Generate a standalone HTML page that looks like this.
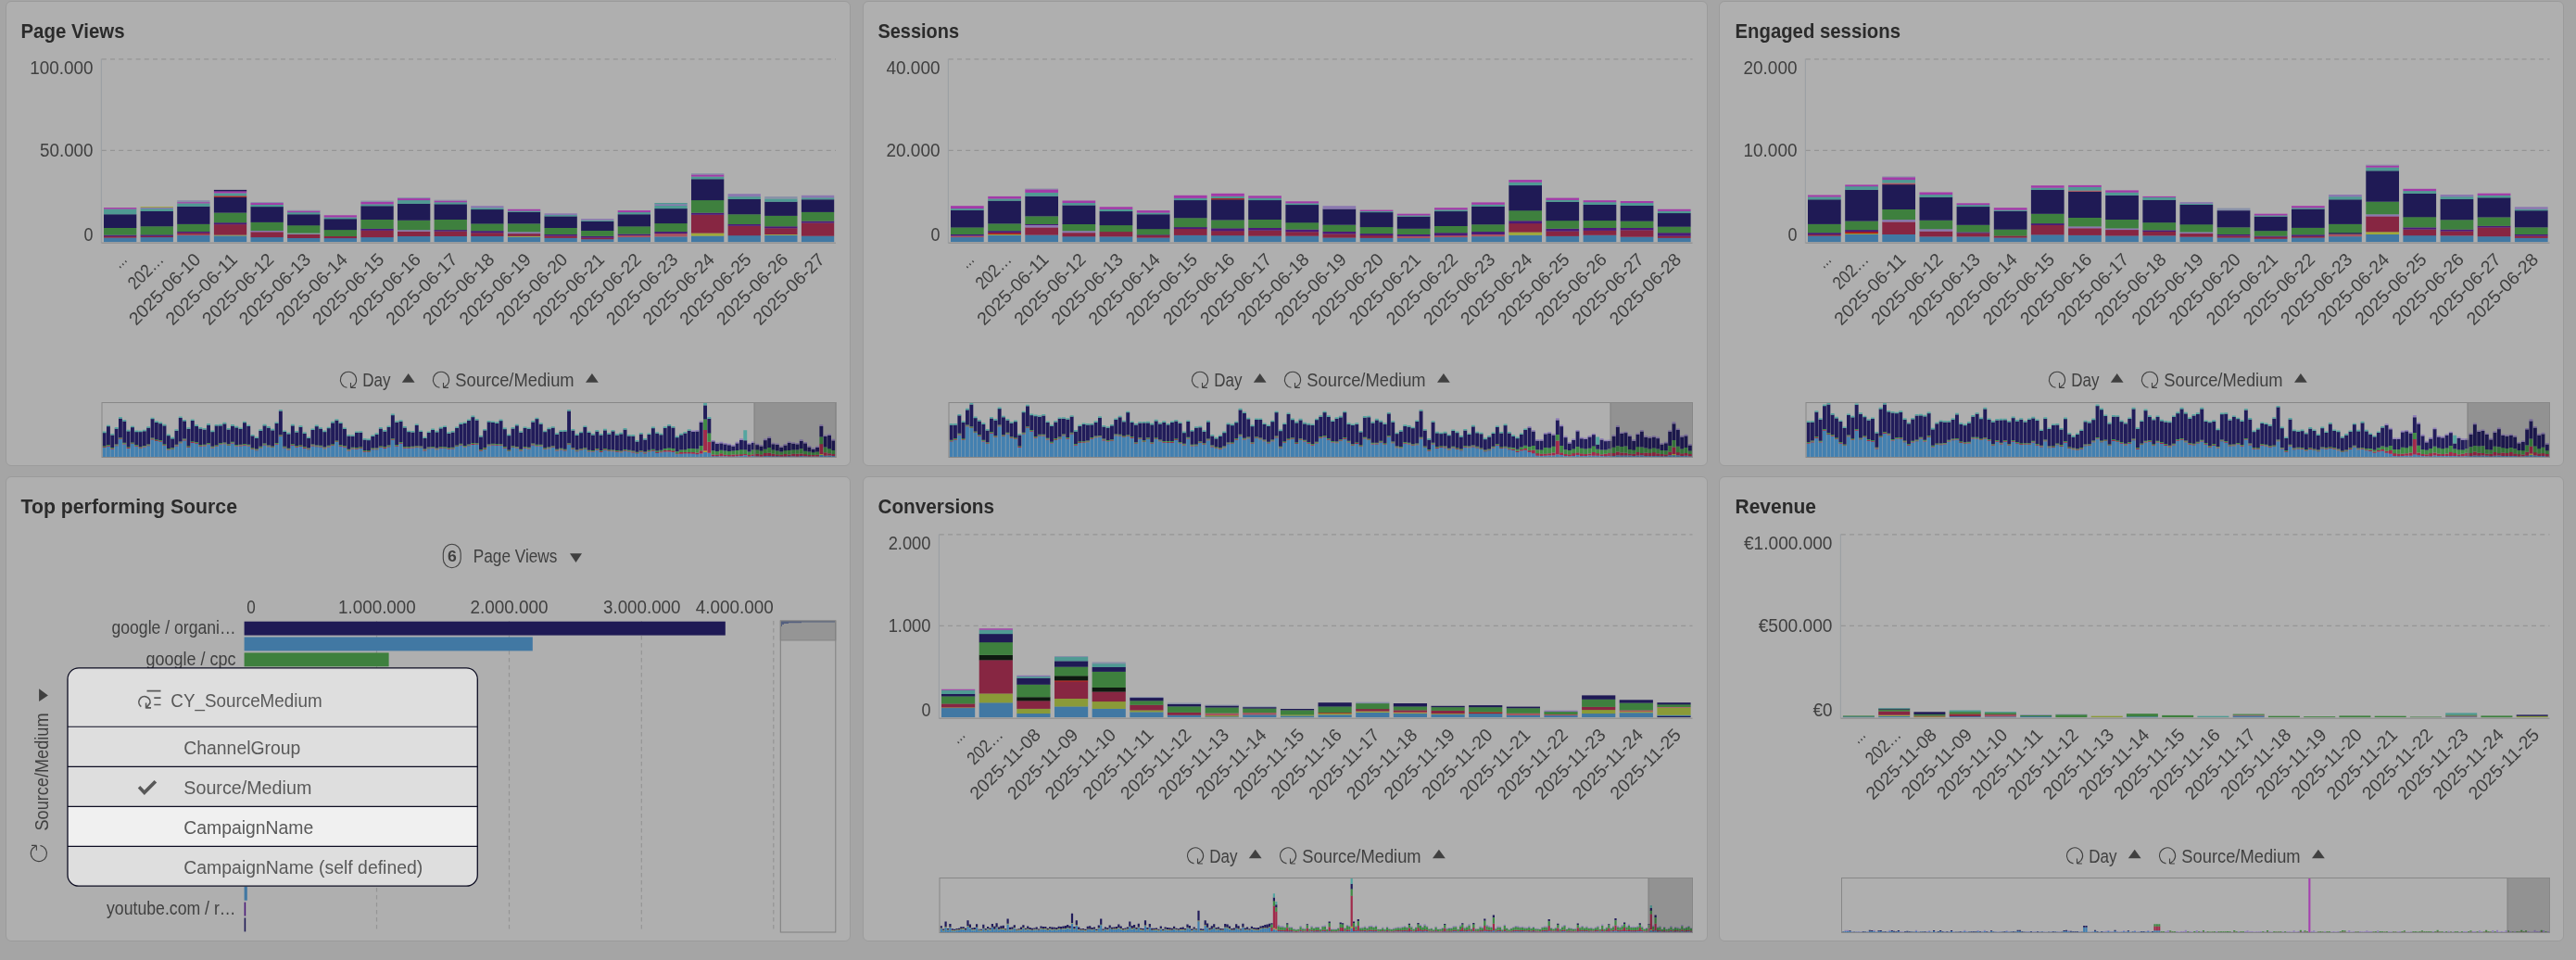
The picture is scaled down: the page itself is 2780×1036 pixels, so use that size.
<!DOCTYPE html>
<html lang="en"><head><meta charset="utf-8"><title>Dashboard</title>
<style>
html,body{margin:0;padding:0}
body{width:2780px;height:1036px;background:#a5a5a5;overflow:hidden;position:relative;font-family:"Liberation Sans", sans-serif}
.panel{position:absolute;box-sizing:border-box;background:#afafaf;border:1px solid #9b9b9b;border-radius:6px}
svg{position:absolute;left:0;top:0;will-change:transform}
svg text{font-family:"Liberation Sans", sans-serif}
#popup{position:absolute;left:69px;top:717px;width:450px;height:243px}
</style></head><body>
<div class="panel" style="left:6px;top:1px;width:912px;height:501.5px"></div>
<div class="panel" style="left:930.5px;top:1px;width:912px;height:501.5px"></div>
<div class="panel" style="left:1855px;top:1px;width:912px;height:501.5px"></div>
<div class="panel" style="left:6px;top:514px;width:912px;height:501.5px"></div>
<div class="panel" style="left:930.5px;top:514px;width:912px;height:501.5px"></div>
<div class="panel" style="left:1855px;top:514px;width:912px;height:501.5px"></div>
<svg width="2780" height="1036" viewBox="0 0 2780 1036" font-size="19.3" fill="#404040">
<text x="22.5" y="40.7" textLength="112" lengthAdjust="spacingAndGlyphs" font-weight="bold" font-size="22.6" fill="#2b2b2b">Page Views</text>
<text x="947.5" y="40.7" textLength="87.5" lengthAdjust="spacingAndGlyphs" font-weight="bold" font-size="22.6" fill="#2b2b2b">Sessions</text>
<text x="1872.5" y="40.7" textLength="178.5" lengthAdjust="spacingAndGlyphs" font-weight="bold" font-size="22.6" fill="#2b2b2b">Engaged sessions</text>
<text x="22.5" y="553.5" textLength="233.5" lengthAdjust="spacingAndGlyphs" font-weight="bold" font-size="22.6" fill="#2b2b2b">Top performing Source</text>
<text x="947.5" y="553.5" textLength="125.5" lengthAdjust="spacingAndGlyphs" font-weight="bold" font-size="22.6" fill="#2b2b2b">Conversions</text>
<text x="1872.5" y="553.5" textLength="87.5" lengthAdjust="spacingAndGlyphs" font-weight="bold" font-size="22.6" fill="#2b2b2b">Revenue</text>
<path d="M109.8 63.8H902" stroke="#959595" stroke-width="1.3" stroke-dasharray="5 4.2" fill="none"/>
<path d="M109.8 162.3H902" stroke="#959595" stroke-width="1.3" stroke-dasharray="5 4.2" fill="none"/>
<text x="100.5" y="79.6" text-anchor="end" textLength="68.3" lengthAdjust="spacingAndGlyphs">100.000</text>
<text x="100.5" y="168.9" text-anchor="end" textLength="57.5" lengthAdjust="spacingAndGlyphs">50.000</text>
<text x="100.5" y="260.4" text-anchor="end" textLength="10" lengthAdjust="spacingAndGlyphs">0</text>
<rect x="112" y="256.4" width="35.3" height="4.8" fill="#4178a3"/>
<rect x="112" y="254.8" width="35.3" height="1.8" fill="#872642"/>
<rect x="112" y="253.5" width="35.3" height="1.4" fill="#4a1a78"/>
<rect x="112" y="245.8" width="35.3" height="7.8" fill="#3e803e"/>
<rect x="112" y="231.2" width="35.3" height="14.8" fill="#1f1a55"/>
<rect x="112" y="225.5" width="35.3" height="5.8" fill="#4f9a93"/>
<rect x="112" y="224.1" width="35.3" height="1.5" fill="#a23aa8"/>
<rect x="151.6" y="255.9" width="35.3" height="5.2" fill="#4178a3"/>
<rect x="151.6" y="254.8" width="35.3" height="1.3" fill="#872642"/>
<rect x="151.6" y="253.2" width="35.3" height="1.7" fill="#4a1a78"/>
<rect x="151.6" y="244.2" width="35.3" height="9.2" fill="#3e803e"/>
<rect x="151.6" y="227.9" width="35.3" height="16.4" fill="#1f1a55"/>
<rect x="151.6" y="225.1" width="35.3" height="2.9" fill="#4f9a93"/>
<rect x="151.6" y="223.8" width="35.3" height="1.5" fill="#8a78b0"/>
<rect x="151.6" y="223" width="35.3" height="0.9" fill="#9fa83a"/>
<rect x="191.2" y="254" width="35.3" height="7.2" fill="#4178a3"/>
<rect x="191.2" y="252.8" width="35.3" height="1.3" fill="#a85560"/>
<rect x="191.2" y="251.2" width="35.3" height="1.8" fill="#872642"/>
<rect x="191.2" y="249.9" width="35.3" height="1.4" fill="#4a1a78"/>
<rect x="191.2" y="241.8" width="35.3" height="8.2" fill="#3e803e"/>
<rect x="191.2" y="222.7" width="35.3" height="19.2" fill="#1f1a55"/>
<rect x="191.2" y="219.3" width="35.3" height="3.6" fill="#4f9a93"/>
<rect x="191.2" y="218.1" width="35.3" height="1.3" fill="#a23aa8"/>
<rect x="191.2" y="216.2" width="35.3" height="2" fill="#8890a8"/>
<rect x="230.9" y="254.3" width="35.3" height="6.9" fill="#4178a3"/>
<rect x="230.9" y="253.5" width="35.3" height="0.9" fill="#9fa83a"/>
<rect x="230.9" y="242.1" width="35.3" height="11.5" fill="#872642"/>
<rect x="230.9" y="240.1" width="35.3" height="2.1" fill="#4a1a78"/>
<rect x="230.9" y="229.5" width="35.3" height="10.8" fill="#3e803e"/>
<rect x="230.9" y="212.7" width="35.3" height="16.9" fill="#1f1a55"/>
<rect x="230.9" y="211.3" width="35.3" height="1.6" fill="#a82020"/>
<rect x="230.9" y="208.3" width="35.3" height="3.1" fill="#4f9a93"/>
<rect x="230.9" y="206.2" width="35.3" height="2.2" fill="#a23aa8"/>
<rect x="230.9" y="204.9" width="35.3" height="1.5" fill="#1f1a55"/>
<rect x="270.5" y="255.9" width="35.3" height="5.2" fill="#4178a3"/>
<rect x="270.5" y="250.2" width="35.3" height="5.9" fill="#872642"/>
<rect x="270.5" y="248.8" width="35.3" height="1.5" fill="#8a78b0"/>
<rect x="270.5" y="239.8" width="35.3" height="9.2" fill="#3e803e"/>
<rect x="270.5" y="223" width="35.3" height="16.9" fill="#1f1a55"/>
<rect x="270.5" y="220.9" width="35.3" height="2.3" fill="#4f9a93"/>
<rect x="270.5" y="219" width="35.3" height="2" fill="#a23aa8"/>
<rect x="270.5" y="218.1" width="35.3" height="1" fill="#8890a8"/>
<rect x="310.1" y="256.9" width="35.3" height="4.2" fill="#4178a3"/>
<rect x="310.1" y="252.8" width="35.3" height="4.2" fill="#872642"/>
<rect x="310.1" y="251.5" width="35.3" height="1.5" fill="#8890a8"/>
<rect x="310.1" y="243.1" width="35.3" height="8.5" fill="#3e803e"/>
<rect x="310.1" y="231.2" width="35.3" height="12.1" fill="#1f1a55"/>
<rect x="310.1" y="229" width="35.3" height="2.3" fill="#4f9a93"/>
<rect x="310.1" y="227.4" width="35.3" height="1.8" fill="#a23aa8"/>
<rect x="310.1" y="226.8" width="35.3" height="0.8" fill="#8890a8"/>
<rect x="349.7" y="256.9" width="35.3" height="4.2" fill="#4178a3"/>
<rect x="349.7" y="254.8" width="35.3" height="2.3" fill="#872642"/>
<rect x="349.7" y="248" width="35.3" height="7" fill="#3e803e"/>
<rect x="349.7" y="236.1" width="35.3" height="12" fill="#1f1a55"/>
<rect x="349.7" y="234.4" width="35.3" height="1.9" fill="#4f9a93"/>
<rect x="349.7" y="232.3" width="35.3" height="2.2" fill="#a23aa8"/>
<rect x="389.4" y="255.9" width="35.3" height="5.2" fill="#4178a3"/>
<rect x="389.4" y="248.6" width="35.3" height="7.5" fill="#872642"/>
<rect x="389.4" y="246.7" width="35.3" height="2.1" fill="#4a1a78"/>
<rect x="389.4" y="236.9" width="35.3" height="10" fill="#3e803e"/>
<rect x="389.4" y="222.2" width="35.3" height="14.8" fill="#1f1a55"/>
<rect x="389.4" y="220.2" width="35.3" height="2.1" fill="#4f9a93"/>
<rect x="389.4" y="217.8" width="35.3" height="2.6" fill="#a23aa8"/>
<rect x="389.4" y="216.6" width="35.3" height="1.3" fill="#8890a8"/>
<rect x="429" y="254.8" width="35.3" height="6.4" fill="#4178a3"/>
<rect x="429" y="249.6" width="35.3" height="5.4" fill="#872642"/>
<rect x="429" y="248" width="35.3" height="1.7" fill="#8a78b0"/>
<rect x="429" y="237.7" width="35.3" height="10.5" fill="#3e803e"/>
<rect x="429" y="219.7" width="35.3" height="18.1" fill="#1f1a55"/>
<rect x="429" y="216" width="35.3" height="3.9" fill="#4f9a93"/>
<rect x="429" y="214" width="35.3" height="2.1" fill="#a23aa8"/>
<rect x="429" y="213.1" width="35.3" height="1" fill="#8890a8"/>
<rect x="468.6" y="254.8" width="35.3" height="6.4" fill="#4178a3"/>
<rect x="468.6" y="249.6" width="35.3" height="5.4" fill="#872642"/>
<rect x="468.6" y="248" width="35.3" height="1.7" fill="#4a1a78"/>
<rect x="468.6" y="236.9" width="35.3" height="11.3" fill="#3e803e"/>
<rect x="468.6" y="220.2" width="35.3" height="16.8" fill="#1f1a55"/>
<rect x="468.6" y="218.1" width="35.3" height="2.3" fill="#4f9a93"/>
<rect x="468.6" y="216.5" width="35.3" height="1.8" fill="#a23aa8"/>
<rect x="468.6" y="215.7" width="35.3" height="0.9" fill="#8890a8"/>
<rect x="508.2" y="254.8" width="35.3" height="6.4" fill="#4178a3"/>
<rect x="508.2" y="251.2" width="35.3" height="3.8" fill="#872642"/>
<rect x="508.2" y="249.1" width="35.3" height="2.2" fill="#4a1a78"/>
<rect x="508.2" y="241.3" width="35.3" height="7.9" fill="#3e803e"/>
<rect x="508.2" y="226" width="35.3" height="15.5" fill="#1f1a55"/>
<rect x="508.2" y="224.2" width="35.3" height="1.9" fill="#4f9a93"/>
<rect x="508.2" y="222.2" width="35.3" height="2.1" fill="#8a78b0"/>
<rect x="547.9" y="255.6" width="35.3" height="5.6" fill="#4178a3"/>
<rect x="547.9" y="254.8" width="35.3" height="0.9" fill="#9fa83a"/>
<rect x="547.9" y="252" width="35.3" height="2.9" fill="#872642"/>
<rect x="547.9" y="250.2" width="35.3" height="2" fill="#8a78b0"/>
<rect x="547.9" y="241.3" width="35.3" height="9" fill="#3e803e"/>
<rect x="547.9" y="228.7" width="35.3" height="12.7" fill="#1f1a55"/>
<rect x="547.9" y="227.4" width="35.3" height="1.5" fill="#4f9a93"/>
<rect x="547.9" y="225.8" width="35.3" height="1.8" fill="#a23aa8"/>
<rect x="587.5" y="256.8" width="35.3" height="4.4" fill="#4178a3"/>
<rect x="587.5" y="254.5" width="35.3" height="2.4" fill="#872642"/>
<rect x="587.5" y="252.8" width="35.3" height="1.8" fill="#4a1a78"/>
<rect x="587.5" y="245.8" width="35.3" height="7.2" fill="#3e803e"/>
<rect x="587.5" y="233.3" width="35.3" height="12.7" fill="#1f1a55"/>
<rect x="587.5" y="232" width="35.3" height="1.5" fill="#4f9a93"/>
<rect x="587.5" y="230.3" width="35.3" height="1.8" fill="#8a78b0"/>
<rect x="627.1" y="258.1" width="35.3" height="3" fill="#4178a3"/>
<rect x="627.1" y="256.4" width="35.3" height="1.8" fill="#872642"/>
<rect x="627.1" y="254.8" width="35.3" height="1.8" fill="#4a1a78"/>
<rect x="627.1" y="248.8" width="35.3" height="6.1" fill="#3e803e"/>
<rect x="627.1" y="238.8" width="35.3" height="10.2" fill="#1f1a55"/>
<rect x="627.1" y="237.6" width="35.3" height="1.3" fill="#4f9a93"/>
<rect x="627.1" y="236.1" width="35.3" height="1.6" fill="#8a78b0"/>
<rect x="666.7" y="255.9" width="35.3" height="5.2" fill="#4178a3"/>
<rect x="666.7" y="254" width="35.3" height="2.1" fill="#a85560"/>
<rect x="666.7" y="252.4" width="35.3" height="1.7" fill="#4a1a78"/>
<rect x="666.7" y="244.2" width="35.3" height="8.4" fill="#3e803e"/>
<rect x="666.7" y="231.2" width="35.3" height="13.2" fill="#1f1a55"/>
<rect x="666.7" y="229" width="35.3" height="2.3" fill="#4f9a93"/>
<rect x="666.7" y="227.1" width="35.3" height="2" fill="#a23aa8"/>
<rect x="706.4" y="255.3" width="35.3" height="5.9" fill="#4178a3"/>
<rect x="706.4" y="252" width="35.3" height="3.4" fill="#a85560"/>
<rect x="706.4" y="249.9" width="35.3" height="2.2" fill="#4a1a78"/>
<rect x="706.4" y="241" width="35.3" height="9.1" fill="#3e803e"/>
<rect x="706.4" y="225" width="35.3" height="16.1" fill="#1f1a55"/>
<rect x="706.4" y="221.9" width="35.3" height="3.3" fill="#4f9a93"/>
<rect x="706.4" y="220.2" width="35.3" height="1.8" fill="#8a78b0"/>
<rect x="706.4" y="219" width="35.3" height="1.4" fill="#4f9a93"/>
<rect x="746" y="254.5" width="35.3" height="6.7" fill="#4178a3"/>
<rect x="746" y="251.5" width="35.3" height="3.1" fill="#9fa83a"/>
<rect x="746" y="231.7" width="35.3" height="19.9" fill="#872642"/>
<rect x="746" y="229.5" width="35.3" height="2.3" fill="#4a1a78"/>
<rect x="746" y="216" width="35.3" height="13.7" fill="#3e803e"/>
<rect x="746" y="193.2" width="35.3" height="22.9" fill="#1f1a55"/>
<rect x="746" y="190.4" width="35.3" height="2.9" fill="#4f9a93"/>
<rect x="746" y="188.3" width="35.3" height="2.3" fill="#a23aa8"/>
<rect x="746" y="187.1" width="35.3" height="1.4" fill="#8890a8"/>
<rect x="785.6" y="254" width="35.3" height="7.2" fill="#4178a3"/>
<rect x="785.6" y="243.7" width="35.3" height="10.5" fill="#872642"/>
<rect x="785.6" y="241.8" width="35.3" height="2" fill="#4a1a78"/>
<rect x="785.6" y="231.2" width="35.3" height="10.8" fill="#3e803e"/>
<rect x="785.6" y="214.9" width="35.3" height="16.4" fill="#1f1a55"/>
<rect x="785.6" y="212.1" width="35.3" height="2.9" fill="#4f9a93"/>
<rect x="785.6" y="209.2" width="35.3" height="3" fill="#8a78b0"/>
<rect x="825.2" y="253.7" width="35.3" height="7.5" fill="#4178a3"/>
<rect x="825.2" y="252.8" width="35.3" height="1" fill="#9fa83a"/>
<rect x="825.2" y="246.2" width="35.3" height="6.8" fill="#872642"/>
<rect x="825.2" y="244.2" width="35.3" height="2.1" fill="#4a1a78"/>
<rect x="825.2" y="232.8" width="35.3" height="11.5" fill="#3e803e"/>
<rect x="825.2" y="217.6" width="35.3" height="15.3" fill="#1f1a55"/>
<rect x="825.2" y="214.4" width="35.3" height="3.4" fill="#4f9a93"/>
<rect x="825.2" y="212.1" width="35.3" height="2.4" fill="#8890a8"/>
<rect x="864.9" y="254.5" width="35.3" height="6.7" fill="#4178a3"/>
<rect x="864.9" y="240.5" width="35.3" height="14.2" fill="#872642"/>
<rect x="864.9" y="238.5" width="35.3" height="2.1" fill="#4a1a78"/>
<rect x="864.9" y="228.7" width="35.3" height="9.9" fill="#3e803e"/>
<rect x="864.9" y="215.2" width="35.3" height="13.7" fill="#1f1a55"/>
<rect x="864.9" y="213.2" width="35.3" height="2.1" fill="#4f9a93"/>
<rect x="864.9" y="210.8" width="35.3" height="2.6" fill="#8a78b0"/>
<path d="M109.4 63.5V262.5" stroke="#9499a0" stroke-width="0.8" fill="none"/>
<path d="M109.5 262.2H902" stroke="#959595" stroke-width="1.5" fill="none"/>
<text transform="translate(138.3,281.2) rotate(-45)" text-anchor="end" textLength="13.5" lengthAdjust="spacingAndGlyphs">…</text>
<text transform="translate(177.9,281.2) rotate(-45)" text-anchor="end" textLength="45.5" lengthAdjust="spacingAndGlyphs">202…</text>
<text transform="translate(217.6,281.2) rotate(-45)" text-anchor="end" textLength="100" lengthAdjust="spacingAndGlyphs">2025-06-10</text>
<text transform="translate(257.2,281.2) rotate(-45)" text-anchor="end" textLength="100" lengthAdjust="spacingAndGlyphs">2025-06-11</text>
<text transform="translate(296.8,281.2) rotate(-45)" text-anchor="end" textLength="100" lengthAdjust="spacingAndGlyphs">2025-06-12</text>
<text transform="translate(336.4,281.2) rotate(-45)" text-anchor="end" textLength="100" lengthAdjust="spacingAndGlyphs">2025-06-13</text>
<text transform="translate(376.1,281.2) rotate(-45)" text-anchor="end" textLength="100" lengthAdjust="spacingAndGlyphs">2025-06-14</text>
<text transform="translate(415.7,281.2) rotate(-45)" text-anchor="end" textLength="100" lengthAdjust="spacingAndGlyphs">2025-06-15</text>
<text transform="translate(455.3,281.2) rotate(-45)" text-anchor="end" textLength="100" lengthAdjust="spacingAndGlyphs">2025-06-16</text>
<text transform="translate(494.9,281.2) rotate(-45)" text-anchor="end" textLength="100" lengthAdjust="spacingAndGlyphs">2025-06-17</text>
<text transform="translate(534.6,281.2) rotate(-45)" text-anchor="end" textLength="100" lengthAdjust="spacingAndGlyphs">2025-06-18</text>
<text transform="translate(574.2,281.2) rotate(-45)" text-anchor="end" textLength="100" lengthAdjust="spacingAndGlyphs">2025-06-19</text>
<text transform="translate(613.8,281.2) rotate(-45)" text-anchor="end" textLength="100" lengthAdjust="spacingAndGlyphs">2025-06-20</text>
<text transform="translate(653.4,281.2) rotate(-45)" text-anchor="end" textLength="100" lengthAdjust="spacingAndGlyphs">2025-06-21</text>
<text transform="translate(693.1,281.2) rotate(-45)" text-anchor="end" textLength="100" lengthAdjust="spacingAndGlyphs">2025-06-22</text>
<text transform="translate(732.7,281.2) rotate(-45)" text-anchor="end" textLength="100" lengthAdjust="spacingAndGlyphs">2025-06-23</text>
<text transform="translate(772.3,281.2) rotate(-45)" text-anchor="end" textLength="100" lengthAdjust="spacingAndGlyphs">2025-06-24</text>
<text transform="translate(811.9,281.2) rotate(-45)" text-anchor="end" textLength="100" lengthAdjust="spacingAndGlyphs">2025-06-25</text>
<text transform="translate(851.6,281.2) rotate(-45)" text-anchor="end" textLength="100" lengthAdjust="spacingAndGlyphs">2025-06-26</text>
<text transform="translate(891.2,281.2) rotate(-45)" text-anchor="end" textLength="100" lengthAdjust="spacingAndGlyphs">2025-06-27</text>
<path d="M1023.8 63.8H1826.5" stroke="#959595" stroke-width="1.3" stroke-dasharray="5 4.2" fill="none"/>
<path d="M1023.8 162.3H1826.5" stroke="#959595" stroke-width="1.3" stroke-dasharray="5 4.2" fill="none"/>
<text x="1014.5" y="79.6" text-anchor="end" textLength="58" lengthAdjust="spacingAndGlyphs">40.000</text>
<text x="1014.5" y="168.9" text-anchor="end" textLength="58" lengthAdjust="spacingAndGlyphs">20.000</text>
<text x="1014.5" y="260.4" text-anchor="end" textLength="10" lengthAdjust="spacingAndGlyphs">0</text>
<rect x="1026" y="255.9" width="35.7" height="5.2" fill="#4178a3"/>
<rect x="1026" y="254.5" width="35.7" height="1.6" fill="#a85560"/>
<rect x="1026" y="252.8" width="35.7" height="1.8" fill="#4a1a78"/>
<rect x="1026" y="245.3" width="35.7" height="7.7" fill="#3e803e"/>
<rect x="1026" y="226.8" width="35.7" height="18.7" fill="#1f1a55"/>
<rect x="1026" y="225" width="35.7" height="1.9" fill="#4f9a93"/>
<rect x="1026" y="222.2" width="35.7" height="2.9" fill="#a23aa8"/>
<rect x="1066.2" y="253.7" width="35.7" height="7.5" fill="#4178a3"/>
<rect x="1066.2" y="252.8" width="35.7" height="1" fill="#9fa83a"/>
<rect x="1066.2" y="251.1" width="35.7" height="1.9" fill="#a82020"/>
<rect x="1066.2" y="249.1" width="35.7" height="2.1" fill="#4a1a78"/>
<rect x="1066.2" y="241.3" width="35.7" height="7.9" fill="#3e803e"/>
<rect x="1066.2" y="216.5" width="35.7" height="24.9" fill="#1f1a55"/>
<rect x="1066.2" y="214.4" width="35.7" height="2.3" fill="#4f9a93"/>
<rect x="1066.2" y="211.9" width="35.7" height="2.6" fill="#a23aa8"/>
<rect x="1106.3" y="253.5" width="35.7" height="7.7" fill="#4178a3"/>
<rect x="1106.3" y="245.3" width="35.7" height="8.3" fill="#872642"/>
<rect x="1106.3" y="242.9" width="35.7" height="2.6" fill="#8a78b0"/>
<rect x="1106.3" y="241.8" width="35.7" height="1.2" fill="#4a1a78"/>
<rect x="1106.3" y="233.3" width="35.7" height="8.7" fill="#3e803e"/>
<rect x="1106.3" y="211.6" width="35.7" height="21.8" fill="#1f1a55"/>
<rect x="1106.3" y="207.8" width="35.7" height="4" fill="#4f9a93"/>
<rect x="1106.3" y="204.3" width="35.7" height="3.6" fill="#a23aa8"/>
<rect x="1106.3" y="203.5" width="35.7" height="0.9" fill="#8890a8"/>
<rect x="1146.5" y="255.1" width="35.7" height="6.1" fill="#4178a3"/>
<rect x="1146.5" y="251.1" width="35.7" height="4.2" fill="#872642"/>
<rect x="1146.5" y="249.1" width="35.7" height="2.1" fill="#8a78b0"/>
<rect x="1146.5" y="241.8" width="35.7" height="7.4" fill="#3e803e"/>
<rect x="1146.5" y="221.4" width="35.7" height="20.6" fill="#1f1a55"/>
<rect x="1146.5" y="219" width="35.7" height="2.5" fill="#4f9a93"/>
<rect x="1146.5" y="216.5" width="35.7" height="2.6" fill="#a23aa8"/>
<rect x="1186.6" y="255.3" width="35.7" height="5.9" fill="#4178a3"/>
<rect x="1186.6" y="249.9" width="35.7" height="5.5" fill="#872642"/>
<rect x="1186.6" y="242.9" width="35.7" height="7.2" fill="#3e803e"/>
<rect x="1186.6" y="227.9" width="35.7" height="15.2" fill="#1f1a55"/>
<rect x="1186.6" y="225.8" width="35.7" height="2.3" fill="#4f9a93"/>
<rect x="1186.6" y="223.3" width="35.7" height="2.6" fill="#a23aa8"/>
<rect x="1226.8" y="256.4" width="35.7" height="4.8" fill="#4178a3"/>
<rect x="1226.8" y="254" width="35.7" height="2.6" fill="#872642"/>
<rect x="1226.8" y="253.2" width="35.7" height="0.9" fill="#4a1a78"/>
<rect x="1226.8" y="247" width="35.7" height="6.4" fill="#3e803e"/>
<rect x="1226.8" y="231.2" width="35.7" height="16" fill="#1f1a55"/>
<rect x="1226.8" y="229.5" width="35.7" height="1.8" fill="#4f9a93"/>
<rect x="1226.8" y="227.1" width="35.7" height="2.5" fill="#a23aa8"/>
<rect x="1266.9" y="253.7" width="35.7" height="7.5" fill="#4178a3"/>
<rect x="1266.9" y="247" width="35.7" height="6.9" fill="#872642"/>
<rect x="1266.9" y="245" width="35.7" height="2.1" fill="#4a1a78"/>
<rect x="1266.9" y="235.2" width="35.7" height="10" fill="#3e803e"/>
<rect x="1266.9" y="216" width="35.7" height="19.3" fill="#1f1a55"/>
<rect x="1266.9" y="213.7" width="35.7" height="2.4" fill="#4f9a93"/>
<rect x="1266.9" y="210.8" width="35.7" height="3.1" fill="#a23aa8"/>
<rect x="1307.1" y="254" width="35.7" height="7.2" fill="#4178a3"/>
<rect x="1307.1" y="249.1" width="35.7" height="5.1" fill="#872642"/>
<rect x="1307.1" y="246.2" width="35.7" height="3.1" fill="#4a1a78"/>
<rect x="1307.1" y="237.4" width="35.7" height="9" fill="#3e803e"/>
<rect x="1307.1" y="215.2" width="35.7" height="22.3" fill="#1f1a55"/>
<rect x="1307.1" y="214" width="35.7" height="1.4" fill="#a82020"/>
<rect x="1307.1" y="211.6" width="35.7" height="2.5" fill="#4f9a93"/>
<rect x="1307.1" y="208.8" width="35.7" height="3" fill="#a23aa8"/>
<rect x="1347.2" y="254.5" width="35.7" height="6.7" fill="#4178a3"/>
<rect x="1347.2" y="248.6" width="35.7" height="6.1" fill="#872642"/>
<rect x="1347.2" y="245.8" width="35.7" height="2.9" fill="#4a1a78"/>
<rect x="1347.2" y="236.9" width="35.7" height="9.1" fill="#3e803e"/>
<rect x="1347.2" y="216" width="35.7" height="21" fill="#1f1a55"/>
<rect x="1347.2" y="213.6" width="35.7" height="2.5" fill="#4f9a93"/>
<rect x="1347.2" y="211.3" width="35.7" height="2.5" fill="#a23aa8"/>
<rect x="1387.4" y="254.5" width="35.7" height="6.7" fill="#4178a3"/>
<rect x="1387.4" y="250.2" width="35.7" height="4.5" fill="#872642"/>
<rect x="1387.4" y="247.5" width="35.7" height="2.8" fill="#4a1a78"/>
<rect x="1387.4" y="240.1" width="35.7" height="7.5" fill="#3e803e"/>
<rect x="1387.4" y="220.9" width="35.7" height="19.4" fill="#1f1a55"/>
<rect x="1387.4" y="219.3" width="35.7" height="1.8" fill="#4f9a93"/>
<rect x="1387.4" y="217.3" width="35.7" height="2.1" fill="#a23aa8"/>
<rect x="1427.5" y="256.4" width="35.7" height="4.8" fill="#4178a3"/>
<rect x="1427.5" y="252.4" width="35.7" height="4.2" fill="#872642"/>
<rect x="1427.5" y="249.9" width="35.7" height="2.6" fill="#4a1a78"/>
<rect x="1427.5" y="242.6" width="35.7" height="7.4" fill="#3e803e"/>
<rect x="1427.5" y="225.5" width="35.7" height="17.2" fill="#1f1a55"/>
<rect x="1427.5" y="222.2" width="35.7" height="3.4" fill="#8a78b0"/>
<rect x="1467.7" y="256.8" width="35.7" height="4.4" fill="#4178a3"/>
<rect x="1467.7" y="254" width="35.7" height="2.9" fill="#872642"/>
<rect x="1467.7" y="252" width="35.7" height="2.1" fill="#4a1a78"/>
<rect x="1467.7" y="245" width="35.7" height="7.2" fill="#3e803e"/>
<rect x="1467.7" y="229" width="35.7" height="16.1" fill="#1f1a55"/>
<rect x="1467.7" y="227.9" width="35.7" height="1.3" fill="#4f9a93"/>
<rect x="1467.7" y="226.6" width="35.7" height="1.4" fill="#a23aa8"/>
<rect x="1507.8" y="256.9" width="35.7" height="4.2" fill="#4178a3"/>
<rect x="1507.8" y="254.8" width="35.7" height="2.3" fill="#a85560"/>
<rect x="1507.8" y="252.8" width="35.7" height="2.1" fill="#4a1a78"/>
<rect x="1507.8" y="246.7" width="35.7" height="6.3" fill="#3e803e"/>
<rect x="1507.8" y="233.6" width="35.7" height="13.2" fill="#1f1a55"/>
<rect x="1507.8" y="232.3" width="35.7" height="1.5" fill="#4f9a93"/>
<rect x="1507.8" y="230.7" width="35.7" height="1.8" fill="#a23aa8"/>
<rect x="1548" y="255.9" width="35.7" height="5.2" fill="#4178a3"/>
<rect x="1548" y="254" width="35.7" height="2.1" fill="#a85560"/>
<rect x="1548" y="251.1" width="35.7" height="3.1" fill="#4a1a78"/>
<rect x="1548" y="243.9" width="35.7" height="7.4" fill="#3e803e"/>
<rect x="1548" y="227.9" width="35.7" height="16.1" fill="#1f1a55"/>
<rect x="1548" y="226.3" width="35.7" height="1.8" fill="#4f9a93"/>
<rect x="1548" y="224.2" width="35.7" height="2.2" fill="#a23aa8"/>
<rect x="1588.1" y="255.1" width="35.7" height="6.1" fill="#4178a3"/>
<rect x="1588.1" y="252.8" width="35.7" height="2.4" fill="#a85560"/>
<rect x="1588.1" y="249.9" width="35.7" height="3.1" fill="#4a1a78"/>
<rect x="1588.1" y="242.2" width="35.7" height="7.9" fill="#3e803e"/>
<rect x="1588.1" y="222.7" width="35.7" height="19.6" fill="#1f1a55"/>
<rect x="1588.1" y="220.6" width="35.7" height="2.3" fill="#4f9a93"/>
<rect x="1588.1" y="218.4" width="35.7" height="2.4" fill="#a23aa8"/>
<rect x="1628.3" y="253.7" width="35.7" height="7.5" fill="#4178a3"/>
<rect x="1628.3" y="250.4" width="35.7" height="3.4" fill="#9fa83a"/>
<rect x="1628.3" y="241" width="35.7" height="9.6" fill="#872642"/>
<rect x="1628.3" y="238.2" width="35.7" height="3" fill="#4a1a78"/>
<rect x="1628.3" y="227.1" width="35.7" height="11.2" fill="#3e803e"/>
<rect x="1628.3" y="199.9" width="35.7" height="27.4" fill="#1f1a55"/>
<rect x="1628.3" y="196.6" width="35.7" height="3.5" fill="#4f9a93"/>
<rect x="1628.3" y="194.1" width="35.7" height="2.6" fill="#a23aa8"/>
<rect x="1668.4" y="254.8" width="35.7" height="6.4" fill="#4178a3"/>
<rect x="1668.4" y="249.4" width="35.7" height="5.5" fill="#872642"/>
<rect x="1668.4" y="246.7" width="35.7" height="2.9" fill="#4a1a78"/>
<rect x="1668.4" y="238" width="35.7" height="8.8" fill="#3e803e"/>
<rect x="1668.4" y="217.8" width="35.7" height="20.4" fill="#1f1a55"/>
<rect x="1668.4" y="215.7" width="35.7" height="2.2" fill="#4f9a93"/>
<rect x="1668.4" y="213.6" width="35.7" height="2.3" fill="#a23aa8"/>
<rect x="1708.6" y="253.7" width="35.7" height="7.5" fill="#4178a3"/>
<rect x="1708.6" y="248.8" width="35.7" height="5" fill="#872642"/>
<rect x="1708.6" y="245.8" width="35.7" height="3.1" fill="#4a1a78"/>
<rect x="1708.6" y="238" width="35.7" height="8" fill="#3e803e"/>
<rect x="1708.6" y="220.9" width="35.7" height="17.2" fill="#1f1a55"/>
<rect x="1708.6" y="218.1" width="35.7" height="2.9" fill="#4f9a93"/>
<rect x="1708.6" y="216.2" width="35.7" height="2" fill="#a23aa8"/>
<rect x="1748.7" y="255.6" width="35.7" height="5.6" fill="#4178a3"/>
<rect x="1748.7" y="248.3" width="35.7" height="7.4" fill="#872642"/>
<rect x="1748.7" y="245.8" width="35.7" height="2.6" fill="#4a1a78"/>
<rect x="1748.7" y="238.5" width="35.7" height="7.5" fill="#3e803e"/>
<rect x="1748.7" y="221.9" width="35.7" height="16.8" fill="#1f1a55"/>
<rect x="1748.7" y="219" width="35.7" height="3" fill="#4f9a93"/>
<rect x="1748.7" y="217" width="35.7" height="2.1" fill="#a23aa8"/>
<rect x="1788.9" y="256.8" width="35.7" height="4.4" fill="#4178a3"/>
<rect x="1788.9" y="254.5" width="35.7" height="2.4" fill="#872642"/>
<rect x="1788.9" y="251.1" width="35.7" height="3.6" fill="#4a1a78"/>
<rect x="1788.9" y="244.5" width="35.7" height="6.8" fill="#3e803e"/>
<rect x="1788.9" y="230" width="35.7" height="14.7" fill="#1f1a55"/>
<rect x="1788.9" y="227.6" width="35.7" height="2.5" fill="#4f9a93"/>
<rect x="1788.9" y="225.8" width="35.7" height="2" fill="#a23aa8"/>
<path d="M1023.4 63.5V262.5" stroke="#9499a0" stroke-width="0.8" fill="none"/>
<path d="M1023.5 262.2H1826.5" stroke="#959595" stroke-width="1.5" fill="none"/>
<text transform="translate(1052.6,281.2) rotate(-45)" text-anchor="end" textLength="13.5" lengthAdjust="spacingAndGlyphs">…</text>
<text transform="translate(1092.7,281.2) rotate(-45)" text-anchor="end" textLength="45.5" lengthAdjust="spacingAndGlyphs">202…</text>
<text transform="translate(1132.9,281.2) rotate(-45)" text-anchor="end" textLength="100" lengthAdjust="spacingAndGlyphs">2025-06-11</text>
<text transform="translate(1173,281.2) rotate(-45)" text-anchor="end" textLength="100" lengthAdjust="spacingAndGlyphs">2025-06-12</text>
<text transform="translate(1213.2,281.2) rotate(-45)" text-anchor="end" textLength="100" lengthAdjust="spacingAndGlyphs">2025-06-13</text>
<text transform="translate(1253.3,281.2) rotate(-45)" text-anchor="end" textLength="100" lengthAdjust="spacingAndGlyphs">2025-06-14</text>
<text transform="translate(1293.5,281.2) rotate(-45)" text-anchor="end" textLength="100" lengthAdjust="spacingAndGlyphs">2025-06-15</text>
<text transform="translate(1333.6,281.2) rotate(-45)" text-anchor="end" textLength="100" lengthAdjust="spacingAndGlyphs">2025-06-16</text>
<text transform="translate(1373.8,281.2) rotate(-45)" text-anchor="end" textLength="100" lengthAdjust="spacingAndGlyphs">2025-06-17</text>
<text transform="translate(1413.9,281.2) rotate(-45)" text-anchor="end" textLength="100" lengthAdjust="spacingAndGlyphs">2025-06-18</text>
<text transform="translate(1454.1,281.2) rotate(-45)" text-anchor="end" textLength="100" lengthAdjust="spacingAndGlyphs">2025-06-19</text>
<text transform="translate(1494.2,281.2) rotate(-45)" text-anchor="end" textLength="100" lengthAdjust="spacingAndGlyphs">2025-06-20</text>
<text transform="translate(1534.4,281.2) rotate(-45)" text-anchor="end" textLength="100" lengthAdjust="spacingAndGlyphs">2025-06-21</text>
<text transform="translate(1574.5,281.2) rotate(-45)" text-anchor="end" textLength="100" lengthAdjust="spacingAndGlyphs">2025-06-22</text>
<text transform="translate(1614.7,281.2) rotate(-45)" text-anchor="end" textLength="100" lengthAdjust="spacingAndGlyphs">2025-06-23</text>
<text transform="translate(1654.8,281.2) rotate(-45)" text-anchor="end" textLength="100" lengthAdjust="spacingAndGlyphs">2025-06-24</text>
<text transform="translate(1695,281.2) rotate(-45)" text-anchor="end" textLength="100" lengthAdjust="spacingAndGlyphs">2025-06-25</text>
<text transform="translate(1735.1,281.2) rotate(-45)" text-anchor="end" textLength="100" lengthAdjust="spacingAndGlyphs">2025-06-26</text>
<text transform="translate(1775.3,281.2) rotate(-45)" text-anchor="end" textLength="100" lengthAdjust="spacingAndGlyphs">2025-06-27</text>
<text transform="translate(1815.4,281.2) rotate(-45)" text-anchor="end" textLength="100" lengthAdjust="spacingAndGlyphs">2025-06-28</text>
<path d="M1948.8 63.8H2751.5" stroke="#959595" stroke-width="1.3" stroke-dasharray="5 4.2" fill="none"/>
<path d="M1948.8 162.3H2751.5" stroke="#959595" stroke-width="1.3" stroke-dasharray="5 4.2" fill="none"/>
<text x="1939.5" y="79.6" text-anchor="end" textLength="58" lengthAdjust="spacingAndGlyphs">20.000</text>
<text x="1939.5" y="168.9" text-anchor="end" textLength="58" lengthAdjust="spacingAndGlyphs">10.000</text>
<text x="1939.5" y="260.4" text-anchor="end" textLength="10" lengthAdjust="spacingAndGlyphs">0</text>
<rect x="1951" y="254.5" width="35.7" height="6.7" fill="#4178a3"/>
<rect x="1951" y="252.8" width="35.7" height="1.8" fill="#872642"/>
<rect x="1951" y="251.1" width="35.7" height="1.9" fill="#4a1a78"/>
<rect x="1951" y="241.8" width="35.7" height="9.4" fill="#3e803e"/>
<rect x="1951" y="215.2" width="35.7" height="26.7" fill="#1f1a55"/>
<rect x="1951" y="212.4" width="35.7" height="3" fill="#4f9a93"/>
<rect x="1951" y="210.5" width="35.7" height="2" fill="#a23aa8"/>
<rect x="1991.2" y="252.8" width="35.7" height="8.3" fill="#4178a3"/>
<rect x="1991.2" y="252" width="35.7" height="1" fill="#9fa83a"/>
<rect x="1991.2" y="249.9" width="35.7" height="2.2" fill="#a82020"/>
<rect x="1991.2" y="248" width="35.7" height="2.1" fill="#4a1a78"/>
<rect x="1991.2" y="238.5" width="35.7" height="9.7" fill="#3e803e"/>
<rect x="1991.2" y="204.7" width="35.7" height="33.9" fill="#1f1a55"/>
<rect x="1991.2" y="201" width="35.7" height="3.9" fill="#4f9a93"/>
<rect x="1991.2" y="199.4" width="35.7" height="1.8" fill="#a23aa8"/>
<rect x="2031.3" y="252.8" width="35.7" height="8.3" fill="#4178a3"/>
<rect x="2031.3" y="239.3" width="35.7" height="13.7" fill="#872642"/>
<rect x="2031.3" y="236.9" width="35.7" height="2.6" fill="#8a78b0"/>
<rect x="2031.3" y="225.9" width="35.7" height="11.2" fill="#3e803e"/>
<rect x="2031.3" y="199" width="35.7" height="27" fill="#1f1a55"/>
<rect x="2031.3" y="197.4" width="35.7" height="1.8" fill="#a85560"/>
<rect x="2031.3" y="194" width="35.7" height="3.5" fill="#4f9a93"/>
<rect x="2031.3" y="191.2" width="35.7" height="2.9" fill="#a23aa8"/>
<rect x="2031.3" y="190.4" width="35.7" height="0.9" fill="#8890a8"/>
<rect x="2071.5" y="255.3" width="35.7" height="5.9" fill="#4178a3"/>
<rect x="2071.5" y="249.4" width="35.7" height="6" fill="#872642"/>
<rect x="2071.5" y="247.1" width="35.7" height="2.5" fill="#8a78b0"/>
<rect x="2071.5" y="237.7" width="35.7" height="9.6" fill="#3e803e"/>
<rect x="2071.5" y="212.7" width="35.7" height="25.1" fill="#1f1a55"/>
<rect x="2071.5" y="210" width="35.7" height="2.9" fill="#4f9a93"/>
<rect x="2071.5" y="207.5" width="35.7" height="2.6" fill="#a23aa8"/>
<rect x="2111.6" y="255.3" width="35.7" height="5.9" fill="#4178a3"/>
<rect x="2111.6" y="251.5" width="35.7" height="3.9" fill="#872642"/>
<rect x="2111.6" y="250.4" width="35.7" height="1.2" fill="#4a1a78"/>
<rect x="2111.6" y="242.6" width="35.7" height="7.9" fill="#3e803e"/>
<rect x="2111.6" y="223" width="35.7" height="19.8" fill="#1f1a55"/>
<rect x="2111.6" y="221" width="35.7" height="2.1" fill="#4f9a93"/>
<rect x="2111.6" y="219.3" width="35.7" height="1.9" fill="#a23aa8"/>
<rect x="2151.8" y="256.4" width="35.7" height="4.8" fill="#4178a3"/>
<rect x="2151.8" y="254.3" width="35.7" height="2.3" fill="#872642"/>
<rect x="2151.8" y="247.5" width="35.7" height="7" fill="#3e803e"/>
<rect x="2151.8" y="227.9" width="35.7" height="19.8" fill="#1f1a55"/>
<rect x="2151.8" y="226.6" width="35.7" height="1.4" fill="#4f9a93"/>
<rect x="2151.8" y="224.2" width="35.7" height="2.5" fill="#a23aa8"/>
<rect x="2191.9" y="253.2" width="35.7" height="8" fill="#4178a3"/>
<rect x="2191.9" y="242.9" width="35.7" height="10.5" fill="#872642"/>
<rect x="2191.9" y="241" width="35.7" height="2" fill="#4a1a78"/>
<rect x="2191.9" y="230.7" width="35.7" height="10.5" fill="#3e803e"/>
<rect x="2191.9" y="204.7" width="35.7" height="26.1" fill="#1f1a55"/>
<rect x="2191.9" y="202.6" width="35.7" height="2.3" fill="#4f9a93"/>
<rect x="2191.9" y="200.2" width="35.7" height="2.5" fill="#a23aa8"/>
<rect x="2232.1" y="253.7" width="35.7" height="7.5" fill="#4178a3"/>
<rect x="2232.1" y="246.2" width="35.7" height="7.7" fill="#872642"/>
<rect x="2232.1" y="244.2" width="35.7" height="2.1" fill="#8a78b0"/>
<rect x="2232.1" y="234.9" width="35.7" height="9.5" fill="#3e803e"/>
<rect x="2232.1" y="206.7" width="35.7" height="28.3" fill="#1f1a55"/>
<rect x="2232.1" y="205.4" width="35.7" height="1.5" fill="#a85560"/>
<rect x="2232.1" y="201.8" width="35.7" height="3.8" fill="#4f9a93"/>
<rect x="2232.1" y="199.9" width="35.7" height="2" fill="#a23aa8"/>
<rect x="2272.2" y="254.3" width="35.7" height="6.9" fill="#4178a3"/>
<rect x="2272.2" y="248" width="35.7" height="6.5" fill="#872642"/>
<rect x="2272.2" y="246.3" width="35.7" height="1.8" fill="#8a78b0"/>
<rect x="2272.2" y="236.9" width="35.7" height="9.6" fill="#3e803e"/>
<rect x="2272.2" y="210.8" width="35.7" height="26.2" fill="#1f1a55"/>
<rect x="2272.2" y="207.5" width="35.7" height="3.4" fill="#4f9a93"/>
<rect x="2272.2" y="205.4" width="35.7" height="2.3" fill="#a23aa8"/>
<rect x="2312.4" y="254.3" width="35.7" height="6.9" fill="#4178a3"/>
<rect x="2312.4" y="249.9" width="35.7" height="4.5" fill="#872642"/>
<rect x="2312.4" y="248.3" width="35.7" height="1.7" fill="#4a1a78"/>
<rect x="2312.4" y="240.1" width="35.7" height="8.3" fill="#3e803e"/>
<rect x="2312.4" y="215.7" width="35.7" height="24.5" fill="#1f1a55"/>
<rect x="2312.4" y="212.9" width="35.7" height="3" fill="#4f9a93"/>
<rect x="2312.4" y="211.9" width="35.7" height="1.1" fill="#a23aa8"/>
<rect x="2352.5" y="255.6" width="35.7" height="5.6" fill="#4178a3"/>
<rect x="2352.5" y="252" width="35.7" height="3.7" fill="#872642"/>
<rect x="2352.5" y="250.4" width="35.7" height="1.7" fill="#8a78b0"/>
<rect x="2352.5" y="242.1" width="35.7" height="8.4" fill="#3e803e"/>
<rect x="2352.5" y="220.9" width="35.7" height="21.4" fill="#1f1a55"/>
<rect x="2352.5" y="219.7" width="35.7" height="1.3" fill="#4f9a93"/>
<rect x="2352.5" y="218.1" width="35.7" height="1.8" fill="#8a78b0"/>
<rect x="2392.7" y="256.4" width="35.7" height="4.8" fill="#4178a3"/>
<rect x="2392.7" y="254.3" width="35.7" height="2.3" fill="#872642"/>
<rect x="2392.7" y="252.8" width="35.7" height="1.6" fill="#4a1a78"/>
<rect x="2392.7" y="245.3" width="35.7" height="7.7" fill="#3e803e"/>
<rect x="2392.7" y="227.1" width="35.7" height="18.3" fill="#1f1a55"/>
<rect x="2392.7" y="224.6" width="35.7" height="2.6" fill="#8890a8"/>
<rect x="2432.8" y="257.6" width="35.7" height="3.5" fill="#4178a3"/>
<rect x="2432.8" y="255.6" width="35.7" height="2.2" fill="#872642"/>
<rect x="2432.8" y="254.5" width="35.7" height="1.2" fill="#4a1a78"/>
<rect x="2432.8" y="249.1" width="35.7" height="5.6" fill="#3e803e"/>
<rect x="2432.8" y="233.6" width="35.7" height="15.6" fill="#1f1a55"/>
<rect x="2432.8" y="232.3" width="35.7" height="1.5" fill="#4f9a93"/>
<rect x="2432.8" y="230.7" width="35.7" height="1.8" fill="#a23aa8"/>
<rect x="2473" y="256.4" width="35.7" height="4.8" fill="#4178a3"/>
<rect x="2473" y="254.8" width="35.7" height="1.8" fill="#872642"/>
<rect x="2473" y="253.2" width="35.7" height="1.7" fill="#4a1a78"/>
<rect x="2473" y="245.8" width="35.7" height="7.5" fill="#3e803e"/>
<rect x="2473" y="225.5" width="35.7" height="20.4" fill="#1f1a55"/>
<rect x="2473" y="224.2" width="35.7" height="1.4" fill="#4f9a93"/>
<rect x="2473" y="222.2" width="35.7" height="2.1" fill="#a23aa8"/>
<rect x="2513.1" y="255.1" width="35.7" height="6.1" fill="#4178a3"/>
<rect x="2513.1" y="252.4" width="35.7" height="2.8" fill="#a85560"/>
<rect x="2513.1" y="251.1" width="35.7" height="1.5" fill="#1f1a55"/>
<rect x="2513.1" y="241.8" width="35.7" height="9.4" fill="#3e803e"/>
<rect x="2513.1" y="215.2" width="35.7" height="26.7" fill="#1f1a55"/>
<rect x="2513.1" y="212.1" width="35.7" height="3.3" fill="#4f9a93"/>
<rect x="2513.1" y="210" width="35.7" height="2.3" fill="#8a78b0"/>
<rect x="2553.3" y="252.8" width="35.7" height="8.3" fill="#4178a3"/>
<rect x="2553.3" y="250.2" width="35.7" height="2.8" fill="#9fa83a"/>
<rect x="2553.3" y="233.3" width="35.7" height="17" fill="#872642"/>
<rect x="2553.3" y="231.2" width="35.7" height="2.3" fill="#8a78b0"/>
<rect x="2553.3" y="217.6" width="35.7" height="13.7" fill="#3e803e"/>
<rect x="2553.3" y="184.2" width="35.7" height="33.5" fill="#1f1a55"/>
<rect x="2553.3" y="180.6" width="35.7" height="3.8" fill="#4f9a93"/>
<rect x="2553.3" y="178.5" width="35.7" height="2.2" fill="#a23aa8"/>
<rect x="2553.3" y="177.7" width="35.7" height="0.9" fill="#8890a8"/>
<rect x="2593.4" y="254" width="35.7" height="7.2" fill="#4178a3"/>
<rect x="2593.4" y="247.5" width="35.7" height="6.7" fill="#872642"/>
<rect x="2593.4" y="245.3" width="35.7" height="2.3" fill="#4a1a78"/>
<rect x="2593.4" y="234.1" width="35.7" height="11.3" fill="#3e803e"/>
<rect x="2593.4" y="208.8" width="35.7" height="25.5" fill="#1f1a55"/>
<rect x="2593.4" y="205.9" width="35.7" height="3" fill="#4f9a93"/>
<rect x="2593.4" y="203.8" width="35.7" height="2.3" fill="#a23aa8"/>
<rect x="2633.6" y="254.3" width="35.7" height="6.9" fill="#4178a3"/>
<rect x="2633.6" y="249.4" width="35.7" height="5" fill="#872642"/>
<rect x="2633.6" y="247.5" width="35.7" height="2.1" fill="#4a1a78"/>
<rect x="2633.6" y="237.2" width="35.7" height="10.5" fill="#3e803e"/>
<rect x="2633.6" y="214.9" width="35.7" height="22.4" fill="#1f1a55"/>
<rect x="2633.6" y="212.1" width="35.7" height="2.9" fill="#4f9a93"/>
<rect x="2633.6" y="210" width="35.7" height="2.3" fill="#8a78b0"/>
<rect x="2673.7" y="255.1" width="35.7" height="6.1" fill="#4178a3"/>
<rect x="2673.7" y="245.3" width="35.7" height="9.9" fill="#872642"/>
<rect x="2673.7" y="243.7" width="35.7" height="1.8" fill="#4a1a78"/>
<rect x="2673.7" y="234.4" width="35.7" height="9.5" fill="#3e803e"/>
<rect x="2673.7" y="213.2" width="35.7" height="21.3" fill="#1f1a55"/>
<rect x="2673.7" y="210.8" width="35.7" height="2.6" fill="#4f9a93"/>
<rect x="2673.7" y="208.7" width="35.7" height="2.2" fill="#a23aa8"/>
<rect x="2713.9" y="256.8" width="35.7" height="4.4" fill="#4178a3"/>
<rect x="2713.9" y="254.5" width="35.7" height="2.4" fill="#872642"/>
<rect x="2713.9" y="252.8" width="35.7" height="1.8" fill="#4a1a78"/>
<rect x="2713.9" y="245.3" width="35.7" height="7.7" fill="#3e803e"/>
<rect x="2713.9" y="227.1" width="35.7" height="18.3" fill="#1f1a55"/>
<rect x="2713.9" y="225.8" width="35.7" height="1.5" fill="#4f9a93"/>
<rect x="2713.9" y="223.3" width="35.7" height="2.6" fill="#8a78b0"/>
<path d="M1948.4 63.5V262.5" stroke="#9499a0" stroke-width="0.8" fill="none"/>
<path d="M1948.5 262.2H2751.5" stroke="#959595" stroke-width="1.5" fill="none"/>
<text transform="translate(1977.6,281.2) rotate(-45)" text-anchor="end" textLength="13.5" lengthAdjust="spacingAndGlyphs">…</text>
<text transform="translate(2017.7,281.2) rotate(-45)" text-anchor="end" textLength="45.5" lengthAdjust="spacingAndGlyphs">202…</text>
<text transform="translate(2057.9,281.2) rotate(-45)" text-anchor="end" textLength="100" lengthAdjust="spacingAndGlyphs">2025-06-11</text>
<text transform="translate(2098,281.2) rotate(-45)" text-anchor="end" textLength="100" lengthAdjust="spacingAndGlyphs">2025-06-12</text>
<text transform="translate(2138.2,281.2) rotate(-45)" text-anchor="end" textLength="100" lengthAdjust="spacingAndGlyphs">2025-06-13</text>
<text transform="translate(2178.3,281.2) rotate(-45)" text-anchor="end" textLength="100" lengthAdjust="spacingAndGlyphs">2025-06-14</text>
<text transform="translate(2218.5,281.2) rotate(-45)" text-anchor="end" textLength="100" lengthAdjust="spacingAndGlyphs">2025-06-15</text>
<text transform="translate(2258.6,281.2) rotate(-45)" text-anchor="end" textLength="100" lengthAdjust="spacingAndGlyphs">2025-06-16</text>
<text transform="translate(2298.8,281.2) rotate(-45)" text-anchor="end" textLength="100" lengthAdjust="spacingAndGlyphs">2025-06-17</text>
<text transform="translate(2338.9,281.2) rotate(-45)" text-anchor="end" textLength="100" lengthAdjust="spacingAndGlyphs">2025-06-18</text>
<text transform="translate(2379.1,281.2) rotate(-45)" text-anchor="end" textLength="100" lengthAdjust="spacingAndGlyphs">2025-06-19</text>
<text transform="translate(2419.2,281.2) rotate(-45)" text-anchor="end" textLength="100" lengthAdjust="spacingAndGlyphs">2025-06-20</text>
<text transform="translate(2459.4,281.2) rotate(-45)" text-anchor="end" textLength="100" lengthAdjust="spacingAndGlyphs">2025-06-21</text>
<text transform="translate(2499.5,281.2) rotate(-45)" text-anchor="end" textLength="100" lengthAdjust="spacingAndGlyphs">2025-06-22</text>
<text transform="translate(2539.7,281.2) rotate(-45)" text-anchor="end" textLength="100" lengthAdjust="spacingAndGlyphs">2025-06-23</text>
<text transform="translate(2579.8,281.2) rotate(-45)" text-anchor="end" textLength="100" lengthAdjust="spacingAndGlyphs">2025-06-24</text>
<text transform="translate(2620,281.2) rotate(-45)" text-anchor="end" textLength="100" lengthAdjust="spacingAndGlyphs">2025-06-25</text>
<text transform="translate(2660.1,281.2) rotate(-45)" text-anchor="end" textLength="100" lengthAdjust="spacingAndGlyphs">2025-06-26</text>
<text transform="translate(2700.3,281.2) rotate(-45)" text-anchor="end" textLength="100" lengthAdjust="spacingAndGlyphs">2025-06-27</text>
<text transform="translate(2740.4,281.2) rotate(-45)" text-anchor="end" textLength="100" lengthAdjust="spacingAndGlyphs">2025-06-28</text>
<path d="M1013.8 576.8H1826.5" stroke="#959595" stroke-width="1.3" stroke-dasharray="5 4.2" fill="none"/>
<path d="M1013.8 675.3H1826.5" stroke="#959595" stroke-width="1.3" stroke-dasharray="5 4.2" fill="none"/>
<text x="1004.5" y="592.6" text-anchor="end" textLength="45.8" lengthAdjust="spacingAndGlyphs">2.000</text>
<text x="1004.5" y="681.9" text-anchor="end" textLength="45.8" lengthAdjust="spacingAndGlyphs">1.000</text>
<text x="1004.5" y="773.4" text-anchor="end" textLength="10" lengthAdjust="spacingAndGlyphs">0</text>
<rect x="1016" y="763.9" width="36.2" height="10.2" fill="#4178a3"/>
<rect x="1016" y="763.4" width="36.2" height="0.7" fill="#9fa83a"/>
<rect x="1016" y="759.3" width="36.2" height="4.2" fill="#872642"/>
<rect x="1016" y="751.3" width="36.2" height="8.2" fill="#3e803e"/>
<rect x="1016" y="748.9" width="36.2" height="2.6" fill="#1f1a55"/>
<rect x="1016" y="744.7" width="36.2" height="4.3" fill="#4f9a93"/>
<rect x="1016" y="743.8" width="36.2" height="1" fill="#a23aa8"/>
<rect x="1056.7" y="758.2" width="36.2" height="16" fill="#4178a3"/>
<rect x="1056.7" y="748.4" width="36.2" height="10" fill="#8a9a38"/>
<rect x="1056.7" y="712.2" width="36.2" height="36.3" fill="#872642"/>
<rect x="1056.7" y="706.8" width="36.2" height="5.6" fill="#0e1a10"/>
<rect x="1056.7" y="693" width="36.2" height="13.9" fill="#3e803e"/>
<rect x="1056.7" y="684" width="36.2" height="9.2" fill="#1f1a55"/>
<rect x="1056.7" y="679.6" width="36.2" height="4.6" fill="#4f9a93"/>
<rect x="1056.7" y="678.3" width="36.2" height="1.4" fill="#a23aa8"/>
<rect x="1097.3" y="769.9" width="36.2" height="4.2" fill="#4178a3"/>
<rect x="1097.3" y="764.7" width="36.2" height="5.4" fill="#8a9a38"/>
<rect x="1097.3" y="756.2" width="36.2" height="8.7" fill="#872642"/>
<rect x="1097.3" y="752.2" width="36.2" height="4.2" fill="#0e1a10"/>
<rect x="1097.3" y="738.6" width="36.2" height="13.7" fill="#3e803e"/>
<rect x="1097.3" y="731.8" width="36.2" height="7" fill="#1f1a55"/>
<rect x="1097.3" y="730" width="36.2" height="1.9" fill="#4f9a93"/>
<rect x="1097.3" y="728.8" width="36.2" height="1.4" fill="#8a78b0"/>
<rect x="1138" y="762.3" width="36.2" height="11.8" fill="#4178a3"/>
<rect x="1138" y="753.8" width="36.2" height="8.7" fill="#8a9a38"/>
<rect x="1138" y="735.8" width="36.2" height="18.2" fill="#872642"/>
<rect x="1138" y="734.2" width="36.2" height="1.7" fill="#a82020"/>
<rect x="1138" y="729.2" width="36.2" height="5.2" fill="#0e1a10"/>
<rect x="1138" y="719.5" width="36.2" height="9.9" fill="#3e803e"/>
<rect x="1138" y="713.3" width="36.2" height="6.4" fill="#1f1a55"/>
<rect x="1138" y="709" width="36.2" height="4.4" fill="#4f9a93"/>
<rect x="1138" y="708" width="36.2" height="1.1" fill="#8890a8"/>
<rect x="1178.6" y="764.7" width="36.2" height="9.5" fill="#4178a3"/>
<rect x="1178.6" y="756.9" width="36.2" height="8" fill="#8a9a38"/>
<rect x="1178.6" y="746.4" width="36.2" height="10.7" fill="#872642"/>
<rect x="1178.6" y="741.9" width="36.2" height="4.7" fill="#0e1a10"/>
<rect x="1178.6" y="724.8" width="36.2" height="17.2" fill="#3e803e"/>
<rect x="1178.6" y="719.9" width="36.2" height="5" fill="#1f1a55"/>
<rect x="1178.6" y="716.1" width="36.2" height="3.9" fill="#4f9a93"/>
<rect x="1178.6" y="714.5" width="36.2" height="1.8" fill="#8890a8"/>
<rect x="1219.3" y="768.3" width="36.2" height="5.9" fill="#4178a3"/>
<rect x="1219.3" y="766.3" width="36.2" height="2.1" fill="#8a9a38"/>
<rect x="1219.3" y="760.6" width="36.2" height="5.9" fill="#872642"/>
<rect x="1219.3" y="756.2" width="36.2" height="4.6" fill="#3e803e"/>
<rect x="1219.3" y="753" width="36.2" height="3.3" fill="#1f1a55"/>
<rect x="1219.3" y="752" width="36.2" height="1.1" fill="#8890a8"/>
<rect x="1259.9" y="771.6" width="36.2" height="2.5" fill="#4178a3"/>
<rect x="1259.9" y="768.8" width="36.2" height="3" fill="#872642"/>
<rect x="1259.9" y="762.3" width="36.2" height="6.6" fill="#3e803e"/>
<rect x="1259.9" y="759.8" width="36.2" height="2.6" fill="#1f1a55"/>
<rect x="1259.9" y="758.5" width="36.2" height="1.5" fill="#8890a8"/>
<rect x="1300.6" y="773.2" width="36.2" height="1" fill="#4178a3"/>
<rect x="1300.6" y="772" width="36.2" height="1.3" fill="#8a9a38"/>
<rect x="1300.6" y="769.6" width="36.2" height="2.6" fill="#a85560"/>
<rect x="1300.6" y="763.4" width="36.2" height="6.3" fill="#3e803e"/>
<rect x="1300.6" y="761.4" width="36.2" height="2.1" fill="#1f1a55"/>
<rect x="1300.6" y="760.6" width="36.2" height="1" fill="#8890a8"/>
<rect x="1341.2" y="771.2" width="36.2" height="2.9" fill="#4178a3"/>
<rect x="1341.2" y="769.1" width="36.2" height="2.3" fill="#a85560"/>
<rect x="1341.2" y="764.4" width="36.2" height="4.8" fill="#3e803e"/>
<rect x="1341.2" y="763.1" width="36.2" height="1.5" fill="#1f1a55"/>
<rect x="1341.2" y="762.3" width="36.2" height="0.9" fill="#8890a8"/>
<rect x="1381.9" y="772.4" width="36.2" height="1.8" fill="#4178a3"/>
<rect x="1381.9" y="771.2" width="36.2" height="1.3" fill="#8a9a38"/>
<rect x="1381.9" y="766.3" width="36.2" height="5.1" fill="#3e803e"/>
<rect x="1381.9" y="765" width="36.2" height="1.4" fill="#1f1a55"/>
<rect x="1422.5" y="771.2" width="36.2" height="2.9" fill="#4178a3"/>
<rect x="1422.5" y="769.9" width="36.2" height="1.4" fill="#9fa83a"/>
<rect x="1422.5" y="769.1" width="36.2" height="1" fill="#a82020"/>
<rect x="1422.5" y="762.3" width="36.2" height="6.9" fill="#3e803e"/>
<rect x="1422.5" y="758.2" width="36.2" height="4.3" fill="#1f1a55"/>
<rect x="1463.2" y="768.8" width="36.2" height="5.4" fill="#4178a3"/>
<rect x="1463.2" y="767.5" width="36.2" height="1.4" fill="#9fa83a"/>
<rect x="1463.2" y="765" width="36.2" height="2.6" fill="#872642"/>
<rect x="1463.2" y="759" width="36.2" height="6.2" fill="#3e803e"/>
<rect x="1463.2" y="757.7" width="36.2" height="1.5" fill="#8890a8"/>
<rect x="1503.8" y="769.9" width="36.2" height="4.2" fill="#4178a3"/>
<rect x="1503.8" y="769.1" width="36.2" height="1" fill="#9fa83a"/>
<rect x="1503.8" y="768" width="36.2" height="1.2" fill="#a85560"/>
<rect x="1503.8" y="766.3" width="36.2" height="1.9" fill="#872642"/>
<rect x="1503.8" y="762.3" width="36.2" height="4.1" fill="#3e803e"/>
<rect x="1503.8" y="759" width="36.2" height="3.5" fill="#1f1a55"/>
<rect x="1544.5" y="770.9" width="36.2" height="3.2" fill="#4178a3"/>
<rect x="1544.5" y="770.1" width="36.2" height="0.9" fill="#9fa83a"/>
<rect x="1544.5" y="766.7" width="36.2" height="3.5" fill="#872642"/>
<rect x="1544.5" y="763.1" width="36.2" height="3.8" fill="#3e803e"/>
<rect x="1544.5" y="761.8" width="36.2" height="1.4" fill="#1f1a55"/>
<rect x="1585.1" y="769.9" width="36.2" height="4.2" fill="#4178a3"/>
<rect x="1585.1" y="768.3" width="36.2" height="1.8" fill="#a82020"/>
<rect x="1585.1" y="763.1" width="36.2" height="5.4" fill="#3e803e"/>
<rect x="1585.1" y="761.1" width="36.2" height="2.1" fill="#1f1a55"/>
<rect x="1625.8" y="771.7" width="36.2" height="2.4" fill="#4178a3"/>
<rect x="1625.8" y="769.6" width="36.2" height="2.3" fill="#a85560"/>
<rect x="1625.8" y="764.2" width="36.2" height="5.6" fill="#3e803e"/>
<rect x="1625.8" y="762.6" width="36.2" height="1.7" fill="#1f1a55"/>
<rect x="1666.4" y="772" width="36.2" height="2.1" fill="#4178a3"/>
<rect x="1666.4" y="770.9" width="36.2" height="1.2" fill="#a85560"/>
<rect x="1666.4" y="768" width="36.2" height="3" fill="#3e803e"/>
<rect x="1666.4" y="766.7" width="36.2" height="1.4" fill="#8a78b0"/>
<rect x="1707.1" y="769.9" width="36.2" height="4.2" fill="#4178a3"/>
<rect x="1707.1" y="766" width="36.2" height="4.1" fill="#8a9a38"/>
<rect x="1707.1" y="762.8" width="36.2" height="3.3" fill="#872642"/>
<rect x="1707.1" y="754.6" width="36.2" height="8.3" fill="#3e803e"/>
<rect x="1707.1" y="750.4" width="36.2" height="4.4" fill="#1f1a55"/>
<rect x="1747.7" y="769.1" width="36.2" height="5.1" fill="#4178a3"/>
<rect x="1747.7" y="768" width="36.2" height="1.2" fill="#9fa83a"/>
<rect x="1747.7" y="766.3" width="36.2" height="1.9" fill="#a85560"/>
<rect x="1747.7" y="758.5" width="36.2" height="8" fill="#3e803e"/>
<rect x="1747.7" y="755.3" width="36.2" height="3.3" fill="#1f1a55"/>
<rect x="1788.4" y="772.9" width="36.2" height="1.2" fill="#1f1a55"/>
<rect x="1788.4" y="771.6" width="36.2" height="1.4" fill="#4178a3"/>
<rect x="1788.4" y="763.6" width="36.2" height="8.2" fill="#8a9a38"/>
<rect x="1788.4" y="762.8" width="36.2" height="0.9" fill="#a85560"/>
<rect x="1788.4" y="760.1" width="36.2" height="2.9" fill="#3e803e"/>
<rect x="1788.4" y="758.2" width="36.2" height="2.1" fill="#1f1a55"/>
<path d="M1013.4 576.5V775.5" stroke="#9499a0" stroke-width="0.8" fill="none"/>
<path d="M1013.5 775.2H1826.5" stroke="#959595" stroke-width="1.5" fill="none"/>
<text transform="translate(1042.8,794.2) rotate(-45)" text-anchor="end" textLength="13.5" lengthAdjust="spacingAndGlyphs">…</text>
<text transform="translate(1083.5,794.2) rotate(-45)" text-anchor="end" textLength="45.5" lengthAdjust="spacingAndGlyphs">202…</text>
<text transform="translate(1124.1,794.2) rotate(-45)" text-anchor="end" textLength="98.6" lengthAdjust="spacingAndGlyphs">2025-11-08</text>
<text transform="translate(1164.8,794.2) rotate(-45)" text-anchor="end" textLength="98.6" lengthAdjust="spacingAndGlyphs">2025-11-09</text>
<text transform="translate(1205.4,794.2) rotate(-45)" text-anchor="end" textLength="98.6" lengthAdjust="spacingAndGlyphs">2025-11-10</text>
<text transform="translate(1246.1,794.2) rotate(-45)" text-anchor="end" textLength="98.6" lengthAdjust="spacingAndGlyphs">2025-11-11</text>
<text transform="translate(1286.7,794.2) rotate(-45)" text-anchor="end" textLength="98.6" lengthAdjust="spacingAndGlyphs">2025-11-12</text>
<text transform="translate(1327.4,794.2) rotate(-45)" text-anchor="end" textLength="98.6" lengthAdjust="spacingAndGlyphs">2025-11-13</text>
<text transform="translate(1368,794.2) rotate(-45)" text-anchor="end" textLength="98.6" lengthAdjust="spacingAndGlyphs">2025-11-14</text>
<text transform="translate(1408.7,794.2) rotate(-45)" text-anchor="end" textLength="98.6" lengthAdjust="spacingAndGlyphs">2025-11-15</text>
<text transform="translate(1449.3,794.2) rotate(-45)" text-anchor="end" textLength="98.6" lengthAdjust="spacingAndGlyphs">2025-11-16</text>
<text transform="translate(1490,794.2) rotate(-45)" text-anchor="end" textLength="98.6" lengthAdjust="spacingAndGlyphs">2025-11-17</text>
<text transform="translate(1530.6,794.2) rotate(-45)" text-anchor="end" textLength="98.6" lengthAdjust="spacingAndGlyphs">2025-11-18</text>
<text transform="translate(1571.3,794.2) rotate(-45)" text-anchor="end" textLength="98.6" lengthAdjust="spacingAndGlyphs">2025-11-19</text>
<text transform="translate(1611.9,794.2) rotate(-45)" text-anchor="end" textLength="98.6" lengthAdjust="spacingAndGlyphs">2025-11-20</text>
<text transform="translate(1652.6,794.2) rotate(-45)" text-anchor="end" textLength="98.6" lengthAdjust="spacingAndGlyphs">2025-11-21</text>
<text transform="translate(1693.2,794.2) rotate(-45)" text-anchor="end" textLength="98.6" lengthAdjust="spacingAndGlyphs">2025-11-22</text>
<text transform="translate(1733.9,794.2) rotate(-45)" text-anchor="end" textLength="98.6" lengthAdjust="spacingAndGlyphs">2025-11-23</text>
<text transform="translate(1774.5,794.2) rotate(-45)" text-anchor="end" textLength="98.6" lengthAdjust="spacingAndGlyphs">2025-11-24</text>
<text transform="translate(1815.2,794.2) rotate(-45)" text-anchor="end" textLength="98.6" lengthAdjust="spacingAndGlyphs">2025-11-25</text>
<path d="M1986.8 576.8H2751.5" stroke="#959595" stroke-width="1.3" stroke-dasharray="5 4.2" fill="none"/>
<path d="M1986.8 675.3H2751.5" stroke="#959595" stroke-width="1.3" stroke-dasharray="5 4.2" fill="none"/>
<text x="1977.5" y="592.6" text-anchor="end" textLength="95.5" lengthAdjust="spacingAndGlyphs">€1.000.000</text>
<text x="1977.5" y="681.9" text-anchor="end" textLength="79.8" lengthAdjust="spacingAndGlyphs">€500.000</text>
<text x="1977.5" y="773.4" text-anchor="end" textLength="21" lengthAdjust="spacingAndGlyphs">€0</text>
<rect x="1988.9" y="773.2" width="34" height="1" fill="#4178a3"/>
<rect x="1988.9" y="772.4" width="34" height="1" fill="#3e803e"/>
<rect x="2027.2" y="772.7" width="34" height="1.4" fill="#4178a3"/>
<rect x="2027.2" y="771.6" width="34" height="1.2" fill="#9fa83a"/>
<rect x="2027.2" y="767.5" width="34" height="4.2" fill="#872642"/>
<rect x="2027.2" y="765.4" width="34" height="2.2" fill="#3e803e"/>
<rect x="2027.2" y="764.7" width="34" height="0.9" fill="#1f1a55"/>
<rect x="2027.2" y="764.2" width="34" height="0.7" fill="#4f9a93"/>
<rect x="2065.4" y="773.2" width="34" height="1" fill="#9fa83a"/>
<rect x="2065.4" y="772.4" width="34" height="1" fill="#872642"/>
<rect x="2065.4" y="770.7" width="34" height="1.8" fill="#3e803e"/>
<rect x="2065.4" y="768.3" width="34" height="2.6" fill="#1f1a55"/>
<rect x="2103.7" y="773" width="34" height="1.1" fill="#4178a3"/>
<rect x="2103.7" y="771.1" width="34" height="2" fill="#872642"/>
<rect x="2103.7" y="770.3" width="34" height="1" fill="#a82020"/>
<rect x="2103.7" y="768.1" width="34" height="2.4" fill="#3e803e"/>
<rect x="2103.7" y="766.5" width="34" height="1.7" fill="#4f9a93"/>
<rect x="2141.9" y="773.2" width="34" height="1" fill="#4178a3"/>
<rect x="2141.9" y="771.6" width="34" height="1.7" fill="#a85560"/>
<rect x="2141.9" y="770.7" width="34" height="1" fill="#872642"/>
<rect x="2141.9" y="769.1" width="34" height="1.8" fill="#3e803e"/>
<rect x="2141.9" y="768.1" width="34" height="1.1" fill="#4f9a93"/>
<rect x="2180.2" y="773" width="34" height="1.1" fill="#4178a3"/>
<rect x="2180.2" y="771.9" width="34" height="1.2" fill="#3e803e"/>
<rect x="2180.2" y="771.1" width="34" height="0.9" fill="#8890a8"/>
<rect x="2218.4" y="771.1" width="34" height="3" fill="#3e803e"/>
<rect x="2218.4" y="770.6" width="34" height="0.7" fill="#8890a8"/>
<rect x="2256.7" y="772.7" width="34" height="1.4" fill="#8a9a38"/>
<rect x="2294.9" y="773.2" width="34" height="1" fill="#4178a3"/>
<rect x="2294.9" y="770.2" width="34" height="3.1" fill="#3e803e"/>
<rect x="2333.2" y="771.9" width="34" height="2.2" fill="#3e803e"/>
<rect x="2371.4" y="772.7" width="34" height="1.4" fill="#4f9a93"/>
<rect x="2409.7" y="772.4" width="34" height="1.8" fill="#4178a3"/>
<rect x="2409.7" y="771.6" width="34" height="0.9" fill="#a85560"/>
<rect x="2409.7" y="770.6" width="34" height="1.1" fill="#3e803e"/>
<rect x="2447.9" y="772.7" width="34" height="1.4" fill="#3e803e"/>
<rect x="2486.2" y="773.2" width="34" height="1" fill="#3e803e"/>
<rect x="2524.4" y="772.4" width="34" height="1.8" fill="#3e803e"/>
<rect x="2562.7" y="772.7" width="34" height="1.4" fill="#3e803e"/>
<rect x="2600.9" y="773.5" width="34" height="0.7" fill="#3e803e"/>
<rect x="2639.2" y="773.2" width="34" height="1" fill="#4178a3"/>
<rect x="2639.2" y="772.4" width="34" height="1" fill="#a85560"/>
<rect x="2639.2" y="771.4" width="34" height="1.1" fill="#3e803e"/>
<rect x="2639.2" y="769.4" width="34" height="2.1" fill="#4f9a93"/>
<rect x="2677.4" y="772.4" width="34" height="1.8" fill="#3e803e"/>
<rect x="2715.7" y="772.7" width="34" height="1.4" fill="#8a9a38"/>
<rect x="2715.7" y="771.4" width="34" height="1.4" fill="#1f1a55"/>
<path d="M1986.4 576.5V775.5" stroke="#9499a0" stroke-width="0.8" fill="none"/>
<path d="M1986.5 775.2H2751.5" stroke="#959595" stroke-width="1.5" fill="none"/>
<text transform="translate(2014.6,794.2) rotate(-45)" text-anchor="end" textLength="13.5" lengthAdjust="spacingAndGlyphs">…</text>
<text transform="translate(2052.9,794.2) rotate(-45)" text-anchor="end" textLength="45.5" lengthAdjust="spacingAndGlyphs">202…</text>
<text transform="translate(2091.1,794.2) rotate(-45)" text-anchor="end" textLength="98.6" lengthAdjust="spacingAndGlyphs">2025-11-08</text>
<text transform="translate(2129.4,794.2) rotate(-45)" text-anchor="end" textLength="98.6" lengthAdjust="spacingAndGlyphs">2025-11-09</text>
<text transform="translate(2167.6,794.2) rotate(-45)" text-anchor="end" textLength="98.6" lengthAdjust="spacingAndGlyphs">2025-11-10</text>
<text transform="translate(2205.9,794.2) rotate(-45)" text-anchor="end" textLength="98.6" lengthAdjust="spacingAndGlyphs">2025-11-11</text>
<text transform="translate(2244.1,794.2) rotate(-45)" text-anchor="end" textLength="98.6" lengthAdjust="spacingAndGlyphs">2025-11-12</text>
<text transform="translate(2282.4,794.2) rotate(-45)" text-anchor="end" textLength="98.6" lengthAdjust="spacingAndGlyphs">2025-11-13</text>
<text transform="translate(2320.6,794.2) rotate(-45)" text-anchor="end" textLength="98.6" lengthAdjust="spacingAndGlyphs">2025-11-14</text>
<text transform="translate(2358.9,794.2) rotate(-45)" text-anchor="end" textLength="98.6" lengthAdjust="spacingAndGlyphs">2025-11-15</text>
<text transform="translate(2397.1,794.2) rotate(-45)" text-anchor="end" textLength="98.6" lengthAdjust="spacingAndGlyphs">2025-11-16</text>
<text transform="translate(2435.4,794.2) rotate(-45)" text-anchor="end" textLength="98.6" lengthAdjust="spacingAndGlyphs">2025-11-17</text>
<text transform="translate(2473.6,794.2) rotate(-45)" text-anchor="end" textLength="98.6" lengthAdjust="spacingAndGlyphs">2025-11-18</text>
<text transform="translate(2511.9,794.2) rotate(-45)" text-anchor="end" textLength="98.6" lengthAdjust="spacingAndGlyphs">2025-11-19</text>
<text transform="translate(2550.1,794.2) rotate(-45)" text-anchor="end" textLength="98.6" lengthAdjust="spacingAndGlyphs">2025-11-20</text>
<text transform="translate(2588.4,794.2) rotate(-45)" text-anchor="end" textLength="98.6" lengthAdjust="spacingAndGlyphs">2025-11-21</text>
<text transform="translate(2626.6,794.2) rotate(-45)" text-anchor="end" textLength="98.6" lengthAdjust="spacingAndGlyphs">2025-11-22</text>
<text transform="translate(2664.9,794.2) rotate(-45)" text-anchor="end" textLength="98.6" lengthAdjust="spacingAndGlyphs">2025-11-23</text>
<text transform="translate(2703.1,794.2) rotate(-45)" text-anchor="end" textLength="98.6" lengthAdjust="spacingAndGlyphs">2025-11-24</text>
<text transform="translate(2741.4,794.2) rotate(-45)" text-anchor="end" textLength="98.6" lengthAdjust="spacingAndGlyphs">2025-11-25</text>
<path transform="translate(376,409.8) rotate(0)" d="M-1.5 8.5A8.6 8.6 0 1 1 6.8 5.3L2.5 8.6M2.5 8.6V3.2M2.5 8.6H7.9" fill="none" stroke="#404040" stroke-width="1.1"/>
<text x="391.2" y="417" textLength="30.2" lengthAdjust="spacingAndGlyphs">Day</text>
<path d="M433.8 412.7l6.9 -9.6l6.9 9.6z" fill="#404040"/>
<path transform="translate(476,409.8) rotate(0)" d="M-1.5 8.5A8.6 8.6 0 1 1 6.8 5.3L2.5 8.6M2.5 8.6V3.2M2.5 8.6H7.9" fill="none" stroke="#404040" stroke-width="1.1"/>
<text x="491.3" y="417" textLength="128.3" lengthAdjust="spacingAndGlyphs">Source/Medium</text>
<path d="M632 412.7l6.9 -9.6l6.9 9.6z" fill="#404040"/>
<path transform="translate(1295,409.8) rotate(0)" d="M-1.5 8.5A8.6 8.6 0 1 1 6.8 5.3L2.5 8.6M2.5 8.6V3.2M2.5 8.6H7.9" fill="none" stroke="#404040" stroke-width="1.1"/>
<text x="1310.2" y="417" textLength="30.2" lengthAdjust="spacingAndGlyphs">Day</text>
<path d="M1352.8 412.7l6.9 -9.6l6.9 9.6z" fill="#404040"/>
<path transform="translate(1395,409.8) rotate(0)" d="M-1.5 8.5A8.6 8.6 0 1 1 6.8 5.3L2.5 8.6M2.5 8.6V3.2M2.5 8.6H7.9" fill="none" stroke="#404040" stroke-width="1.1"/>
<text x="1410.3" y="417" textLength="128.3" lengthAdjust="spacingAndGlyphs">Source/Medium</text>
<path d="M1551 412.7l6.9 -9.6l6.9 9.6z" fill="#404040"/>
<path transform="translate(2220,409.8) rotate(0)" d="M-1.5 8.5A8.6 8.6 0 1 1 6.8 5.3L2.5 8.6M2.5 8.6V3.2M2.5 8.6H7.9" fill="none" stroke="#404040" stroke-width="1.1"/>
<text x="2235.2" y="417" textLength="30.2" lengthAdjust="spacingAndGlyphs">Day</text>
<path d="M2277.8 412.7l6.9 -9.6l6.9 9.6z" fill="#404040"/>
<path transform="translate(2320,409.8) rotate(0)" d="M-1.5 8.5A8.6 8.6 0 1 1 6.8 5.3L2.5 8.6M2.5 8.6V3.2M2.5 8.6H7.9" fill="none" stroke="#404040" stroke-width="1.1"/>
<text x="2335.3" y="417" textLength="128.3" lengthAdjust="spacingAndGlyphs">Source/Medium</text>
<path d="M2476 412.7l6.9 -9.6l6.9 9.6z" fill="#404040"/>
<path transform="translate(1290,923.4) rotate(0)" d="M-1.5 8.5A8.6 8.6 0 1 1 6.8 5.3L2.5 8.6M2.5 8.6V3.2M2.5 8.6H7.9" fill="none" stroke="#404040" stroke-width="1.1"/>
<text x="1305.2" y="930.6" textLength="30.2" lengthAdjust="spacingAndGlyphs">Day</text>
<path d="M1347.8 926.3l6.9 -9.6l6.9 9.6z" fill="#404040"/>
<path transform="translate(1390,923.4) rotate(0)" d="M-1.5 8.5A8.6 8.6 0 1 1 6.8 5.3L2.5 8.6M2.5 8.6V3.2M2.5 8.6H7.9" fill="none" stroke="#404040" stroke-width="1.1"/>
<text x="1405.3" y="930.6" textLength="128.3" lengthAdjust="spacingAndGlyphs">Source/Medium</text>
<path d="M1546 926.3l6.9 -9.6l6.9 9.6z" fill="#404040"/>
<path transform="translate(2239,923.4) rotate(0)" d="M-1.5 8.5A8.6 8.6 0 1 1 6.8 5.3L2.5 8.6M2.5 8.6V3.2M2.5 8.6H7.9" fill="none" stroke="#404040" stroke-width="1.1"/>
<text x="2254.2" y="930.6" textLength="30.2" lengthAdjust="spacingAndGlyphs">Day</text>
<path d="M2296.8 926.3l6.9 -9.6l6.9 9.6z" fill="#404040"/>
<path transform="translate(2339,923.4) rotate(0)" d="M-1.5 8.5A8.6 8.6 0 1 1 6.8 5.3L2.5 8.6M2.5 8.6V3.2M2.5 8.6H7.9" fill="none" stroke="#404040" stroke-width="1.1"/>
<text x="2354.3" y="930.6" textLength="128.3" lengthAdjust="spacingAndGlyphs">Source/Medium</text>
<path d="M2495 926.3l6.9 -9.6l6.9 9.6z" fill="#404040"/>
<path d="M110.7 482.8h3.9v10.3h-3.9zM115 481.6h3.9v11.5h-3.9zM119.3 484.7h3.9v8.4h-3.9zM123.7 481.1h3.9v12h-3.9zM128 473.9h3.9v19.2h-3.9zM132.3 479.4h3.9v13.7h-3.9zM136.6 483.8h3.9v9.3h-3.9zM141 479h3.9v14.1h-3.9zM145.3 481.7h3.9v11.4h-3.9zM149.6 483.9h3.9v9.2h-3.9zM153.9 482.5h3.9v10.6h-3.9zM158.2 481.1h3.9v12h-3.9zM162.6 474.2h3.9v18.9h-3.9zM166.9 475.8h3.9v17.3h-3.9zM171.2 476.7h3.9v16.4h-3.9zM175.5 480.9h3.9v12.2h-3.9zM179.9 485.5h3.9v7.6h-3.9zM184.2 485h3.9v8.1h-3.9zM188.5 481.3h3.9v11.8h-3.9zM192.8 478.2h3.9v14.9h-3.9zM197.1 475.3h3.9v17.8h-3.9zM201.5 482.8h3.9v10.3h-3.9zM205.8 477.7h3.9v15.4h-3.9zM210.1 478.6h3.9v14.5h-3.9zM214.4 481.7h3.9v11.4h-3.9zM218.8 481.4h3.9v11.7h-3.9zM223.1 479.5h3.9v13.6h-3.9zM227.4 483.5h3.9v9.6h-3.9zM231.7 481.9h3.9v11.2h-3.9zM236 479.5h3.9v13.6h-3.9zM240.4 479.2h3.9v13.9h-3.9zM244.7 481h3.9v12.1h-3.9zM249 478.4h3.9v14.7h-3.9zM253.3 481.5h3.9v11.6h-3.9zM257.7 481.3h3.9v11.8h-3.9zM262 480.7h3.9v12.4h-3.9zM266.3 481.4h3.9v11.7h-3.9zM270.6 484.9h3.9v8.2h-3.9zM275 486.1h3.9v7h-3.9zM279.3 483.5h3.9v9.6h-3.9zM283.6 480.3h3.9v12.8h-3.9zM287.9 482.2h3.9v10.9h-3.9zM292.2 483h3.9v10.1h-3.9zM296.6 479.7h3.9v13.4h-3.9zM300.9 470.9h3.9v22.2h-3.9zM305.2 483.3h3.9v9.8h-3.9zM309.5 485.4h3.9v7.7h-3.9zM313.9 480.6h3.9v12.5h-3.9zM318.2 482.7h3.9v10.4h-3.9zM322.5 481.8h3.9v11.3h-3.9zM326.8 483.8h3.9v9.3h-3.9zM331.1 485.1h3.9v8h-3.9zM335.5 481.3h3.9v11.8h-3.9zM339.8 482.1h3.9v11h-3.9zM344.1 482.3h3.9v10.8h-3.9zM348.4 484.2h3.9v8.9h-3.9zM352.8 482.5h3.9v10.6h-3.9zM357.1 480.9h3.9v12.2h-3.9zM361.4 477h3.9v16.1h-3.9zM365.7 481.6h3.9v11.5h-3.9zM370 482.7h3.9v10.4h-3.9zM374.4 486.4h3.9v6.7h-3.9zM378.7 484.4h3.9v8.7h-3.9zM383 484.6h3.9v8.5h-3.9zM387.3 483.8h3.9v9.3h-3.9zM391.7 487.6h3.9v5.5h-3.9zM396 487.8h3.9v5.3h-3.9zM400.3 485.1h3.9v8h-3.9zM404.6 485.1h3.9v8h-3.9zM408.9 482.8h3.9v10.3h-3.9zM413.3 483.7h3.9v9.4h-3.9zM417.6 482.3h3.9v10.8h-3.9zM421.9 474.9h3.9v18.2h-3.9zM426.2 481.6h3.9v11.5h-3.9zM430.6 478.6h3.9v14.5h-3.9zM434.9 483.7h3.9v9.4h-3.9zM439.2 483.6h3.9v9.5h-3.9zM443.5 483.4h3.9v9.7h-3.9zM447.8 482.9h3.9v10.2h-3.9zM452.2 483.1h3.9v10h-3.9zM456.5 486.3h3.9v6.8h-3.9zM460.8 484.1h3.9v9h-3.9zM465.1 483.5h3.9v9.6h-3.9zM469.5 485.2h3.9v7.9h-3.9zM473.8 483.6h3.9v9.5h-3.9zM478.1 484h3.9v9.1h-3.9zM482.4 484.6h3.9v8.5h-3.9zM486.7 484.3h3.9v8.8h-3.9zM491.1 482h3.9v11.1h-3.9zM495.4 480.3h3.9v12.8h-3.9zM499.7 482.5h3.9v10.6h-3.9zM504 481.1h3.9v12h-3.9zM508.4 479.8h3.9v13.3h-3.9zM512.7 480h3.9v13.1h-3.9zM517 486.7h3.9v6.4h-3.9zM521.3 484.8h3.9v8.3h-3.9zM525.7 481.2h3.9v11.9h-3.9zM530 480.3h3.9v12.8h-3.9zM534.3 480.6h3.9v12.5h-3.9zM538.6 481h3.9v12.1h-3.9zM542.9 483.6h3.9v9.5h-3.9zM547.3 487h3.9v6.1h-3.9zM551.6 483h3.9v10.1h-3.9zM555.9 483.5h3.9v9.6h-3.9zM560.2 486.4h3.9v6.7h-3.9zM564.6 483.7h3.9v9.4h-3.9zM568.9 484.5h3.9v8.6h-3.9zM573.2 480.3h3.9v12.8h-3.9zM577.5 481.5h3.9v11.6h-3.9zM581.8 481.4h3.9v11.7h-3.9zM586.2 484.9h3.9v8.2h-3.9zM590.5 484.2h3.9v8.9h-3.9zM594.8 482.9h3.9v10.2h-3.9zM599.1 486.4h3.9v6.7h-3.9zM603.5 485.4h3.9v7.7h-3.9zM607.8 486.3h3.9v6.8h-3.9zM612.1 480h3.9v13.1h-3.9zM616.4 484.9h3.9v8.2h-3.9zM620.7 487.1h3.9v6h-3.9zM625.1 486h3.9v7.1h-3.9zM629.4 485h3.9v8.1h-3.9zM633.7 487.4h3.9v5.7h-3.9zM638 487.5h3.9v5.6h-3.9zM642.4 485.7h3.9v7.4h-3.9zM646.7 487.8h3.9v5.3h-3.9zM651 485.6h3.9v7.5h-3.9zM655.3 486.9h3.9v6.2h-3.9zM659.6 487.2h3.9v5.9h-3.9zM664 487.6h3.9v5.5h-3.9zM668.3 488.2h3.9v4.9h-3.9zM672.6 486.6h3.9v6.5h-3.9zM676.9 487.4h3.9v5.7h-3.9zM681.3 488.3h3.9v4.8h-3.9zM685.6 489.3h3.9v3.8h-3.9zM689.9 488h3.9v5.1h-3.9zM694.2 489.3h3.9v3.8h-3.9zM698.5 487.5h3.9v5.6h-3.9zM702.9 486.6h3.9v6.5h-3.9zM707.2 488.8h3.9v4.3h-3.9zM711.5 488.2h3.9v4.9h-3.9zM715.8 487.3h3.9v5.8h-3.9zM720.2 487.4h3.9v5.7h-3.9zM724.5 487.9h3.9v5.2h-3.9zM728.8 490.3h3.9v2.8h-3.9zM733.1 489.6h3.9v3.5h-3.9zM737.4 489.3h3.9v3.8h-3.9zM741.8 489.3h3.9v3.8h-3.9zM746.1 489.7h3.9v3.4h-3.9zM750.4 490.1h3.9v3h-3.9zM754.7 489.4h3.9v3.7h-3.9zM759.1 487.8h3.9v5.3h-3.9zM763.4 488.7h3.9v4.4h-3.9zM767.7 492.1h3.9v1h-3.9zM772 492.1h3.9v1h-3.9zM776.4 492.3h3.9v0.8h-3.9zM780.7 492.2h3.9v0.9h-3.9zM785 492.3h3.9v0.8h-3.9zM789.3 492.3h3.9v0.8h-3.9zM793.6 492.2h3.9v0.9h-3.9zM798 492h3.9v1.1h-3.9zM802.3 491.3h3.9v1.8h-3.9zM806.6 492.3h3.9v0.8h-3.9zM810.9 492h3.9v1.1h-3.9zM815.3 492.2h3.9v0.9h-3.9zM819.6 492.4h3.9v0.7h-3.9zM823.9 492h3.9v1.1h-3.9zM828.2 491.8h3.9v1.3h-3.9zM832.5 492.1h3.9v1h-3.9zM836.9 492.1h3.9v1h-3.9zM841.2 492.3h3.9v0.8h-3.9zM845.5 492.2h3.9v0.9h-3.9zM849.8 492.1h3.9v1h-3.9zM854.2 492.2h3.9v0.9h-3.9zM858.5 492.3h3.9v0.8h-3.9zM862.8 491.9h3.9v1.2h-3.9zM867.1 492.2h3.9v0.9h-3.9zM871.4 492.3h3.9v0.8h-3.9zM875.8 492.6h3.9v0.5h-3.9zM880.1 492.5h3.9v0.6h-3.9zM884.4 490.9h3.9v2.2h-3.9zM888.7 491.7h3.9v1.4h-3.9zM893.1 491.6h3.9v1.5h-3.9zM897.4 491.8h3.9v1.3h-3.9z" fill="#4380b0"/>
<path d="M110.7 482.1h3.9v0.8h-3.9zM115 480.9h3.9v0.8h-3.9zM119.3 484h3.9v0.8h-3.9zM123.7 480.4h3.9v0.8h-3.9zM128 473.2h3.9v0.8h-3.9zM132.3 478.7h3.9v0.8h-3.9zM136.6 483.1h3.9v0.8h-3.9zM141 478.3h3.9v0.8h-3.9zM145.3 481h3.9v0.8h-3.9zM149.6 483.2h3.9v0.8h-3.9zM153.9 481.8h3.9v0.8h-3.9zM158.2 480.4h3.9v0.8h-3.9zM162.6 473.6h3.9v0.8h-3.9zM166.9 475.1h3.9v0.8h-3.9zM171.2 476h3.9v0.8h-3.9zM175.5 480.2h3.9v0.8h-3.9zM179.9 484.8h3.9v0.8h-3.9zM184.2 484.3h3.9v0.8h-3.9zM188.5 480.6h3.9v0.8h-3.9zM192.8 477.5h3.9v0.8h-3.9zM197.1 474.6h3.9v0.8h-3.9zM201.5 482.1h3.9v0.8h-3.9zM205.8 477.1h3.9v0.8h-3.9zM210.1 477.9h3.9v0.8h-3.9zM214.4 481h3.9v0.8h-3.9zM218.8 480.7h3.9v0.8h-3.9zM223.1 478.8h3.9v0.8h-3.9zM227.4 482.8h3.9v0.8h-3.9zM231.7 481.2h3.9v0.8h-3.9zM236 478.8h3.9v0.8h-3.9zM240.4 478.5h3.9v0.8h-3.9zM244.7 480.3h3.9v0.8h-3.9zM249 477.7h3.9v0.8h-3.9zM253.3 480.8h3.9v0.8h-3.9zM257.7 480.6h3.9v0.8h-3.9zM262 480h3.9v0.8h-3.9zM266.3 480.7h3.9v0.8h-3.9zM270.6 484.2h3.9v0.8h-3.9zM275 485.4h3.9v0.8h-3.9zM279.3 482.8h3.9v0.8h-3.9zM283.6 479.6h3.9v0.8h-3.9zM287.9 481.5h3.9v0.8h-3.9zM292.2 482.3h3.9v0.8h-3.9zM296.6 479h3.9v0.8h-3.9zM300.9 470.2h3.9v0.8h-3.9zM305.2 482.6h3.9v0.8h-3.9zM309.5 484.7h3.9v0.8h-3.9zM313.9 479.9h3.9v0.8h-3.9zM318.2 482h3.9v0.8h-3.9zM322.5 481.1h3.9v0.8h-3.9zM326.8 483.1h3.9v0.8h-3.9zM331.1 484.4h3.9v0.8h-3.9zM335.5 480.6h3.9v0.8h-3.9zM339.8 481.4h3.9v0.8h-3.9zM344.1 481.7h3.9v0.8h-3.9zM348.4 483.5h3.9v0.8h-3.9zM352.8 481.8h3.9v0.8h-3.9zM357.1 480.2h3.9v0.8h-3.9zM361.4 476.3h3.9v0.8h-3.9zM365.7 480.9h3.9v0.8h-3.9zM370 482h3.9v0.8h-3.9zM374.4 485.7h3.9v0.8h-3.9zM378.7 483.7h3.9v0.8h-3.9zM383 483.9h3.9v0.8h-3.9zM387.3 483.1h3.9v0.8h-3.9zM391.7 486.9h3.9v0.8h-3.9zM396 487.2h3.9v0.8h-3.9zM400.3 484.4h3.9v0.8h-3.9zM404.6 484.4h3.9v0.8h-3.9zM408.9 482.2h3.9v0.8h-3.9zM413.3 483.1h3.9v0.8h-3.9zM417.6 481.6h3.9v0.8h-3.9zM421.9 474.2h3.9v0.8h-3.9zM426.2 480.9h3.9v0.8h-3.9zM430.6 477.9h3.9v0.8h-3.9zM434.9 483h3.9v0.8h-3.9zM439.2 482.9h3.9v0.8h-3.9zM443.5 482.8h3.9v0.8h-3.9zM447.8 482.2h3.9v0.8h-3.9zM452.2 482.4h3.9v0.8h-3.9zM456.5 485.6h3.9v0.8h-3.9zM460.8 483.4h3.9v0.8h-3.9zM465.1 482.8h3.9v0.8h-3.9zM469.5 484.5h3.9v0.8h-3.9zM473.8 482.9h3.9v0.8h-3.9zM478.1 483.3h3.9v0.8h-3.9zM482.4 483.9h3.9v0.8h-3.9zM486.7 483.6h3.9v0.8h-3.9zM491.1 481.3h3.9v0.8h-3.9zM495.4 479.6h3.9v0.8h-3.9zM499.7 481.8h3.9v0.8h-3.9zM504 480.4h3.9v0.8h-3.9zM508.4 479.1h3.9v0.8h-3.9zM512.7 479.3h3.9v0.8h-3.9zM517 486h3.9v0.8h-3.9zM521.3 484.1h3.9v0.8h-3.9zM525.7 480.5h3.9v0.8h-3.9zM530 479.6h3.9v0.8h-3.9zM534.3 479.9h3.9v0.8h-3.9zM538.6 480.3h3.9v0.8h-3.9zM542.9 482.9h3.9v0.8h-3.9zM547.3 486.3h3.9v0.8h-3.9zM551.6 482.3h3.9v0.8h-3.9zM555.9 482.8h3.9v0.8h-3.9zM560.2 485.7h3.9v0.8h-3.9zM564.6 483h3.9v0.8h-3.9zM568.9 483.8h3.9v0.8h-3.9zM573.2 479.6h3.9v0.8h-3.9zM577.5 480.8h3.9v0.8h-3.9zM581.8 480.7h3.9v0.8h-3.9zM586.2 484.2h3.9v0.8h-3.9zM590.5 483.5h3.9v0.8h-3.9zM594.8 482.2h3.9v0.8h-3.9zM599.1 485.7h3.9v0.8h-3.9zM603.5 484.7h3.9v0.8h-3.9zM607.8 485.6h3.9v0.8h-3.9zM612.1 479.3h3.9v0.8h-3.9zM616.4 484.2h3.9v0.8h-3.9zM620.7 486.4h3.9v0.8h-3.9zM625.1 485.3h3.9v0.8h-3.9zM629.4 484.3h3.9v0.8h-3.9zM633.7 486.7h3.9v0.8h-3.9zM638 486.8h3.9v0.8h-3.9zM642.4 485h3.9v0.8h-3.9zM646.7 487.1h3.9v0.8h-3.9zM651 484.9h3.9v0.8h-3.9zM655.3 486.2h3.9v0.8h-3.9zM659.6 486.5h3.9v0.8h-3.9zM664 486.9h3.9v0.8h-3.9zM668.3 487.5h3.9v0.8h-3.9zM672.6 485.9h3.9v0.8h-3.9zM676.9 486.7h3.9v0.8h-3.9zM681.3 487.6h3.9v0.8h-3.9zM685.6 488.6h3.9v0.8h-3.9zM689.9 487.3h3.9v0.8h-3.9zM694.2 488.6h3.9v0.8h-3.9zM698.5 486.8h3.9v0.8h-3.9zM702.9 485.8h3.9v0.9h-3.9zM707.2 487.9h3.9v1h-3.9zM711.5 487.2h3.9v1.1h-3.9zM715.8 485.9h3.9v1.5h-3.9zM720.2 485.9h3.9v1.6h-3.9zM724.5 486.3h3.9v1.7h-3.9zM728.8 489.2h3.9v1.1h-3.9zM733.1 488h3.9v1.7h-3.9zM737.4 487.9h3.9v1.5h-3.9zM741.8 487.8h3.9v1.6h-3.9zM746.1 487.8h3.9v2h-3.9zM750.4 488.5h3.9v1.7h-3.9zM754.7 486.2h3.9v3.3h-3.9zM759.1 464h3.9v22.7h-3.9zM763.4 476.7h3.9v12.1h-3.9zM767.7 490.5h3.9v1.7h-3.9zM772 490.6h3.9v1.6h-3.9zM776.4 489.3h3.9v3h-3.9zM780.7 490.5h3.9v1.8h-3.9zM785 490.9h3.9v1.6h-3.9zM789.3 490.4h3.9v2h-3.9zM793.6 490.3h3.9v2h-3.9zM798 490.1h3.9v1.9h-3.9zM802.3 489.8h3.9v1.5h-3.9zM806.6 490.8h3.9v1.6h-3.9zM810.9 490.2h3.9v1.9h-3.9zM815.3 489.6h3.9v2.7h-3.9zM819.6 490.3h3.9v2.2h-3.9zM823.9 488.8h3.9v3.3h-3.9zM828.2 488.7h3.9v3.2h-3.9zM832.5 489.7h3.9v2.6h-3.9zM836.9 490.2h3.9v2h-3.9zM841.2 490.5h3.9v1.9h-3.9zM845.5 490.1h3.9v2.3h-3.9zM849.8 490.4h3.9v1.8h-3.9zM854.2 489.6h3.9v2.7h-3.9zM858.5 489.7h3.9v2.7h-3.9zM862.8 489.5h3.9v2.5h-3.9zM867.1 490.1h3.9v2.1h-3.9zM871.4 490.9h3.9v1.5h-3.9zM875.8 490.8h3.9v1.8h-3.9zM880.1 490.5h3.9v2h-3.9zM884.4 479.1h3.9v10.9h-3.9zM888.7 488.2h3.9v3.6h-3.9zM893.1 489.2h3.9v2.4h-3.9zM897.4 490h3.9v2h-3.9z" fill="#a02a4a"/>
<path d="M110.7 481.1h3.9v1.1h-3.9zM115 479.9h3.9v1.1h-3.9zM119.3 483h3.9v1.1h-3.9zM123.7 479.4h3.9v1.1h-3.9zM128 472.2h3.9v1.1h-3.9zM132.3 477.6h3.9v1.1h-3.9zM136.6 482h3.9v1.1h-3.9zM141 477.3h3.9v1.1h-3.9zM145.3 480h3.9v1.1h-3.9zM149.6 482.2h3.9v1.1h-3.9zM153.9 480.7h3.9v1.1h-3.9zM158.2 479.4h3.9v1.1h-3.9zM162.6 472.5h3.9v1.1h-3.9zM166.9 474.1h3.9v1.1h-3.9zM171.2 475h3.9v1.1h-3.9zM175.5 479.1h3.9v1.1h-3.9zM179.9 483.8h3.9v1.1h-3.9zM184.2 483.3h3.9v1.1h-3.9zM188.5 479.5h3.9v1.1h-3.9zM192.8 476.5h3.9v1.1h-3.9zM197.1 473.5h3.9v1.1h-3.9zM201.5 481.1h3.9v1.1h-3.9zM205.8 476h3.9v1.1h-3.9zM210.1 476.9h3.9v1.1h-3.9zM214.4 480h3.9v1.1h-3.9zM218.8 479.7h3.9v1.1h-3.9zM223.1 477.8h3.9v1.1h-3.9zM227.4 481.7h3.9v1.1h-3.9zM231.7 480.1h3.9v1.1h-3.9zM236 477.8h3.9v1.1h-3.9zM240.4 477.4h3.9v1.1h-3.9zM244.7 479.3h3.9v1.1h-3.9zM249 476.6h3.9v1.1h-3.9zM253.3 479.8h3.9v1.1h-3.9zM257.7 479.5h3.9v1.1h-3.9zM262 478.9h3.9v1.1h-3.9zM266.3 479.7h3.9v1.1h-3.9zM270.6 483.1h3.9v1.1h-3.9zM275 484.3h3.9v1.1h-3.9zM279.3 481.8h3.9v1.1h-3.9zM283.6 478.6h3.9v1.1h-3.9zM287.9 480.5h3.9v1.1h-3.9zM292.2 481.3h3.9v1.1h-3.9zM296.6 478h3.9v1.1h-3.9zM300.9 469.2h3.9v1.1h-3.9zM305.2 481.6h3.9v1.1h-3.9zM309.5 483.6h3.9v1.1h-3.9zM313.9 478.8h3.9v1.1h-3.9zM318.2 481h3.9v1.1h-3.9zM322.5 480.1h3.9v1.1h-3.9zM326.8 482h3.9v1.1h-3.9zM331.1 483.4h3.9v1.1h-3.9zM335.5 479.5h3.9v1.1h-3.9zM339.8 480.4h3.9v1.1h-3.9zM344.1 480.6h3.9v1.1h-3.9zM348.4 482.5h3.9v1.1h-3.9zM352.8 480.7h3.9v1.1h-3.9zM357.1 479.1h3.9v1.1h-3.9zM361.4 475.3h3.9v1.1h-3.9zM365.7 479.9h3.9v1.1h-3.9zM370 480.9h3.9v1.1h-3.9zM374.4 484.6h3.9v1.1h-3.9zM378.7 482.7h3.9v1.1h-3.9zM383 482.9h3.9v1.1h-3.9zM387.3 482.1h3.9v1.1h-3.9zM391.7 485.8h3.9v1.1h-3.9zM396 486.1h3.9v1.1h-3.9zM400.3 483.3h3.9v1.1h-3.9zM404.6 483.4h3.9v1.1h-3.9zM408.9 481.1h3.9v1.1h-3.9zM413.3 482h3.9v1.1h-3.9zM417.6 480.6h3.9v1.1h-3.9zM421.9 473.2h3.9v1.1h-3.9zM426.2 479.8h3.9v1.1h-3.9zM430.6 476.9h3.9v1.1h-3.9zM434.9 482h3.9v1.1h-3.9zM439.2 481.8h3.9v1.1h-3.9zM443.5 481.7h3.9v1.1h-3.9zM447.8 481.2h3.9v1.1h-3.9zM452.2 481.4h3.9v1.1h-3.9zM456.5 484.5h3.9v1.1h-3.9zM460.8 482.4h3.9v1.1h-3.9zM465.1 481.8h3.9v1.1h-3.9zM469.5 483.4h3.9v1.1h-3.9zM473.8 481.8h3.9v1.1h-3.9zM478.1 482.3h3.9v1.1h-3.9zM482.4 482.9h3.9v1.1h-3.9zM486.7 482.6h3.9v1.1h-3.9zM491.1 480.3h3.9v1.1h-3.9zM495.4 478.6h3.9v1.1h-3.9zM499.7 480.8h3.9v1.1h-3.9zM504 479.4h3.9v1.1h-3.9zM508.4 478h3.9v1.1h-3.9zM512.7 478.2h3.9v1.1h-3.9zM517 484.9h3.9v1.1h-3.9zM521.3 483.1h3.9v1.1h-3.9zM525.7 479.5h3.9v1.1h-3.9zM530 478.6h3.9v1.1h-3.9zM534.3 478.9h3.9v1.1h-3.9zM538.6 479.2h3.9v1.1h-3.9zM542.9 481.9h3.9v1.1h-3.9zM547.3 485.3h3.9v1.1h-3.9zM551.6 481.3h3.9v1.1h-3.9zM555.9 481.7h3.9v1.1h-3.9zM560.2 484.6h3.9v1.1h-3.9zM564.6 482h3.9v1.1h-3.9zM568.9 482.7h3.9v1.1h-3.9zM573.2 478.5h3.9v1.1h-3.9zM577.5 479.8h3.9v1.1h-3.9zM581.8 479.6h3.9v1.1h-3.9zM586.2 483.1h3.9v1.1h-3.9zM590.5 482.4h3.9v1.1h-3.9zM594.8 481.2h3.9v1.1h-3.9zM599.1 484.7h3.9v1.1h-3.9zM603.5 483.7h3.9v1.1h-3.9zM607.8 484.6h3.9v1.1h-3.9zM612.1 478.2h3.9v1.1h-3.9zM616.4 483.2h3.9v1.1h-3.9zM620.7 485.4h3.9v1.1h-3.9zM625.1 484.2h3.9v1.1h-3.9zM629.4 483.3h3.9v1.1h-3.9zM633.7 485.7h3.9v1.1h-3.9zM638 485.8h3.9v1.1h-3.9zM642.4 484h3.9v1.1h-3.9zM646.7 486h3.9v1.1h-3.9zM651 483.9h3.9v1.1h-3.9zM655.3 485.1h3.9v1.1h-3.9zM659.6 485.5h3.9v1.1h-3.9zM664 485.9h3.9v1.1h-3.9zM668.3 486.5h3.9v1.1h-3.9zM672.6 484.9h3.9v1.1h-3.9zM676.9 485.7h3.9v1.1h-3.9zM681.3 486.5h3.9v1.1h-3.9zM685.6 487.6h3.9v1.1h-3.9zM689.9 486.2h3.9v1.1h-3.9zM694.2 487.5h3.9v1.1h-3.9zM698.5 485.7h3.9v1.2h-3.9zM702.9 484.5h3.9v1.4h-3.9zM707.2 486.4h3.9v1.6h-3.9zM711.5 485.7h3.9v1.6h-3.9zM715.8 483.8h3.9v2.2h-3.9zM720.2 483.3h3.9v2.7h-3.9zM724.5 483.8h3.9v2.6h-3.9zM728.8 487.2h3.9v2.2h-3.9zM733.1 485.4h3.9v2.6h-3.9zM737.4 485.1h3.9v2.9h-3.9zM741.8 483.9h3.9v4h-3.9zM746.1 483.9h3.9v4h-3.9zM750.4 484.5h3.9v4.1h-3.9zM754.7 480.7h3.9v5.6h-3.9zM759.1 452.4h3.9v11.7h-3.9zM763.4 467.2h3.9v9.5h-3.9zM767.7 486.2h3.9v4.4h-3.9zM772 486.8h3.9v3.9h-3.9zM776.4 485.6h3.9v3.9h-3.9zM780.7 486.5h3.9v4.2h-3.9zM785 486.9h3.9v4.1h-3.9zM789.3 486.4h3.9v4.1h-3.9zM793.6 485.8h3.9v4.6h-3.9zM798 485h3.9v5.2h-3.9zM802.3 485.5h3.9v4.5h-3.9zM806.6 487.4h3.9v3.5h-3.9zM810.9 485.4h3.9v4.9h-3.9zM815.3 485.3h3.9v4.4h-3.9zM819.6 486.3h3.9v4.1h-3.9zM823.9 484.7h3.9v4.2h-3.9zM828.2 482.8h3.9v6h-3.9zM832.5 485.3h3.9v4.5h-3.9zM836.9 486.6h3.9v3.8h-3.9zM841.2 487.5h3.9v3.2h-3.9zM845.5 486.1h3.9v4h-3.9zM849.8 485.9h3.9v4.6h-3.9zM854.2 485.3h3.9v4.4h-3.9zM858.5 485.6h3.9v4.2h-3.9zM862.8 484.3h3.9v5.3h-3.9zM867.1 486.6h3.9v3.7h-3.9zM871.4 487.5h3.9v3.5h-3.9zM875.8 488.1h3.9v2.8h-3.9zM880.1 487.3h3.9v3.4h-3.9zM884.4 471.4h3.9v7.8h-3.9zM888.7 482.5h3.9v5.8h-3.9zM893.1 484.1h3.9v5.2h-3.9zM897.4 486h3.9v4.1h-3.9z" fill="#3f8a45"/>
<path d="M110.7 467h3.9v14.2h-3.9zM115 460.1h3.9v19.8h-3.9zM119.3 469.4h3.9v13.7h-3.9zM123.7 462.6h3.9v16.9h-3.9zM128 451.5h3.9v20.8h-3.9zM132.3 454.5h3.9v23.2h-3.9zM136.6 465.3h3.9v16.9h-3.9zM141 461.1h3.9v16.3h-3.9zM145.3 466.1h3.9v14h-3.9zM149.6 466.1h3.9v16.1h-3.9zM153.9 465.2h3.9v15.7h-3.9zM158.2 461.6h3.9v17.9h-3.9zM162.6 452.1h3.9v20.5h-3.9zM166.9 455.7h3.9v18.5h-3.9zM171.2 457.1h3.9v18h-3.9zM175.5 459.3h3.9v19.9h-3.9zM179.9 470.1h3.9v13.8h-3.9zM184.2 473.2h3.9v10.1h-3.9zM188.5 464.7h3.9v15h-3.9zM192.8 450.9h3.9v25.6h-3.9zM197.1 454.3h3.9v19.3h-3.9zM201.5 462.7h3.9v18.5h-3.9zM205.8 453.9h3.9v22.3h-3.9zM210.1 459.8h3.9v17.2h-3.9zM214.4 462.4h3.9v17.6h-3.9zM218.8 463.5h3.9v16.3h-3.9zM223.1 458.6h3.9v19.4h-3.9zM227.4 466h3.9v15.8h-3.9zM231.7 459.3h3.9v20.9h-3.9zM236 459.3h3.9v18.6h-3.9zM240.4 457.2h3.9v20.3h-3.9zM244.7 463.4h3.9v15.9h-3.9zM249 459.6h3.9v17.1h-3.9zM253.3 461.2h3.9v18.7h-3.9zM257.7 462.9h3.9v16.8h-3.9zM262 456.1h3.9v22.9h-3.9zM266.3 459.9h3.9v19.8h-3.9zM270.6 470.3h3.9v12.9h-3.9zM275 472.9h3.9v11.6h-3.9zM279.3 464.7h3.9v17.1h-3.9zM283.6 459.2h3.9v19.4h-3.9zM287.9 461.5h3.9v19.1h-3.9zM292.2 464.3h3.9v17.1h-3.9zM296.6 456.8h3.9v21.3h-3.9zM300.9 443.4h3.9v25.9h-3.9zM305.2 465.9h3.9v15.8h-3.9zM309.5 468.3h3.9v15.5h-3.9zM313.9 459.2h3.9v19.7h-3.9zM318.2 466.5h3.9v14.6h-3.9zM322.5 460.7h3.9v19.5h-3.9zM326.8 467.8h3.9v14.3h-3.9zM331.1 472.8h3.9v10.6h-3.9zM335.5 463.9h3.9v15.7h-3.9zM339.8 460h3.9v20.5h-3.9zM344.1 462.6h3.9v18.1h-3.9zM348.4 466.1h3.9v16.5h-3.9zM352.8 462.1h3.9v18.7h-3.9zM357.1 456.2h3.9v23h-3.9zM361.4 453.6h3.9v21.8h-3.9zM365.7 456.8h3.9v23.2h-3.9zM370 462.8h3.9v18.2h-3.9zM374.4 470.4h3.9v14.3h-3.9zM378.7 470.7h3.9v12.1h-3.9zM383 466.9h3.9v16h-3.9zM387.3 466.7h3.9v15.5h-3.9zM391.7 474.4h3.9v11.5h-3.9zM396 475h3.9v11.2h-3.9zM400.3 470.9h3.9v12.6h-3.9zM404.6 468.7h3.9v14.7h-3.9zM408.9 462.4h3.9v18.8h-3.9zM413.3 465.6h3.9v16.5h-3.9zM417.6 460.8h3.9v19.8h-3.9zM421.9 448.1h3.9v25.2h-3.9zM426.2 455.7h3.9v24.3h-3.9zM430.6 454.8h3.9v22.2h-3.9zM434.9 461.4h3.9v20.7h-3.9zM439.2 466.1h3.9v15.8h-3.9zM443.5 466.5h3.9v15.3h-3.9zM447.8 458.9h3.9v22.4h-3.9zM452.2 465.9h3.9v15.6h-3.9zM456.5 472.9h3.9v11.7h-3.9zM460.8 466.9h3.9v15.6h-3.9zM465.1 463.9h3.9v18h-3.9zM469.5 466.2h3.9v17.3h-3.9zM473.8 462.3h3.9v19.7h-3.9zM478.1 460.9h3.9v21.4h-3.9zM482.4 467.8h3.9v15.2h-3.9zM486.7 466.4h3.9v16.3h-3.9zM491.1 461.8h3.9v18.6h-3.9zM495.4 457.8h3.9v20.9h-3.9zM499.7 456.8h3.9v24.1h-3.9zM504 454h3.9v25.5h-3.9zM508.4 450h3.9v28.1h-3.9zM512.7 453.4h3.9v24.9h-3.9zM517 471.4h3.9v13.6h-3.9zM521.3 464.3h3.9v18.8h-3.9zM525.7 455.3h3.9v24.3h-3.9zM530 455.9h3.9v22.8h-3.9zM534.3 456.8h3.9v22.2h-3.9zM538.6 454h3.9v25.3h-3.9zM542.9 463h3.9v18.9h-3.9zM547.3 470.1h3.9v15.3h-3.9zM551.6 462.4h3.9v18.9h-3.9zM555.9 459.2h3.9v22.7h-3.9zM560.2 466.7h3.9v18h-3.9zM564.6 461.9h3.9v20.2h-3.9zM568.9 462.9h3.9v19.9h-3.9zM573.2 455.4h3.9v23.2h-3.9zM577.5 452.1h3.9v27.7h-3.9zM581.8 457.6h3.9v22.1h-3.9zM586.2 466.1h3.9v17.1h-3.9zM590.5 463.1h3.9v19.4h-3.9zM594.8 461.6h3.9v19.6h-3.9zM599.1 468.8h3.9v16h-3.9zM603.5 465.8h3.9v18h-3.9zM607.8 465.6h3.9v19.1h-3.9zM612.1 443.4h3.9v34.9h-3.9zM616.4 464.4h3.9v18.9h-3.9zM620.7 469.7h3.9v15.8h-3.9zM625.1 467.1h3.9v17.2h-3.9zM629.4 460.8h3.9v22.5h-3.9zM633.7 467h3.9v18.8h-3.9zM638 469.5h3.9v16.4h-3.9zM642.4 465.6h3.9v18.5h-3.9zM646.7 469.4h3.9v16.7h-3.9zM651 464.3h3.9v19.7h-3.9zM655.3 468.5h3.9v16.7h-3.9zM659.6 465.3h3.9v20.3h-3.9zM664 469.5h3.9v16.4h-3.9zM668.3 468.2h3.9v18.4h-3.9zM672.6 463.6h3.9v21.4h-3.9zM676.9 470.5h3.9v15.3h-3.9zM681.3 470.6h3.9v16h-3.9zM685.6 476.4h3.9v11.3h-3.9zM689.9 468.5h3.9v17.8h-3.9zM694.2 474.4h3.9v13.2h-3.9zM698.5 468.9h3.9v16.9h-3.9zM702.9 462.1h3.9v22.6h-3.9zM707.2 467.6h3.9v18.8h-3.9zM711.5 469.2h3.9v16.6h-3.9zM715.8 461.8h3.9v22.1h-3.9zM720.2 459.4h3.9v24.1h-3.9zM724.5 461.5h3.9v22.5h-3.9zM728.8 472h3.9v15.2h-3.9zM733.1 469.2h3.9v16.3h-3.9zM737.4 467.4h3.9v17.8h-3.9zM741.8 464.7h3.9v19.3h-3.9zM746.1 465.9h3.9v18.1h-3.9zM750.4 465.4h3.9v19.2h-3.9zM754.7 455.7h3.9v25.2h-3.9zM759.1 437.3h3.9v15.2h-3.9zM763.4 451.8h3.9v15.6h-3.9zM767.7 476.3h3.9v10h-3.9zM772 479.1h3.9v7.8h-3.9zM776.4 478.3h3.9v7.4h-3.9zM780.7 479.3h3.9v7.2h-3.9zM785 480.3h3.9v6.7h-3.9zM789.3 481.5h3.9v5h-3.9zM793.6 478.3h3.9v7.6h-3.9zM798 474.8h3.9v10.4h-3.9zM802.3 475.2h3.9v10.3h-3.9zM806.6 479.3h3.9v8.2h-3.9zM810.9 477.9h3.9v7.6h-3.9zM815.3 480.1h3.9v5.3h-3.9zM819.6 481.4h3.9v5h-3.9zM823.9 475h3.9v9.8h-3.9zM828.2 472.7h3.9v10.2h-3.9zM832.5 479.2h3.9v6.2h-3.9zM836.9 480h3.9v6.6h-3.9zM841.2 482.7h3.9v4.9h-3.9zM845.5 480.5h3.9v5.7h-3.9zM849.8 478h3.9v8h-3.9zM854.2 478.6h3.9v6.8h-3.9zM858.5 479.3h3.9v6.3h-3.9zM862.8 475.7h3.9v8.6h-3.9zM867.1 478.3h3.9v8.4h-3.9zM871.4 482.5h3.9v5.1h-3.9zM875.8 484.8h3.9v3.4h-3.9zM880.1 483.1h3.9v4.3h-3.9zM884.4 459.9h3.9v11.6h-3.9zM888.7 470.9h3.9v11.7h-3.9zM893.1 469.8h3.9v14.4h-3.9zM897.4 475.2h3.9v10.9h-3.9z" fill="#211c5a"/>
<path d="M110.7 465.6h3.9v1.6h-3.9zM115 458.7h3.9v1.6h-3.9zM119.3 467.9h3.9v1.6h-3.9zM123.7 461.1h3.9v1.6h-3.9zM128 450.1h3.9v1.6h-3.9zM132.3 453.1h3.9v1.6h-3.9zM136.6 463.8h3.9v1.6h-3.9zM141 459.7h3.9v1.6h-3.9zM145.3 464.6h3.9v1.6h-3.9zM149.6 464.7h3.9v1.6h-3.9zM153.9 463.7h3.9v1.6h-3.9zM158.2 460.2h3.9v1.6h-3.9zM162.6 450.7h3.9v1.6h-3.9zM166.9 454.3h3.9v1.6h-3.9zM171.2 455.6h3.9v1.6h-3.9zM175.5 457.8h3.9v1.6h-3.9zM179.9 468.6h3.9v1.6h-3.9zM184.2 471.8h3.9v1.6h-3.9zM188.5 463.2h3.9v1.6h-3.9zM192.8 449.5h3.9v1.6h-3.9zM197.1 452.9h3.9v1.6h-3.9zM201.5 461.2h3.9v1.6h-3.9zM205.8 452.4h3.9v1.6h-3.9zM210.1 458.3h3.9v1.6h-3.9zM214.4 461h3.9v1.6h-3.9zM218.8 462h3.9v1.6h-3.9zM223.1 457.1h3.9v1.6h-3.9zM227.4 464.6h3.9v1.6h-3.9zM231.7 457.9h3.9v1.6h-3.9zM236 457.8h3.9v1.6h-3.9zM240.4 455.8h3.9v1.6h-3.9zM244.7 462h3.9v1.6h-3.9zM249 458.1h3.9v1.6h-3.9zM253.3 459.8h3.9v1.6h-3.9zM257.7 461.4h3.9v1.6h-3.9zM262 454.7h3.9v1.6h-3.9zM266.3 458.5h3.9v1.6h-3.9zM270.6 468.9h3.9v1.6h-3.9zM275 471.4h3.9v1.6h-3.9zM279.3 463.3h3.9v1.6h-3.9zM283.6 457.8h3.9v1.6h-3.9zM287.9 460.1h3.9v1.6h-3.9zM292.2 462.8h3.9v1.6h-3.9zM296.6 455.4h3.9v1.6h-3.9zM300.9 442h3.9v1.6h-3.9zM305.2 464.5h3.9v1.6h-3.9zM309.5 466.8h3.9v1.6h-3.9zM313.9 457.8h3.9v1.6h-3.9zM318.2 465h3.9v1.6h-3.9zM322.5 459.3h3.9v1.6h-3.9zM326.8 466.3h3.9v1.6h-3.9zM331.1 471.4h3.9v1.6h-3.9zM335.5 462.5h3.9v1.6h-3.9zM339.8 458.6h3.9v1.6h-3.9zM344.1 461.2h3.9v1.6h-3.9zM348.4 464.6h3.9v1.6h-3.9zM352.8 460.7h3.9v1.6h-3.9zM357.1 454.8h3.9v1.6h-3.9zM361.4 452.2h3.9v1.6h-3.9zM365.7 455.4h3.9v1.6h-3.9zM370 461.4h3.9v1.6h-3.9zM374.4 469h3.9v1.6h-3.9zM378.7 469.2h3.9v1.6h-3.9zM383 465.5h3.9v1.6h-3.9zM387.3 465.2h3.9v1.6h-3.9zM391.7 473h3.9v1.6h-3.9zM396 473.6h3.9v1.6h-3.9zM400.3 469.4h3.9v1.6h-3.9zM404.6 467.3h3.9v1.6h-3.9zM408.9 461h3.9v1.6h-3.9zM413.3 464.1h3.9v1.6h-3.9zM417.6 459.4h3.9v1.6h-3.9zM421.9 446.6h3.9v1.6h-3.9zM426.2 454.2h3.9v1.6h-3.9zM430.6 453.3h3.9v1.6h-3.9zM434.9 459.9h3.9v1.6h-3.9zM439.2 464.7h3.9v1.6h-3.9zM443.5 465h3.9v1.6h-3.9zM447.8 457.4h3.9v1.6h-3.9zM452.2 464.4h3.9v1.6h-3.9zM456.5 471.5h3.9v1.6h-3.9zM460.8 465.4h3.9v1.6h-3.9zM465.1 462.5h3.9v1.6h-3.9zM469.5 464.8h3.9v1.6h-3.9zM473.8 460.8h3.9v1.6h-3.9zM478.1 459.5h3.9v1.6h-3.9zM482.4 466.3h3.9v1.6h-3.9zM486.7 464.9h3.9v1.6h-3.9zM491.1 460.4h3.9v1.6h-3.9zM495.4 456.3h3.9v1.6h-3.9zM499.7 455.4h3.9v1.6h-3.9zM504 452.5h3.9v1.6h-3.9zM508.4 448.6h3.9v1.6h-3.9zM512.7 451.9h3.9v1.6h-3.9zM517 470h3.9v1.6h-3.9zM521.3 462.9h3.9v1.6h-3.9zM525.7 453.9h3.9v1.6h-3.9zM530 454.5h3.9v1.6h-3.9zM534.3 455.3h3.9v1.6h-3.9zM538.6 452.6h3.9v1.6h-3.9zM542.9 461.6h3.9v1.6h-3.9zM547.3 468.6h3.9v1.6h-3.9zM551.6 461h3.9v1.6h-3.9zM555.9 457.7h3.9v1.6h-3.9zM560.2 465.2h3.9v1.6h-3.9zM564.6 460.5h3.9v1.6h-3.9zM568.9 461.4h3.9v1.6h-3.9zM573.2 454h3.9v1.6h-3.9zM577.5 450.7h3.9v1.6h-3.9zM581.8 456.2h3.9v1.6h-3.9zM586.2 464.7h3.9v1.6h-3.9zM590.5 461.6h3.9v1.6h-3.9zM594.8 460.2h3.9v1.6h-3.9zM599.1 467.3h3.9v1.6h-3.9zM603.5 464.3h3.9v1.6h-3.9zM607.8 464.1h3.9v1.6h-3.9zM612.1 442h3.9v1.6h-3.9zM616.4 463h3.9v1.6h-3.9zM620.7 468.3h3.9v1.6h-3.9zM625.1 465.7h3.9v1.6h-3.9zM629.4 459.4h3.9v1.6h-3.9zM633.7 465.5h3.9v1.6h-3.9zM638 468h3.9v1.6h-3.9zM642.4 464.1h3.9v1.6h-3.9zM646.7 467.9h3.9v1.6h-3.9zM651 462.8h3.9v1.6h-3.9zM655.3 467.1h3.9v1.6h-3.9zM659.6 463.9h3.9v1.6h-3.9zM664 468.1h3.9v1.6h-3.9zM668.3 466.8h3.9v1.6h-3.9zM672.6 462.1h3.9v1.6h-3.9zM676.9 469h3.9v1.6h-3.9zM681.3 469.1h3.9v1.6h-3.9zM685.6 475h3.9v1.6h-3.9zM689.9 467h3.9v1.6h-3.9zM694.2 473h3.9v1.6h-3.9zM698.5 467.4h3.9v1.6h-3.9zM702.9 460.6h3.9v1.6h-3.9zM707.2 466.2h3.9v1.6h-3.9zM711.5 467.7h3.9v1.6h-3.9zM715.8 460.3h3.9v1.6h-3.9zM720.2 457.9h3.9v1.6h-3.9zM724.5 460h3.9v1.6h-3.9zM728.8 470.6h3.9v1.6h-3.9zM733.1 467.8h3.9v1.6h-3.9zM737.4 465.9h3.9v1.6h-3.9zM741.8 463.2h3.9v1.6h-3.9zM759.1 435h3.9v2.4h-3.9zM763.4 450.1h3.9v1.8h-3.9zM802.3 464.3h3.9v11h-3.9z" fill="#55a5a0"/>
<path d="M746.1 464.5h3.9v1.6h-3.9zM750.4 463.9h3.9v1.6h-3.9zM754.7 454.2h3.9v1.6h-3.9zM767.7 474.9h3.9v1.6h-3.9zM772 477.6h3.9v1.5h-3.9zM776.4 476.8h3.9v1.6h-3.9zM780.7 477.9h3.9v1.5h-3.9zM785 478.8h3.9v1.5h-3.9zM789.3 480h3.9v1.5h-3.9zM793.6 476.8h3.9v1.6h-3.9zM798 473.3h3.9v1.6h-3.9zM806.6 477.9h3.9v1.5h-3.9zM810.9 476.5h3.9v1.6h-3.9zM815.3 478.7h3.9v1.5h-3.9zM819.6 479.9h3.9v1.5h-3.9zM823.9 473.6h3.9v1.6h-3.9zM828.2 471.2h3.9v1.6h-3.9zM832.5 477.7h3.9v1.5h-3.9zM836.9 478.6h3.9v1.5h-3.9zM841.2 481.2h3.9v1.5h-3.9zM845.5 479h3.9v1.5h-3.9zM849.8 476.5h3.9v1.6h-3.9zM854.2 477.2h3.9v1.5h-3.9zM858.5 477.9h3.9v1.5h-3.9zM862.8 474.3h3.9v1.6h-3.9zM867.1 476.9h3.9v1.6h-3.9zM871.4 481.1h3.9v1.5h-3.9zM875.8 483.3h3.9v1.5h-3.9zM880.1 481.6h3.9v1.5h-3.9zM884.4 458.2h3.9v1.8h-3.9zM888.7 469.4h3.9v1.6h-3.9zM893.1 468.4h3.9v1.6h-3.9zM897.4 473.8h3.9v1.6h-3.9z" fill="#9080b8"/>
<path d="M759.1 486.6h3.9v1.3h-3.9zM884.4 489.9h3.9v1.1h-3.9z" fill="#b0a830"/>
<rect x="814" y="434.5" width="88" height="59" fill="#000" fill-opacity="0.16" stroke="#7e7e7e" stroke-width="1"/>
<rect x="110" y="434.5" width="792" height="59" fill="none" stroke="#878787" stroke-width="1"/>
<path d="M1024.7 476.3h3.9v16.8h-3.9zM1029 474.6h3.9v18.5h-3.9zM1033.4 469.5h3.9v23.6h-3.9zM1037.7 474.9h3.9v18.2h-3.9zM1042 460.2h3.9v32.9h-3.9zM1046.4 462h3.9v31.1h-3.9zM1050.7 467h3.9v26.1h-3.9zM1055 470.7h3.9v22.4h-3.9zM1059.4 476.4h3.9v16.7h-3.9zM1063.7 479h3.9v14.1h-3.9zM1068 467.6h3.9v25.5h-3.9zM1072.4 471.9h3.9v21.2h-3.9zM1076.7 460.2h3.9v32.9h-3.9zM1081 471h3.9v22.1h-3.9zM1085.4 468.4h3.9v24.7h-3.9zM1089.7 472.9h3.9v20.2h-3.9zM1094 473.9h3.9v19.2h-3.9zM1098.4 482.8h3.9v10.3h-3.9zM1102.7 468.5h3.9v24.6h-3.9zM1107 461.9h3.9v31.2h-3.9zM1111.3 465.5h3.9v27.6h-3.9zM1115.7 472.7h3.9v20.4h-3.9zM1120 470.3h3.9v22.8h-3.9zM1124.3 470.4h3.9v22.7h-3.9zM1128.7 474.4h3.9v18.7h-3.9zM1133 478.5h3.9v14.6h-3.9zM1137.3 474.8h3.9v18.3h-3.9zM1141.7 473.3h3.9v19.8h-3.9zM1146 470.2h3.9v22.9h-3.9zM1150.3 473.6h3.9v19.5h-3.9zM1154.7 468.3h3.9v24.8h-3.9zM1159 480.7h3.9v12.4h-3.9zM1163.3 477.8h3.9v15.3h-3.9zM1167.7 478h3.9v15.1h-3.9zM1172 477.2h3.9v15.9h-3.9zM1176.3 473.6h3.9v19.5h-3.9zM1180.7 472.2h3.9v20.9h-3.9zM1185 471.5h3.9v21.6h-3.9zM1189.3 475.3h3.9v17.8h-3.9zM1193.7 476.5h3.9v16.6h-3.9zM1198 475.9h3.9v17.2h-3.9zM1202.3 470.2h3.9v22.9h-3.9zM1206.7 470.3h3.9v22.8h-3.9zM1211 471.9h3.9v21.2h-3.9zM1215.3 470.9h3.9v22.2h-3.9zM1219.7 472.7h3.9v20.4h-3.9zM1224 478.9h3.9v14.2h-3.9zM1228.3 474h3.9v19.1h-3.9zM1232.7 477h3.9v16.1h-3.9zM1237 474h3.9v19.1h-3.9zM1241.3 478.9h3.9v14.2h-3.9zM1245.7 473.8h3.9v19.3h-3.9zM1250 476.2h3.9v16.9h-3.9zM1254.3 477.6h3.9v15.5h-3.9zM1258.7 477.8h3.9v15.3h-3.9zM1263 477.7h3.9v15.4h-3.9zM1267.3 474.8h3.9v18.3h-3.9zM1271.6 478.5h3.9v14.6h-3.9zM1276 480.4h3.9v12.7h-3.9zM1280.3 473.4h3.9v19.7h-3.9zM1284.6 481.4h3.9v11.7h-3.9zM1289 481.1h3.9v12h-3.9zM1293.3 477.9h3.9v15.2h-3.9zM1297.6 479.9h3.9v13.2h-3.9zM1302 475.2h3.9v17.9h-3.9zM1306.3 482.3h3.9v10.8h-3.9zM1310.6 483.9h3.9v9.2h-3.9zM1315 484.7h3.9v8.4h-3.9zM1319.3 483.2h3.9v9.9h-3.9zM1323.6 479.1h3.9v14h-3.9zM1328 478.9h3.9v14.2h-3.9zM1332.3 474.6h3.9v18.5h-3.9zM1336.6 470.4h3.9v22.7h-3.9zM1341 474.5h3.9v18.6h-3.9zM1345.3 473.2h3.9v19.9h-3.9zM1349.6 479h3.9v14.1h-3.9zM1354 472.9h3.9v20.2h-3.9zM1358.3 474.2h3.9v18.9h-3.9zM1362.6 476.2h3.9v16.9h-3.9zM1367 478.3h3.9v14.8h-3.9zM1371.3 476.2h3.9v16.9h-3.9zM1375.6 472.2h3.9v20.9h-3.9zM1380 483.4h3.9v9.7h-3.9zM1384.3 477.9h3.9v15.2h-3.9zM1388.6 474.9h3.9v18.2h-3.9zM1393 473.9h3.9v19.2h-3.9zM1397.3 478.8h3.9v14.3h-3.9zM1401.6 474.9h3.9v18.2h-3.9zM1406 476.4h3.9v16.7h-3.9zM1410.3 478.7h3.9v14.4h-3.9zM1414.6 480.7h3.9v12.4h-3.9zM1419 478.4h3.9v14.7h-3.9zM1423.3 472.7h3.9v20.4h-3.9zM1427.6 471.6h3.9v21.5h-3.9zM1431.9 474.6h3.9v18.5h-3.9zM1436.3 477.5h3.9v15.6h-3.9zM1440.6 478.2h3.9v14.9h-3.9zM1444.9 475.9h3.9v17.2h-3.9zM1449.3 473.8h3.9v19.3h-3.9zM1453.6 477.4h3.9v15.7h-3.9zM1457.9 481h3.9v12.1h-3.9zM1462.3 478.8h3.9v14.3h-3.9zM1466.6 481.9h3.9v11.2h-3.9zM1470.9 473.4h3.9v19.7h-3.9zM1475.3 475h3.9v18.1h-3.9zM1479.6 479.4h3.9v13.7h-3.9zM1483.9 479.3h3.9v13.8h-3.9zM1488.3 477.3h3.9v15.8h-3.9zM1492.6 479.9h3.9v13.2h-3.9zM1496.9 471.5h3.9v21.6h-3.9zM1501.3 478.2h3.9v14.9h-3.9zM1505.6 483.2h3.9v9.9h-3.9zM1509.9 483.5h3.9v9.6h-3.9zM1514.3 478.7h3.9v14.4h-3.9zM1518.6 479.4h3.9v13.7h-3.9zM1522.9 480.9h3.9v12.2h-3.9zM1527.3 480.2h3.9v12.9h-3.9zM1531.6 473.4h3.9v19.7h-3.9zM1535.9 483h3.9v10.1h-3.9zM1540.3 486.6h3.9v6.5h-3.9zM1544.6 479.5h3.9v13.6h-3.9zM1548.9 483.8h3.9v9.3h-3.9zM1553.3 482.8h3.9v10.3h-3.9zM1557.6 483.3h3.9v9.8h-3.9zM1561.9 485.4h3.9v7.7h-3.9zM1566.3 483.4h3.9v9.7h-3.9zM1570.6 484.8h3.9v8.3h-3.9zM1574.9 486.1h3.9v7h-3.9zM1579.3 482.6h3.9v10.5h-3.9zM1583.6 483.2h3.9v9.9h-3.9zM1587.9 482.3h3.9v10.8h-3.9zM1592.2 483.3h3.9v9.8h-3.9zM1596.6 485h3.9v8.1h-3.9zM1600.9 487.1h3.9v6h-3.9zM1605.2 486.1h3.9v7h-3.9zM1609.6 483.4h3.9v9.7h-3.9zM1613.9 480.7h3.9v12.4h-3.9zM1618.2 483.8h3.9v9.3h-3.9zM1622.6 483.3h3.9v9.8h-3.9zM1626.9 485.1h3.9v8h-3.9zM1631.2 485.8h3.9v7.3h-3.9zM1635.6 487.8h3.9v5.3h-3.9zM1639.9 486.5h3.9v6.6h-3.9zM1644.2 485.6h3.9v7.5h-3.9zM1648.6 487.8h3.9v5.3h-3.9zM1652.9 489.1h3.9v4h-3.9zM1657.2 491.6h3.9v1.5h-3.9zM1661.6 492h3.9v1.1h-3.9zM1665.9 491.7h3.9v1.4h-3.9zM1670.2 491.5h3.9v1.6h-3.9zM1674.6 491.4h3.9v1.7h-3.9zM1678.9 490.5h3.9v2.6h-3.9zM1683.2 490.8h3.9v2.3h-3.9zM1687.6 491.9h3.9v1.2h-3.9zM1691.9 492.2h3.9v0.9h-3.9zM1696.2 492h3.9v1.1h-3.9zM1700.6 491.1h3.9v2h-3.9zM1704.9 491.8h3.9v1.3h-3.9zM1709.2 491.9h3.9v1.2h-3.9zM1713.6 491.5h3.9v1.6h-3.9zM1717.9 491.7h3.9v1.4h-3.9zM1722.2 491.6h3.9v1.5h-3.9zM1726.6 492h3.9v1.1h-3.9zM1730.9 492.1h3.9v1h-3.9zM1735.2 491.8h3.9v1.3h-3.9zM1739.6 491.9h3.9v1.2h-3.9zM1743.9 491.2h3.9v1.9h-3.9zM1748.2 491.3h3.9v1.8h-3.9zM1752.5 491.3h3.9v1.8h-3.9zM1756.9 491.5h3.9v1.6h-3.9zM1761.2 492h3.9v1.1h-3.9zM1765.5 491.5h3.9v1.6h-3.9zM1769.9 491.2h3.9v1.9h-3.9zM1774.2 491.9h3.9v1.2h-3.9zM1778.5 491.8h3.9v1.3h-3.9zM1782.9 491.9h3.9v1.2h-3.9zM1787.2 491.8h3.9v1.3h-3.9zM1791.5 492.1h3.9v1h-3.9zM1795.9 492.1h3.9v1h-3.9zM1800.2 491.3h3.9v1.8h-3.9zM1804.5 491.1h3.9v2h-3.9zM1808.9 491.2h3.9v1.9h-3.9zM1813.2 491.8h3.9v1.3h-3.9zM1817.5 491.7h3.9v1.4h-3.9zM1821.9 492.2h3.9v0.9h-3.9z" fill="#4380b0"/>
<path d="M1024.7 475.6h3.9v0.8h-3.9zM1029 473.9h3.9v0.8h-3.9zM1033.4 468.8h3.9v0.8h-3.9zM1037.7 474.2h3.9v0.8h-3.9zM1042 459.5h3.9v0.8h-3.9zM1046.4 461.3h3.9v0.8h-3.9zM1050.7 466.3h3.9v0.8h-3.9zM1055 470h3.9v0.8h-3.9zM1059.4 475.7h3.9v0.8h-3.9zM1063.7 478.3h3.9v0.8h-3.9zM1068 466.9h3.9v0.8h-3.9zM1072.4 471.2h3.9v0.8h-3.9zM1076.7 459.5h3.9v0.8h-3.9zM1081 470.3h3.9v0.8h-3.9zM1085.4 467.7h3.9v0.8h-3.9zM1089.7 472.2h3.9v0.8h-3.9zM1094 473.2h3.9v0.8h-3.9zM1098.4 482.1h3.9v0.8h-3.9zM1102.7 467.8h3.9v0.8h-3.9zM1107 461.2h3.9v0.8h-3.9zM1111.3 464.9h3.9v0.8h-3.9zM1115.7 472h3.9v0.8h-3.9zM1120 469.6h3.9v0.8h-3.9zM1124.3 469.7h3.9v0.8h-3.9zM1128.7 473.7h3.9v0.8h-3.9zM1133 477.8h3.9v0.8h-3.9zM1137.3 474.1h3.9v0.8h-3.9zM1141.7 472.6h3.9v0.8h-3.9zM1146 469.5h3.9v0.8h-3.9zM1150.3 472.9h3.9v0.8h-3.9zM1154.7 467.6h3.9v0.8h-3.9zM1159 480h3.9v0.8h-3.9zM1163.3 477.1h3.9v0.8h-3.9zM1167.7 477.3h3.9v0.8h-3.9zM1172 476.5h3.9v0.8h-3.9zM1176.3 472.9h3.9v0.8h-3.9zM1180.7 471.5h3.9v0.8h-3.9zM1185 470.8h3.9v0.8h-3.9zM1189.3 474.6h3.9v0.8h-3.9zM1193.7 475.8h3.9v0.8h-3.9zM1198 475.2h3.9v0.8h-3.9zM1202.3 469.5h3.9v0.8h-3.9zM1206.7 469.6h3.9v0.8h-3.9zM1211 471.2h3.9v0.8h-3.9zM1215.3 470.2h3.9v0.8h-3.9zM1219.7 472.1h3.9v0.8h-3.9zM1224 478.2h3.9v0.8h-3.9zM1228.3 473.3h3.9v0.8h-3.9zM1232.7 476.3h3.9v0.8h-3.9zM1237 473.3h3.9v0.8h-3.9zM1241.3 478.2h3.9v0.8h-3.9zM1245.7 473.2h3.9v0.8h-3.9zM1250 475.5h3.9v0.8h-3.9zM1254.3 476.9h3.9v0.8h-3.9zM1258.7 477.1h3.9v0.8h-3.9zM1263 477.1h3.9v0.8h-3.9zM1267.3 474.1h3.9v0.8h-3.9zM1271.6 477.8h3.9v0.8h-3.9zM1276 479.8h3.9v0.8h-3.9zM1280.3 472.7h3.9v0.8h-3.9zM1284.6 480.7h3.9v0.8h-3.9zM1289 480.4h3.9v0.8h-3.9zM1293.3 477.2h3.9v0.8h-3.9zM1297.6 479.2h3.9v0.8h-3.9zM1302 474.5h3.9v0.8h-3.9zM1306.3 481.6h3.9v0.8h-3.9zM1310.6 483.2h3.9v0.8h-3.9zM1315 484h3.9v0.8h-3.9zM1319.3 482.5h3.9v0.8h-3.9zM1323.6 478.4h3.9v0.8h-3.9zM1328 478.2h3.9v0.8h-3.9zM1332.3 473.9h3.9v0.8h-3.9zM1336.6 469.7h3.9v0.8h-3.9zM1341 473.8h3.9v0.8h-3.9zM1345.3 472.5h3.9v0.8h-3.9zM1349.6 478.3h3.9v0.8h-3.9zM1354 472.2h3.9v0.8h-3.9zM1358.3 473.5h3.9v0.8h-3.9zM1362.6 475.5h3.9v0.8h-3.9zM1367 477.6h3.9v0.8h-3.9zM1371.3 475.5h3.9v0.8h-3.9zM1375.6 471.6h3.9v0.8h-3.9zM1380 482.7h3.9v0.8h-3.9zM1384.3 477.2h3.9v0.8h-3.9zM1388.6 474.2h3.9v0.8h-3.9zM1393 473.3h3.9v0.8h-3.9zM1397.3 478.1h3.9v0.8h-3.9zM1401.6 474.2h3.9v0.8h-3.9zM1406 475.7h3.9v0.8h-3.9zM1410.3 478h3.9v0.8h-3.9zM1414.6 480h3.9v0.8h-3.9zM1419 477.7h3.9v0.8h-3.9zM1423.3 472h3.9v0.8h-3.9zM1427.6 470.9h3.9v0.8h-3.9zM1431.9 473.9h3.9v0.8h-3.9zM1436.3 476.8h3.9v0.8h-3.9zM1440.6 477.5h3.9v0.8h-3.9zM1444.9 475.2h3.9v0.8h-3.9zM1449.3 473.1h3.9v0.8h-3.9zM1453.6 476.7h3.9v0.8h-3.9zM1457.9 480.3h3.9v0.8h-3.9zM1462.3 478.1h3.9v0.8h-3.9zM1466.6 481.2h3.9v0.8h-3.9zM1470.9 472.7h3.9v0.8h-3.9zM1475.3 474.3h3.9v0.8h-3.9zM1479.6 478.7h3.9v0.8h-3.9zM1483.9 478.6h3.9v0.8h-3.9zM1488.3 476.6h3.9v0.8h-3.9zM1492.6 479.2h3.9v0.8h-3.9zM1496.9 470.8h3.9v0.8h-3.9zM1501.3 477.5h3.9v0.8h-3.9zM1505.6 482.5h3.9v0.8h-3.9zM1509.9 482.8h3.9v0.8h-3.9zM1514.3 478h3.9v0.8h-3.9zM1518.6 478.7h3.9v0.8h-3.9zM1522.9 480.2h3.9v0.8h-3.9zM1527.3 479.5h3.9v0.8h-3.9zM1531.6 472.7h3.9v0.8h-3.9zM1535.9 482.3h3.9v0.8h-3.9zM1540.3 485.9h3.9v0.8h-3.9zM1544.6 478.8h3.9v0.8h-3.9zM1548.9 483.1h3.9v0.8h-3.9zM1553.3 482.1h3.9v0.8h-3.9zM1557.6 482.6h3.9v0.8h-3.9zM1561.9 484.7h3.9v0.8h-3.9zM1566.3 482.7h3.9v0.8h-3.9zM1570.6 484.1h3.9v0.8h-3.9zM1574.9 485.4h3.9v0.8h-3.9zM1579.3 481.9h3.9v0.8h-3.9zM1583.6 482.5h3.9v0.8h-3.9zM1587.9 481.6h3.9v0.8h-3.9zM1592.2 482.6h3.9v0.8h-3.9zM1596.6 484.3h3.9v0.8h-3.9zM1600.9 486.4h3.9v0.8h-3.9zM1605.2 485.4h3.9v0.8h-3.9zM1609.6 482.7h3.9v0.8h-3.9zM1613.9 480h3.9v0.8h-3.9zM1618.2 483.1h3.9v0.8h-3.9zM1622.6 482.6h3.9v0.8h-3.9zM1626.9 484.2h3.9v1h-3.9zM1631.2 484.7h3.9v1.3h-3.9zM1635.6 486.7h3.9v1.2h-3.9zM1639.9 485.1h3.9v1.5h-3.9zM1644.2 484h3.9v1.7h-3.9zM1648.6 486.1h3.9v1.8h-3.9zM1652.9 485.7h3.9v3.5h-3.9zM1657.2 489.1h3.9v2.6h-3.9zM1661.6 489.6h3.9v2.5h-3.9zM1665.9 489.6h3.9v2.2h-3.9zM1670.2 489.2h3.9v2.4h-3.9zM1674.6 488.4h3.9v3.1h-3.9zM1678.9 475.5h3.9v15.1h-3.9zM1683.2 488.3h3.9v2.6h-3.9zM1687.6 490h3.9v2h-3.9zM1691.9 490.2h3.9v2h-3.9zM1696.2 489.1h3.9v3h-3.9zM1700.6 488.2h3.9v2.9h-3.9zM1704.9 489.3h3.9v2.6h-3.9zM1709.2 489.9h3.9v2h-3.9zM1713.6 489.4h3.9v2.2h-3.9zM1717.9 487.9h3.9v3.9h-3.9zM1722.2 489h3.9v2.7h-3.9zM1726.6 490.2h3.9v1.9h-3.9zM1730.9 489.7h3.9v2.5h-3.9zM1735.2 488.7h3.9v3.2h-3.9zM1739.6 488.8h3.9v3.1h-3.9zM1743.9 487.5h3.9v3.8h-3.9zM1748.2 488.6h3.9v2.8h-3.9zM1752.5 488.7h3.9v2.7h-3.9zM1756.9 489.6h3.9v2h-3.9zM1761.2 489.6h3.9v2.4h-3.9zM1765.5 488h3.9v3.5h-3.9zM1769.9 488.9h3.9v2.4h-3.9zM1774.2 488.5h3.9v3.5h-3.9zM1778.5 488.9h3.9v3.1h-3.9zM1782.9 488.1h3.9v3.9h-3.9zM1787.2 489.2h3.9v2.7h-3.9zM1791.5 490h3.9v2.2h-3.9zM1795.9 490.3h3.9v1.9h-3.9zM1800.2 487.6h3.9v3.7h-3.9zM1804.5 482.4h3.9v7.6h-3.9zM1808.9 488.1h3.9v3.2h-3.9zM1813.2 489.3h3.9v2.6h-3.9zM1817.5 489h3.9v2.8h-3.9zM1821.9 489.8h3.9v2.5h-3.9z" fill="#a02a4a"/>
<path d="M1024.7 474.6h3.9v1.1h-3.9zM1029 472.9h3.9v1.1h-3.9zM1033.4 467.7h3.9v1.1h-3.9zM1037.7 473.1h3.9v1.1h-3.9zM1042 458.4h3.9v1.1h-3.9zM1046.4 460.3h3.9v1.1h-3.9zM1050.7 465.3h3.9v1.1h-3.9zM1055 469h3.9v1.1h-3.9zM1059.4 474.6h3.9v1.1h-3.9zM1063.7 477.2h3.9v1.1h-3.9zM1068 465.8h3.9v1.1h-3.9zM1072.4 470.2h3.9v1.1h-3.9zM1076.7 458.4h3.9v1.1h-3.9zM1081 469.2h3.9v1.1h-3.9zM1085.4 466.6h3.9v1.1h-3.9zM1089.7 471.2h3.9v1.1h-3.9zM1094 472.1h3.9v1.1h-3.9zM1098.4 481h3.9v1.1h-3.9zM1102.7 466.7h3.9v1.1h-3.9zM1107 460.2h3.9v1.1h-3.9zM1111.3 463.8h3.9v1.1h-3.9zM1115.7 470.9h3.9v1.1h-3.9zM1120 468.6h3.9v1.1h-3.9zM1124.3 468.7h3.9v1.1h-3.9zM1128.7 472.7h3.9v1.1h-3.9zM1133 476.8h3.9v1.1h-3.9zM1137.3 473.1h3.9v1.1h-3.9zM1141.7 471.6h3.9v1.1h-3.9zM1146 468.5h3.9v1.1h-3.9zM1150.3 471.9h3.9v1.1h-3.9zM1154.7 466.6h3.9v1.1h-3.9zM1159 479h3.9v1.1h-3.9zM1163.3 476.1h3.9v1.1h-3.9zM1167.7 476.2h3.9v1.1h-3.9zM1172 475.5h3.9v1.1h-3.9zM1176.3 471.9h3.9v1.1h-3.9zM1180.7 470.4h3.9v1.1h-3.9zM1185 469.7h3.9v1.1h-3.9zM1189.3 473.5h3.9v1.1h-3.9zM1193.7 474.8h3.9v1.1h-3.9zM1198 474.2h3.9v1.1h-3.9zM1202.3 468.5h3.9v1.1h-3.9zM1206.7 468.6h3.9v1.1h-3.9zM1211 470.1h3.9v1.1h-3.9zM1215.3 469.2h3.9v1.1h-3.9zM1219.7 471h3.9v1.1h-3.9zM1224 477.2h3.9v1.1h-3.9zM1228.3 472.2h3.9v1.1h-3.9zM1232.7 475.3h3.9v1.1h-3.9zM1237 472.3h3.9v1.1h-3.9zM1241.3 477.2h3.9v1.1h-3.9zM1245.7 472.1h3.9v1.1h-3.9zM1250 474.5h3.9v1.1h-3.9zM1254.3 475.9h3.9v1.1h-3.9zM1258.7 476.1h3.9v1.1h-3.9zM1263 476h3.9v1.1h-3.9zM1267.3 473.1h3.9v1.1h-3.9zM1271.6 476.8h3.9v1.1h-3.9zM1276 478.7h3.9v1.1h-3.9zM1280.3 471.6h3.9v1.1h-3.9zM1284.6 479.7h3.9v1.1h-3.9zM1289 479.3h3.9v1.1h-3.9zM1293.3 476.2h3.9v1.1h-3.9zM1297.6 478.2h3.9v1.1h-3.9zM1302 473.4h3.9v1.1h-3.9zM1306.3 480.5h3.9v1.1h-3.9zM1310.6 482.1h3.9v1.1h-3.9zM1315 483h3.9v1.1h-3.9zM1319.3 481.5h3.9v1.1h-3.9zM1323.6 477.4h3.9v1.1h-3.9zM1328 477.1h3.9v1.1h-3.9zM1332.3 472.9h3.9v1.1h-3.9zM1336.6 468.7h3.9v1.1h-3.9zM1341 472.7h3.9v1.1h-3.9zM1345.3 471.5h3.9v1.1h-3.9zM1349.6 477.2h3.9v1.1h-3.9zM1354 471.2h3.9v1.1h-3.9zM1358.3 472.5h3.9v1.1h-3.9zM1362.6 474.4h3.9v1.1h-3.9zM1367 476.6h3.9v1.1h-3.9zM1371.3 474.4h3.9v1.1h-3.9zM1375.6 470.5h3.9v1.1h-3.9zM1380 481.6h3.9v1.1h-3.9zM1384.3 476.1h3.9v1.1h-3.9zM1388.6 473.1h3.9v1.1h-3.9zM1393 472.2h3.9v1.1h-3.9zM1397.3 477.1h3.9v1.1h-3.9zM1401.6 473.2h3.9v1.1h-3.9zM1406 474.6h3.9v1.1h-3.9zM1410.3 477h3.9v1.1h-3.9zM1414.6 478.9h3.9v1.1h-3.9zM1419 476.7h3.9v1.1h-3.9zM1423.3 471h3.9v1.1h-3.9zM1427.6 469.8h3.9v1.1h-3.9zM1431.9 472.9h3.9v1.1h-3.9zM1436.3 475.8h3.9v1.1h-3.9zM1440.6 476.5h3.9v1.1h-3.9zM1444.9 474.2h3.9v1.1h-3.9zM1449.3 472h3.9v1.1h-3.9zM1453.6 475.7h3.9v1.1h-3.9zM1457.9 479.2h3.9v1.1h-3.9zM1462.3 477h3.9v1.1h-3.9zM1466.6 480.1h3.9v1.1h-3.9zM1470.9 471.6h3.9v1.1h-3.9zM1475.3 473.3h3.9v1.1h-3.9zM1479.6 477.6h3.9v1.1h-3.9zM1483.9 477.5h3.9v1.1h-3.9zM1488.3 475.6h3.9v1.1h-3.9zM1492.6 478.1h3.9v1.1h-3.9zM1496.9 469.8h3.9v1.1h-3.9zM1501.3 476.4h3.9v1.1h-3.9zM1505.6 481.5h3.9v1.1h-3.9zM1509.9 481.8h3.9v1.1h-3.9zM1514.3 476.9h3.9v1.1h-3.9zM1518.6 477.7h3.9v1.1h-3.9zM1522.9 479.2h3.9v1.1h-3.9zM1527.3 478.4h3.9v1.1h-3.9zM1531.6 471.7h3.9v1.1h-3.9zM1535.9 481.3h3.9v1.1h-3.9zM1540.3 484.9h3.9v1.1h-3.9zM1544.6 477.7h3.9v1.1h-3.9zM1548.9 482h3.9v1.1h-3.9zM1553.3 481.1h3.9v1.1h-3.9zM1557.6 481.5h3.9v1.1h-3.9zM1561.9 483.7h3.9v1.1h-3.9zM1566.3 481.6h3.9v1.1h-3.9zM1570.6 483.1h3.9v1.1h-3.9zM1574.9 484.3h3.9v1.1h-3.9zM1579.3 480.9h3.9v1.1h-3.9zM1583.6 481.4h3.9v1.1h-3.9zM1587.9 480.5h3.9v1.1h-3.9zM1592.2 481.6h3.9v1.1h-3.9zM1596.6 483.3h3.9v1.1h-3.9zM1600.9 485.4h3.9v1.1h-3.9zM1605.2 484.3h3.9v1.1h-3.9zM1609.6 481.6h3.9v1.1h-3.9zM1613.9 478.9h3.9v1.1h-3.9zM1618.2 482.1h3.9v1.1h-3.9zM1622.6 481.6h3.9v1.1h-3.9zM1626.9 482.7h3.9v1.5h-3.9zM1631.2 483h3.9v1.8h-3.9zM1635.6 484.6h3.9v2.2h-3.9zM1639.9 482.5h3.9v2.7h-3.9zM1644.2 480.6h3.9v3.5h-3.9zM1648.6 481.9h3.9v4.3h-3.9zM1652.9 480.8h3.9v5h-3.9zM1657.2 485.2h3.9v4h-3.9zM1661.6 485.3h3.9v4.4h-3.9zM1665.9 483h3.9v6.7h-3.9zM1670.2 483.4h3.9v5.8h-3.9zM1674.6 481.6h3.9v6.8h-3.9zM1678.9 468.8h3.9v6.8h-3.9zM1683.2 480.9h3.9v7.5h-3.9zM1687.6 485.2h3.9v4.8h-3.9zM1691.9 486h3.9v4.4h-3.9zM1696.2 484.3h3.9v4.9h-3.9zM1700.6 482.1h3.9v6.3h-3.9zM1704.9 483.6h3.9v5.8h-3.9zM1709.2 484.4h3.9v5.7h-3.9zM1713.6 483.6h3.9v5.9h-3.9zM1717.9 481.3h3.9v6.7h-3.9zM1722.2 484.8h3.9v4.4h-3.9zM1726.6 485.4h3.9v4.9h-3.9zM1730.9 485.5h3.9v4.3h-3.9zM1735.2 484.5h3.9v4.4h-3.9zM1739.6 482.6h3.9v6.3h-3.9zM1743.9 481.2h3.9v6.4h-3.9zM1748.2 481.7h3.9v6.9h-3.9zM1752.5 481.6h3.9v7.2h-3.9zM1756.9 485h3.9v4.7h-3.9zM1761.2 485.6h3.9v4.1h-3.9zM1765.5 482.1h3.9v6h-3.9zM1769.9 482.5h3.9v6.5h-3.9zM1774.2 483.4h3.9v5.1h-3.9zM1778.5 484.3h3.9v4.7h-3.9zM1782.9 483.3h3.9v4.9h-3.9zM1787.2 484.4h3.9v4.9h-3.9zM1791.5 486.1h3.9v4h-3.9zM1795.9 486.2h3.9v4.2h-3.9zM1800.2 481h3.9v6.8h-3.9zM1804.5 474.9h3.9v7.6h-3.9zM1808.9 481.7h3.9v6.5h-3.9zM1813.2 484.4h3.9v5h-3.9zM1817.5 483h3.9v6.1h-3.9zM1821.9 486.3h3.9v3.6h-3.9z" fill="#3f8a45"/>
<path d="M1024.7 458.6h3.9v16.1h-3.9zM1029 458.5h3.9v14.5h-3.9zM1033.4 448.3h3.9v19.5h-3.9zM1037.7 455.8h3.9v17.5h-3.9zM1042 442.2h3.9v16.3h-3.9zM1046.4 436.4h3.9v23.9h-3.9zM1050.7 451.1h3.9v14.3h-3.9zM1055 454.5h3.9v14.6h-3.9zM1059.4 457.8h3.9v16.9h-3.9zM1063.7 464.4h3.9v12.9h-3.9zM1068 451.4h3.9v14.6h-3.9zM1072.4 453.5h3.9v16.7h-3.9zM1076.7 441.1h3.9v17.4h-3.9zM1081 450.2h3.9v19.1h-3.9zM1085.4 453.4h3.9v13.3h-3.9zM1089.7 456.6h3.9v14.6h-3.9zM1094 455.1h3.9v17.1h-3.9zM1098.4 469.4h3.9v11.8h-3.9zM1102.7 445.1h3.9v21.7h-3.9zM1107 438.2h3.9v22.1h-3.9zM1111.3 448h3.9v15.9h-3.9zM1115.7 449.1h3.9v21.9h-3.9zM1120 449.7h3.9v19h-3.9zM1124.3 448.4h3.9v20.4h-3.9zM1128.7 455.9h3.9v16.9h-3.9zM1133 459.9h3.9v16.9h-3.9zM1137.3 455.4h3.9v17.7h-3.9zM1141.7 451.8h3.9v19.8h-3.9zM1146 451.7h3.9v16.9h-3.9zM1150.3 452.6h3.9v19.4h-3.9zM1154.7 449.6h3.9v17.1h-3.9zM1159 465.5h3.9v13.5h-3.9zM1163.3 459.9h3.9v16.3h-3.9zM1167.7 458h3.9v18.3h-3.9zM1172 458.5h3.9v17.1h-3.9zM1176.3 458.3h3.9v13.6h-3.9zM1180.7 455.8h3.9v14.7h-3.9zM1185 450.8h3.9v19.1h-3.9zM1189.3 460.4h3.9v13.2h-3.9zM1193.7 461.6h3.9v13.3h-3.9zM1198 459.3h3.9v14.9h-3.9zM1202.3 452.8h3.9v15.7h-3.9zM1206.7 450.2h3.9v18.5h-3.9zM1211 455.2h3.9v15h-3.9zM1215.3 445.1h3.9v24.1h-3.9zM1219.7 456h3.9v15.1h-3.9zM1224 458.4h3.9v18.8h-3.9zM1228.3 456.5h3.9v15.8h-3.9zM1232.7 456.3h3.9v19h-3.9zM1237 456.2h3.9v16.1h-3.9zM1241.3 458.2h3.9v19h-3.9zM1245.7 454.3h3.9v18h-3.9zM1250 457.5h3.9v17.1h-3.9zM1254.3 455.8h3.9v20.2h-3.9zM1258.7 458.3h3.9v17.8h-3.9zM1263 455.9h3.9v20.2h-3.9zM1267.3 454.4h3.9v18.8h-3.9zM1271.6 457h3.9v19.9h-3.9zM1276 467.1h3.9v11.7h-3.9zM1280.3 454.9h3.9v16.8h-3.9zM1284.6 465.3h3.9v14.4h-3.9zM1289 461.6h3.9v17.8h-3.9zM1293.3 461.2h3.9v15.1h-3.9zM1297.6 465.7h3.9v12.5h-3.9zM1302 455.2h3.9v18.3h-3.9zM1306.3 470.4h3.9v10.2h-3.9zM1310.6 473.3h3.9v9h-3.9zM1315 470.8h3.9v12.2h-3.9zM1319.3 467h3.9v14.5h-3.9zM1323.6 458.1h3.9v19.4h-3.9zM1328 459.1h3.9v18.1h-3.9zM1332.3 456.1h3.9v16.9h-3.9zM1336.6 442.2h3.9v26.5h-3.9zM1341 445.9h3.9v26.9h-3.9zM1345.3 452.2h3.9v19.4h-3.9zM1349.6 460h3.9v17.3h-3.9zM1354 452.9h3.9v18.4h-3.9zM1358.3 452.9h3.9v19.6h-3.9zM1362.6 457.9h3.9v16.6h-3.9zM1367 460h3.9v16.7h-3.9zM1371.3 455.1h3.9v19.4h-3.9zM1375.6 445.1h3.9v25.5h-3.9zM1380 465.1h3.9v16.6h-3.9zM1384.3 457.9h3.9v18.3h-3.9zM1388.6 446.9h3.9v26.4h-3.9zM1393 453h3.9v19.3h-3.9zM1397.3 456.2h3.9v21h-3.9zM1401.6 453.2h3.9v20.1h-3.9zM1406 457.2h3.9v17.5h-3.9zM1410.3 458.3h3.9v18.8h-3.9zM1414.6 458.9h3.9v20.1h-3.9zM1419 453.1h3.9v23.6h-3.9zM1423.3 449.7h3.9v21.4h-3.9zM1427.6 445.1h3.9v24.8h-3.9zM1431.9 449.8h3.9v23.2h-3.9zM1436.3 455h3.9v20.9h-3.9zM1440.6 451.8h3.9v24.8h-3.9zM1444.9 450.3h3.9v24h-3.9zM1449.3 445.1h3.9v27h-3.9zM1453.6 457.7h3.9v18h-3.9zM1457.9 459h3.9v20.3h-3.9zM1462.3 457.7h3.9v19.5h-3.9zM1466.6 466.3h3.9v13.9h-3.9zM1470.9 450.6h3.9v21.2h-3.9zM1475.3 450.2h3.9v23.2h-3.9zM1479.6 456.4h3.9v21.3h-3.9zM1483.9 453.3h3.9v24.4h-3.9zM1488.3 455.3h3.9v20.4h-3.9zM1492.6 457.7h3.9v20.5h-3.9zM1496.9 446.3h3.9v23.6h-3.9zM1501.3 455.6h3.9v20.9h-3.9zM1505.6 468.1h3.9v13.4h-3.9zM1509.9 465.6h3.9v16.3h-3.9zM1514.3 459.7h3.9v17.3h-3.9zM1518.6 460.6h3.9v17.2h-3.9zM1522.9 462.1h3.9v17.2h-3.9zM1527.3 454.8h3.9v23.7h-3.9zM1531.6 443.4h3.9v28.4h-3.9zM1535.9 464.5h3.9v16.9h-3.9zM1540.3 474.6h3.9v10.4h-3.9zM1544.6 455.6h3.9v22.2h-3.9zM1548.9 467.2h3.9v14.9h-3.9zM1553.3 468.1h3.9v13.1h-3.9zM1557.6 467.2h3.9v14.4h-3.9zM1561.9 470.1h3.9v13.6h-3.9zM1566.3 464.9h3.9v16.9h-3.9zM1570.6 467.1h3.9v16.1h-3.9zM1574.9 471.6h3.9v12.8h-3.9zM1579.3 464.5h3.9v16.5h-3.9zM1583.6 469h3.9v12.6h-3.9zM1587.9 460.2h3.9v20.4h-3.9zM1592.2 467.2h3.9v14.5h-3.9zM1596.6 468.2h3.9v15.2h-3.9zM1600.9 474h3.9v11.5h-3.9zM1605.2 471.4h3.9v13.1h-3.9zM1609.6 467.9h3.9v13.8h-3.9zM1613.9 460.8h3.9v18.2h-3.9zM1618.2 467.4h3.9v14.8h-3.9zM1622.6 459.1h3.9v22.6h-3.9zM1626.9 467.4h3.9v15.4h-3.9zM1631.2 470.8h3.9v12.3h-3.9zM1635.6 473h3.9v11.7h-3.9zM1639.9 468.9h3.9v13.6h-3.9zM1644.2 463.9h3.9v16.8h-3.9zM1648.6 461.4h3.9v20.7h-3.9zM1652.9 465.5h3.9v15.4h-3.9zM1657.2 475.4h3.9v9.8h-3.9zM1661.6 475.4h3.9v10h-3.9zM1665.9 468.3h3.9v14.8h-3.9zM1670.2 467.5h3.9v16.1h-3.9zM1674.6 469.5h3.9v12.3h-3.9zM1678.9 453.3h3.9v15.6h-3.9zM1683.2 460h3.9v20.9h-3.9zM1687.6 472h3.9v13.3h-3.9zM1691.9 478.5h3.9v7.6h-3.9zM1696.2 474.9h3.9v9.5h-3.9zM1700.6 465.3h3.9v16.8h-3.9zM1704.9 473.2h3.9v10.5h-3.9zM1709.2 473.9h3.9v10.5h-3.9zM1713.6 471.5h3.9v12.2h-3.9zM1717.9 469.1h3.9v12.3h-3.9zM1722.2 479.6h3.9v5.2h-3.9zM1726.6 474.5h3.9v11h-3.9zM1730.9 476.1h3.9v9.5h-3.9zM1735.2 475.9h3.9v8.7h-3.9zM1739.6 470.7h3.9v12h-3.9zM1743.9 460.7h3.9v20.6h-3.9zM1748.2 467.9h3.9v14h-3.9zM1752.5 467.1h3.9v14.5h-3.9zM1756.9 470.8h3.9v14.3h-3.9zM1761.2 475.7h3.9v10h-3.9zM1765.5 468.8h3.9v13.4h-3.9zM1769.9 465.4h3.9v17.2h-3.9zM1774.2 471.7h3.9v11.8h-3.9zM1778.5 472.4h3.9v12h-3.9zM1782.9 471.6h3.9v11.8h-3.9zM1787.2 473.1h3.9v11.5h-3.9zM1791.5 479.5h3.9v6.6h-3.9zM1795.9 478.2h3.9v8.1h-3.9zM1800.2 465.6h3.9v15.4h-3.9zM1804.5 457.2h3.9v17.8h-3.9zM1808.9 463.9h3.9v17.9h-3.9zM1813.2 471.4h3.9v13.1h-3.9zM1817.5 470.2h3.9v12.9h-3.9zM1821.9 480.6h3.9v5.8h-3.9z" fill="#211c5a"/>
<path d="M1024.7 457.1h3.9v1.6h-3.9zM1029 457.1h3.9v1.6h-3.9zM1033.4 446.9h3.9v1.6h-3.9zM1037.7 454.3h3.9v1.6h-3.9zM1042 440.8h3.9v1.6h-3.9zM1046.4 435h3.9v1.6h-3.9zM1050.7 449.6h3.9v1.6h-3.9zM1055 453h3.9v1.6h-3.9zM1059.4 456.3h3.9v1.6h-3.9zM1063.7 462.9h3.9v1.6h-3.9zM1068 449.9h3.9v1.6h-3.9zM1072.4 452.1h3.9v1.6h-3.9zM1076.7 439.6h3.9v1.6h-3.9zM1081 448.7h3.9v1.6h-3.9zM1085.4 452h3.9v1.6h-3.9zM1089.7 455.2h3.9v1.6h-3.9zM1094 453.6h3.9v1.6h-3.9zM1098.4 467.9h3.9v1.6h-3.9zM1102.7 443.7h3.9v1.6h-3.9zM1107 436.7h3.9v1.6h-3.9zM1111.3 446.6h3.9v1.6h-3.9zM1115.7 447.6h3.9v1.6h-3.9zM1120 448.2h3.9v1.6h-3.9zM1124.3 447h3.9v1.6h-3.9zM1128.7 454.4h3.9v1.6h-3.9zM1133 458.5h3.9v1.6h-3.9zM1137.3 454h3.9v1.6h-3.9zM1141.7 450.4h3.9v1.6h-3.9zM1146 450.2h3.9v1.6h-3.9zM1150.3 451.2h3.9v1.6h-3.9zM1154.7 448.2h3.9v1.6h-3.9zM1159 464.1h3.9v1.6h-3.9zM1163.3 458.5h3.9v1.6h-3.9zM1167.7 456.5h3.9v1.6h-3.9zM1172 457h3.9v1.6h-3.9zM1176.3 456.9h3.9v1.6h-3.9zM1180.7 454.3h3.9v1.6h-3.9zM1185 449.3h3.9v1.6h-3.9zM1189.3 459h3.9v1.6h-3.9zM1193.7 460.2h3.9v1.6h-3.9zM1198 457.9h3.9v1.6h-3.9zM1202.3 451.4h3.9v1.6h-3.9zM1206.7 448.7h3.9v1.6h-3.9zM1211 453.7h3.9v1.6h-3.9zM1215.3 443.7h3.9v1.6h-3.9zM1219.7 454.5h3.9v1.6h-3.9zM1224 457h3.9v1.6h-3.9zM1228.3 455h3.9v1.6h-3.9zM1232.7 454.9h3.9v1.6h-3.9zM1237 454.8h3.9v1.6h-3.9zM1241.3 456.8h3.9v1.6h-3.9zM1245.7 452.8h3.9v1.6h-3.9zM1250 456h3.9v1.6h-3.9zM1254.3 454.3h3.9v1.6h-3.9zM1258.7 456.9h3.9v1.6h-3.9zM1263 454.5h3.9v1.6h-3.9zM1267.3 453h3.9v1.6h-3.9zM1271.6 455.5h3.9v1.6h-3.9zM1276 465.6h3.9v1.6h-3.9zM1280.3 453.5h3.9v1.6h-3.9zM1284.6 463.9h3.9v1.6h-3.9zM1289 460.2h3.9v1.6h-3.9zM1293.3 459.7h3.9v1.6h-3.9zM1297.6 464.3h3.9v1.6h-3.9zM1302 453.8h3.9v1.6h-3.9zM1306.3 468.9h3.9v1.6h-3.9zM1310.6 471.8h3.9v1.6h-3.9zM1315 469.4h3.9v1.6h-3.9zM1319.3 465.6h3.9v1.6h-3.9zM1323.6 456.6h3.9v1.6h-3.9zM1328 457.6h3.9v1.6h-3.9zM1332.3 454.7h3.9v1.6h-3.9zM1336.6 440.8h3.9v1.6h-3.9zM1341 444.4h3.9v1.6h-3.9zM1345.3 450.7h3.9v1.6h-3.9zM1349.6 458.6h3.9v1.6h-3.9zM1354 451.4h3.9v1.6h-3.9zM1358.3 451.5h3.9v1.6h-3.9zM1362.6 456.5h3.9v1.6h-3.9zM1367 458.5h3.9v1.6h-3.9zM1371.3 453.7h3.9v1.6h-3.9zM1375.6 443.7h3.9v1.6h-3.9zM1380 463.6h3.9v1.6h-3.9zM1384.3 456.5h3.9v1.6h-3.9zM1388.6 445.4h3.9v1.6h-3.9zM1393 451.6h3.9v1.6h-3.9zM1397.3 454.8h3.9v1.6h-3.9zM1401.6 451.8h3.9v1.6h-3.9zM1406 455.8h3.9v1.6h-3.9zM1410.3 456.8h3.9v1.6h-3.9zM1414.6 457.4h3.9v1.6h-3.9zM1419 451.7h3.9v1.6h-3.9zM1423.3 448.2h3.9v1.6h-3.9zM1427.6 443.7h3.9v1.6h-3.9zM1431.9 448.3h3.9v1.6h-3.9zM1436.3 453.5h3.9v1.6h-3.9zM1440.6 450.3h3.9v1.6h-3.9zM1444.9 448.8h3.9v1.6h-3.9zM1449.3 443.7h3.9v1.6h-3.9zM1453.6 456.3h3.9v1.6h-3.9zM1457.9 457.5h3.9v1.6h-3.9zM1462.3 456.2h3.9v1.6h-3.9zM1466.6 464.9h3.9v1.6h-3.9zM1470.9 449.1h3.9v1.6h-3.9zM1475.3 448.7h3.9v1.6h-3.9zM1479.6 455h3.9v1.6h-3.9zM1483.9 451.8h3.9v1.6h-3.9zM1488.3 453.8h3.9v1.6h-3.9zM1492.6 456.2h3.9v1.6h-3.9zM1496.9 444.9h3.9v1.6h-3.9zM1501.3 454.2h3.9v1.6h-3.9zM1505.6 466.7h3.9v1.6h-3.9zM1509.9 464.1h3.9v1.6h-3.9zM1514.3 458.3h3.9v1.6h-3.9zM1518.6 459.1h3.9v1.6h-3.9zM1522.9 460.7h3.9v1.6h-3.9zM1527.3 453.4h3.9v1.6h-3.9zM1531.6 442h3.9v1.6h-3.9zM1535.9 463h3.9v1.6h-3.9zM1540.3 473.1h3.9v1.6h-3.9zM1544.6 454.2h3.9v1.6h-3.9zM1548.9 465.8h3.9v1.6h-3.9zM1553.3 466.7h3.9v1.6h-3.9zM1557.6 465.8h3.9v1.6h-3.9zM1561.9 468.7h3.9v1.6h-3.9zM1566.3 463.4h3.9v1.6h-3.9zM1570.6 465.6h3.9v1.6h-3.9zM1574.9 470.1h3.9v1.6h-3.9zM1579.3 463h3.9v1.6h-3.9zM1583.6 467.5h3.9v1.6h-3.9zM1587.9 458.8h3.9v1.6h-3.9zM1592.2 465.7h3.9v1.6h-3.9zM1596.6 466.7h3.9v1.6h-3.9zM1600.9 472.6h3.9v1.6h-3.9zM1605.2 469.9h3.9v1.6h-3.9zM1609.6 466.5h3.9v1.6h-3.9zM1613.9 459.4h3.9v1.6h-3.9zM1618.2 465.9h3.9v1.6h-3.9zM1622.6 457.6h3.9v1.6h-3.9zM1626.9 466h3.9v1.6h-3.9zM1631.2 469.3h3.9v1.6h-3.9zM1635.6 471.6h3.9v1.6h-3.9zM1639.9 467.5h3.9v1.6h-3.9zM1644.2 462.5h3.9v1.6h-3.9zM1722.2 471.5h3.9v8.3h-3.9z" fill="#55a5a0"/>
<path d="M1648.6 459.9h3.9v1.6h-3.9zM1652.9 464h3.9v1.6h-3.9zM1657.2 474h3.9v1.6h-3.9zM1661.6 473.9h3.9v1.6h-3.9zM1665.9 466.9h3.9v1.6h-3.9zM1670.2 466h3.9v1.6h-3.9zM1674.6 468h3.9v1.6h-3.9zM1678.9 451.2h3.9v2.2h-3.9zM1683.2 458.6h3.9v1.6h-3.9zM1687.6 470.6h3.9v1.6h-3.9zM1691.9 477h3.9v1.6h-3.9zM1696.2 473.5h3.9v1.6h-3.9zM1700.6 463.9h3.9v1.6h-3.9zM1704.9 471.7h3.9v1.6h-3.9zM1709.2 472.5h3.9v1.6h-3.9zM1713.6 470h3.9v1.6h-3.9zM1717.9 467.7h3.9v1.6h-3.9zM1726.6 473h3.9v1.6h-3.9zM1730.9 474.7h3.9v1.6h-3.9zM1735.2 474.4h3.9v1.6h-3.9zM1739.6 469.2h3.9v1.6h-3.9zM1743.9 459.3h3.9v1.6h-3.9zM1748.2 466.4h3.9v1.6h-3.9zM1752.5 465.7h3.9v1.6h-3.9zM1756.9 469.3h3.9v1.6h-3.9zM1761.2 474.3h3.9v1.6h-3.9zM1765.5 467.4h3.9v1.6h-3.9zM1769.9 463.9h3.9v1.6h-3.9zM1774.2 470.2h3.9v1.6h-3.9zM1778.5 470.9h3.9v1.6h-3.9zM1782.9 470.2h3.9v1.6h-3.9zM1787.2 471.6h3.9v1.6h-3.9zM1791.5 478.1h3.9v1.5h-3.9zM1795.9 476.7h3.9v1.6h-3.9zM1800.2 464.2h3.9v1.6h-3.9zM1804.5 455.3h3.9v2h-3.9zM1808.9 462.4h3.9v1.6h-3.9zM1813.2 469.9h3.9v1.6h-3.9zM1817.5 468.8h3.9v1.6h-3.9zM1821.9 479.1h3.9v1.5h-3.9z" fill="#9080b8"/>
<path d="M1804.5 490h3.9v1.2h-3.9z" fill="#b0a830"/>
<rect x="1738" y="434.5" width="88.5" height="59" fill="#000" fill-opacity="0.16" stroke="#7e7e7e" stroke-width="1"/>
<rect x="1024" y="434.5" width="802.5" height="59" fill="none" stroke="#878787" stroke-width="1"/>
<path d="M1949.7 478.7h3.9v14.4h-3.9zM1954 477.3h3.9v15.8h-3.9zM1958.4 472.8h3.9v20.3h-3.9zM1962.7 477.4h3.9v15.7h-3.9zM1967 464.7h3.9v28.4h-3.9zM1971.4 468.8h3.9v24.3h-3.9zM1975.7 470.7h3.9v22.4h-3.9zM1980 473.9h3.9v19.2h-3.9zM1984.4 478.7h3.9v14.4h-3.9zM1988.7 481h3.9v12.1h-3.9zM1993 471.2h3.9v21.9h-3.9zM1997.4 474.9h3.9v18.2h-3.9zM2001.7 464.7h3.9v28.4h-3.9zM2006 474.1h3.9v19h-3.9zM2010.4 471.9h3.9v21.2h-3.9zM2014.7 475.8h3.9v17.3h-3.9zM2019 476.6h3.9v16.5h-3.9zM2023.4 484.3h3.9v8.8h-3.9zM2027.7 471.9h3.9v21.2h-3.9zM2032 467.8h3.9v25.3h-3.9zM2036.3 469.4h3.9v23.7h-3.9zM2040.7 475.5h3.9v17.6h-3.9zM2045 473.5h3.9v19.6h-3.9zM2049.3 473.6h3.9v19.5h-3.9zM2053.7 477.1h3.9v16h-3.9zM2058 480.6h3.9v12.5h-3.9zM2062.3 477.4h3.9v15.7h-3.9zM2066.7 476.1h3.9v17h-3.9zM2071 473.4h3.9v19.7h-3.9zM2075.3 476.4h3.9v16.7h-3.9zM2079.7 471.8h3.9v21.3h-3.9zM2084 482.5h3.9v10.6h-3.9zM2088.3 480h3.9v13.1h-3.9zM2092.7 480.1h3.9v13h-3.9zM2097 479.5h3.9v13.6h-3.9zM2101.3 476.4h3.9v16.7h-3.9zM2105.7 475.1h3.9v18h-3.9zM2110 474.5h3.9v18.6h-3.9zM2114.3 477.8h3.9v15.3h-3.9zM2118.7 478.9h3.9v14.2h-3.9zM2123 478.4h3.9v14.7h-3.9zM2127.3 473.4h3.9v19.7h-3.9zM2131.7 473.5h3.9v19.6h-3.9zM2136 474.9h3.9v18.2h-3.9zM2140.3 474h3.9v19.1h-3.9zM2144.7 475.6h3.9v17.5h-3.9zM2149 480.9h3.9v12.2h-3.9zM2153.3 476.7h3.9v16.4h-3.9zM2157.7 479.3h3.9v13.8h-3.9zM2162 476.7h3.9v16.4h-3.9zM2166.3 480.9h3.9v12.2h-3.9zM2170.7 476.6h3.9v16.5h-3.9zM2175 478.6h3.9v14.5h-3.9zM2179.3 479.8h3.9v13.3h-3.9zM2183.7 480h3.9v13.1h-3.9zM2188 479.9h3.9v13.2h-3.9zM2192.3 477.4h3.9v15.7h-3.9zM2196.6 480.6h3.9v12.5h-3.9zM2201 482.3h3.9v10.8h-3.9zM2205.3 476.2h3.9v16.9h-3.9zM2209.6 483.1h3.9v10h-3.9zM2214 482.8h3.9v10.3h-3.9zM2218.3 480.1h3.9v13h-3.9zM2222.6 481.8h3.9v11.3h-3.9zM2227 477.7h3.9v15.4h-3.9zM2231.3 483.8h3.9v9.3h-3.9zM2235.6 485.2h3.9v7.9h-3.9zM2240 485.9h3.9v7.2h-3.9zM2244.3 484.6h3.9v8.5h-3.9zM2248.6 481.1h3.9v12h-3.9zM2253 480.9h3.9v12.2h-3.9zM2257.3 477.2h3.9v15.9h-3.9zM2261.6 473.5h3.9v19.6h-3.9zM2266 477h3.9v16.1h-3.9zM2270.3 476h3.9v17.1h-3.9zM2274.6 481h3.9v12.1h-3.9zM2279 475.8h3.9v17.3h-3.9zM2283.3 476.9h3.9v16.2h-3.9zM2287.6 478.6h3.9v14.5h-3.9zM2292 480.4h3.9v12.7h-3.9zM2296.3 478.6h3.9v14.5h-3.9zM2300.6 475.1h3.9v18h-3.9zM2305 484.8h3.9v8.3h-3.9zM2309.3 480h3.9v13.1h-3.9zM2313.6 477.4h3.9v15.7h-3.9zM2318 476.6h3.9v16.5h-3.9zM2322.3 480.9h3.9v12.2h-3.9zM2326.6 477.5h3.9v15.6h-3.9zM2331 478.8h3.9v14.3h-3.9zM2335.3 480.8h3.9v12.3h-3.9zM2339.6 482.4h3.9v10.7h-3.9zM2344 480.5h3.9v12.6h-3.9zM2348.3 475.6h3.9v17.5h-3.9zM2352.6 474.6h3.9v18.5h-3.9zM2356.9 477.2h3.9v15.9h-3.9zM2361.3 479.7h3.9v13.4h-3.9zM2365.6 480.3h3.9v12.8h-3.9zM2369.9 478.3h3.9v14.8h-3.9zM2374.3 476.4h3.9v16.7h-3.9zM2378.6 479.6h3.9v13.5h-3.9zM2382.9 482.7h3.9v10.4h-3.9zM2387.3 480.8h3.9v12.3h-3.9zM2391.6 483.5h3.9v9.6h-3.9zM2395.9 476.1h3.9v17h-3.9zM2400.3 477.6h3.9v15.5h-3.9zM2404.6 481.3h3.9v11.8h-3.9zM2408.9 481.2h3.9v11.9h-3.9zM2413.3 479.5h3.9v13.6h-3.9zM2417.6 481.7h3.9v11.4h-3.9zM2421.9 474.5h3.9v18.6h-3.9zM2426.3 480.3h3.9v12.8h-3.9zM2430.6 484.6h3.9v8.5h-3.9zM2434.9 484.9h3.9v8.2h-3.9zM2439.3 480.7h3.9v12.4h-3.9zM2443.6 481.4h3.9v11.7h-3.9zM2447.9 482.6h3.9v10.5h-3.9zM2452.3 482h3.9v11.1h-3.9zM2456.6 476.2h3.9v16.9h-3.9zM2460.9 484.5h3.9v8.6h-3.9zM2465.3 487.5h3.9v5.6h-3.9zM2469.6 481.4h3.9v11.7h-3.9zM2473.9 485.1h3.9v8h-3.9zM2478.3 484.3h3.9v8.8h-3.9zM2482.6 484.7h3.9v8.4h-3.9zM2486.9 486.5h3.9v6.6h-3.9zM2491.3 484.8h3.9v8.3h-3.9zM2495.6 486h3.9v7.1h-3.9zM2499.9 487.1h3.9v6h-3.9zM2504.3 484.1h3.9v9h-3.9zM2508.6 484.6h3.9v8.5h-3.9zM2512.9 483.8h3.9v9.3h-3.9zM2517.2 484.7h3.9v8.4h-3.9zM2521.6 486.2h3.9v6.9h-3.9zM2525.9 488h3.9v5.1h-3.9zM2530.2 487.1h3.9v6h-3.9zM2534.6 484.8h3.9v8.3h-3.9zM2538.9 482.5h3.9v10.6h-3.9zM2543.2 485.2h3.9v7.9h-3.9zM2547.6 484.7h3.9v8.4h-3.9zM2551.9 486.3h3.9v6.8h-3.9zM2556.2 486.9h3.9v6.2h-3.9zM2560.6 488.6h3.9v4.5h-3.9zM2564.9 487.4h3.9v5.7h-3.9zM2569.2 486.7h3.9v6.4h-3.9zM2573.6 488.5h3.9v4.6h-3.9zM2577.9 489.7h3.9v3.4h-3.9zM2582.2 491.8h3.9v1.3h-3.9zM2586.6 492.1h3.9v1h-3.9zM2590.9 491.9h3.9v1.2h-3.9zM2595.2 491.7h3.9v1.4h-3.9zM2599.6 491.6h3.9v1.5h-3.9zM2603.9 490.3h3.9v2.8h-3.9zM2608.2 491.1h3.9v2h-3.9zM2612.6 492h3.9v1.1h-3.9zM2616.9 492.3h3.9v0.8h-3.9zM2621.2 492.1h3.9v1h-3.9zM2625.6 491.4h3.9v1.7h-3.9zM2629.9 492h3.9v1.1h-3.9zM2634.2 492h3.9v1.1h-3.9zM2638.6 491.7h3.9v1.4h-3.9zM2642.9 491.9h3.9v1.2h-3.9zM2647.2 491.8h3.9v1.3h-3.9zM2651.6 492.1h3.9v1h-3.9zM2655.9 492.2h3.9v0.9h-3.9zM2660.2 492h3.9v1.1h-3.9zM2664.6 492h3.9v1.1h-3.9zM2668.9 491.5h3.9v1.6h-3.9zM2673.2 491.5h3.9v1.6h-3.9zM2677.5 491.5h3.9v1.6h-3.9zM2681.9 491.7h3.9v1.4h-3.9zM2686.2 492.1h3.9v1h-3.9zM2690.5 491.7h3.9v1.4h-3.9zM2694.9 491.5h3.9v1.6h-3.9zM2699.2 492h3.9v1.1h-3.9zM2703.5 492h3.9v1.1h-3.9zM2707.9 492h3.9v1.1h-3.9zM2712.2 492h3.9v1.1h-3.9zM2716.5 492.3h3.9v0.8h-3.9zM2720.9 492.2h3.9v0.9h-3.9zM2725.2 491.5h3.9v1.6h-3.9zM2729.5 491h3.9v2.1h-3.9zM2733.9 491.5h3.9v1.6h-3.9zM2738.2 492h3.9v1.1h-3.9zM2742.5 491.9h3.9v1.2h-3.9zM2746.9 492.3h3.9v0.8h-3.9z" fill="#4380b0"/>
<path d="M1949.7 478h3.9v0.8h-3.9zM1954 476.6h3.9v0.8h-3.9zM1958.4 472.1h3.9v0.8h-3.9zM1962.7 476.7h3.9v0.8h-3.9zM1967 464h3.9v0.8h-3.9zM1971.4 468.1h3.9v0.8h-3.9zM1975.7 470h3.9v0.8h-3.9zM1980 473.2h3.9v0.8h-3.9zM1984.4 478h3.9v0.8h-3.9zM1988.7 480.3h3.9v0.8h-3.9zM1993 470.5h3.9v0.8h-3.9zM1997.4 474.2h3.9v0.8h-3.9zM2001.7 464h3.9v0.8h-3.9zM2006 473.4h3.9v0.8h-3.9zM2010.4 471.2h3.9v0.8h-3.9zM2014.7 475.1h3.9v0.8h-3.9zM2019 475.9h3.9v0.8h-3.9zM2023.4 483.6h3.9v0.8h-3.9zM2027.7 471.2h3.9v0.8h-3.9zM2032 467.1h3.9v0.8h-3.9zM2036.3 468.7h3.9v0.8h-3.9zM2040.7 474.8h3.9v0.8h-3.9zM2045 472.8h3.9v0.8h-3.9zM2049.3 472.9h3.9v0.8h-3.9zM2053.7 476.4h3.9v0.8h-3.9zM2058 479.9h3.9v0.8h-3.9zM2062.3 476.7h3.9v0.8h-3.9zM2066.7 475.4h3.9v0.8h-3.9zM2071 472.7h3.9v0.8h-3.9zM2075.3 475.7h3.9v0.8h-3.9zM2079.7 471.1h3.9v0.8h-3.9zM2084 481.8h3.9v0.8h-3.9zM2088.3 479.3h3.9v0.8h-3.9zM2092.7 479.4h3.9v0.8h-3.9zM2097 478.8h3.9v0.8h-3.9zM2101.3 475.7h3.9v0.8h-3.9zM2105.7 474.4h3.9v0.8h-3.9zM2110 473.8h3.9v0.8h-3.9zM2114.3 477.1h3.9v0.8h-3.9zM2118.7 478.2h3.9v0.8h-3.9zM2123 477.7h3.9v0.8h-3.9zM2127.3 472.7h3.9v0.8h-3.9zM2131.7 472.8h3.9v0.8h-3.9zM2136 474.2h3.9v0.8h-3.9zM2140.3 473.3h3.9v0.8h-3.9zM2144.7 474.9h3.9v0.8h-3.9zM2149 480.2h3.9v0.8h-3.9zM2153.3 476h3.9v0.8h-3.9zM2157.7 478.6h3.9v0.8h-3.9zM2162 476h3.9v0.8h-3.9zM2166.3 480.2h3.9v0.8h-3.9zM2170.7 475.9h3.9v0.8h-3.9zM2175 477.9h3.9v0.8h-3.9zM2179.3 479.1h3.9v0.8h-3.9zM2183.7 479.3h3.9v0.8h-3.9zM2188 479.2h3.9v0.8h-3.9zM2192.3 476.7h3.9v0.8h-3.9zM2196.6 479.9h3.9v0.8h-3.9zM2201 481.6h3.9v0.8h-3.9zM2205.3 475.5h3.9v0.8h-3.9zM2209.6 482.4h3.9v0.8h-3.9zM2214 482.1h3.9v0.8h-3.9zM2218.3 479.4h3.9v0.8h-3.9zM2222.6 481.1h3.9v0.8h-3.9zM2227 477h3.9v0.8h-3.9zM2231.3 483.1h3.9v0.8h-3.9zM2235.6 484.5h3.9v0.8h-3.9zM2240 485.2h3.9v0.8h-3.9zM2244.3 483.9h3.9v0.8h-3.9zM2248.6 480.4h3.9v0.8h-3.9zM2253 480.2h3.9v0.8h-3.9zM2257.3 476.5h3.9v0.8h-3.9zM2261.6 472.8h3.9v0.8h-3.9zM2266 476.4h3.9v0.8h-3.9zM2270.3 475.3h3.9v0.8h-3.9zM2274.6 480.3h3.9v0.8h-3.9zM2279 475.1h3.9v0.8h-3.9zM2283.3 476.2h3.9v0.8h-3.9zM2287.6 477.9h3.9v0.8h-3.9zM2292 479.7h3.9v0.8h-3.9zM2296.3 477.9h3.9v0.8h-3.9zM2300.6 474.4h3.9v0.8h-3.9zM2305 484.1h3.9v0.8h-3.9zM2309.3 479.3h3.9v0.8h-3.9zM2313.6 476.7h3.9v0.8h-3.9zM2318 475.9h3.9v0.8h-3.9zM2322.3 480.2h3.9v0.8h-3.9zM2326.6 476.8h3.9v0.8h-3.9zM2331 478.1h3.9v0.8h-3.9zM2335.3 480.1h3.9v0.8h-3.9zM2339.6 481.7h3.9v0.8h-3.9zM2344 479.8h3.9v0.8h-3.9zM2348.3 474.9h3.9v0.8h-3.9zM2352.6 473.9h3.9v0.8h-3.9zM2356.9 476.5h3.9v0.8h-3.9zM2361.3 479h3.9v0.8h-3.9zM2365.6 479.6h3.9v0.8h-3.9zM2369.9 477.6h3.9v0.8h-3.9zM2374.3 475.8h3.9v0.8h-3.9zM2378.6 478.9h3.9v0.8h-3.9zM2382.9 482h3.9v0.8h-3.9zM2387.3 480.1h3.9v0.8h-3.9zM2391.6 482.8h3.9v0.8h-3.9zM2395.9 475.4h3.9v0.8h-3.9zM2400.3 476.9h3.9v0.8h-3.9zM2404.6 480.6h3.9v0.8h-3.9zM2408.9 480.5h3.9v0.8h-3.9zM2413.3 478.8h3.9v0.8h-3.9zM2417.6 481h3.9v0.8h-3.9zM2421.9 473.8h3.9v0.8h-3.9zM2426.3 479.6h3.9v0.8h-3.9zM2430.6 483.9h3.9v0.8h-3.9zM2434.9 484.2h3.9v0.8h-3.9zM2439.3 480h3.9v0.8h-3.9zM2443.6 480.7h3.9v0.8h-3.9zM2447.9 482h3.9v0.8h-3.9zM2452.3 481.3h3.9v0.8h-3.9zM2456.6 475.5h3.9v0.8h-3.9zM2460.9 483.8h3.9v0.8h-3.9zM2465.3 486.9h3.9v0.8h-3.9zM2469.6 480.7h3.9v0.8h-3.9zM2473.9 484.4h3.9v0.8h-3.9zM2478.3 483.6h3.9v0.8h-3.9zM2482.6 484h3.9v0.8h-3.9zM2486.9 485.8h3.9v0.8h-3.9zM2491.3 484.1h3.9v0.8h-3.9zM2495.6 485.3h3.9v0.8h-3.9zM2499.9 486.4h3.9v0.8h-3.9zM2504.3 483.4h3.9v0.8h-3.9zM2508.6 483.9h3.9v0.8h-3.9zM2512.9 483.1h3.9v0.8h-3.9zM2517.2 484h3.9v0.8h-3.9zM2521.6 485.5h3.9v0.8h-3.9zM2525.9 487.3h3.9v0.8h-3.9zM2530.2 486.4h3.9v0.8h-3.9zM2534.6 484.1h3.9v0.8h-3.9zM2538.9 481.8h3.9v0.8h-3.9zM2543.2 484.5h3.9v0.8h-3.9zM2547.6 484h3.9v0.8h-3.9zM2551.9 485.3h3.9v1h-3.9zM2556.2 485.7h3.9v1.3h-3.9zM2560.6 487.5h3.9v1.2h-3.9zM2564.9 486h3.9v1.6h-3.9zM2569.2 485h3.9v1.8h-3.9zM2573.6 486.8h3.9v1.9h-3.9zM2577.9 486h3.9v3.7h-3.9zM2582.2 489.1h3.9v2.8h-3.9zM2586.6 489.6h3.9v2.6h-3.9zM2590.9 489.7h3.9v2.3h-3.9zM2595.2 489.2h3.9v2.6h-3.9zM2599.6 488.4h3.9v3.3h-3.9zM2603.9 474.1h3.9v16.3h-3.9zM2608.2 488.5h3.9v2.7h-3.9zM2612.6 490h3.9v2.1h-3.9zM2616.9 490.2h3.9v2.1h-3.9zM2621.2 489.1h3.9v3.1h-3.9zM2625.6 488.4h3.9v3.1h-3.9zM2629.9 489.4h3.9v2.7h-3.9zM2634.2 490h3.9v2.1h-3.9zM2638.6 489.5h3.9v2.4h-3.9zM2642.9 487.8h3.9v4.2h-3.9zM2647.2 489h3.9v2.9h-3.9zM2651.6 490.2h3.9v2h-3.9zM2655.9 489.7h3.9v2.6h-3.9zM2660.2 488.7h3.9v3.4h-3.9zM2664.6 488.8h3.9v3.3h-3.9zM2668.9 487.5h3.9v4h-3.9zM2673.2 488.7h3.9v3h-3.9zM2677.5 488.8h3.9v2.8h-3.9zM2681.9 489.7h3.9v2.1h-3.9zM2686.2 489.6h3.9v2.6h-3.9zM2690.5 488h3.9v3.7h-3.9zM2694.9 489h3.9v2.5h-3.9zM2699.2 488.4h3.9v3.7h-3.9zM2703.5 488.9h3.9v3.2h-3.9zM2707.9 488h3.9v4.1h-3.9zM2712.2 489.2h3.9v2.8h-3.9zM2716.5 490h3.9v2.4h-3.9zM2720.9 490.4h3.9v1.9h-3.9zM2725.2 487.7h3.9v4h-3.9zM2729.5 481.6h3.9v8.2h-3.9zM2733.9 488.1h3.9v3.4h-3.9zM2738.2 489.3h3.9v2.8h-3.9zM2742.5 489h3.9v3h-3.9zM2746.9 489.8h3.9v2.6h-3.9z" fill="#a02a4a"/>
<path d="M1949.7 477h3.9v1.1h-3.9zM1954 475.5h3.9v1.1h-3.9zM1958.4 471h3.9v1.1h-3.9zM1962.7 475.7h3.9v1.1h-3.9zM1967 463h3.9v1.1h-3.9zM1971.4 467.1h3.9v1.1h-3.9zM1975.7 468.9h3.9v1.1h-3.9zM1980 472.1h3.9v1.1h-3.9zM1984.4 477h3.9v1.1h-3.9zM1988.7 479.3h3.9v1.1h-3.9zM1993 469.4h3.9v1.1h-3.9zM1997.4 473.1h3.9v1.1h-3.9zM2001.7 463h3.9v1.1h-3.9zM2006 472.3h3.9v1.1h-3.9zM2010.4 470.1h3.9v1.1h-3.9zM2014.7 474h3.9v1.1h-3.9zM2019 474.8h3.9v1.1h-3.9zM2023.4 482.5h3.9v1.1h-3.9zM2027.7 470.1h3.9v1.1h-3.9zM2032 466h3.9v1.1h-3.9zM2036.3 467.7h3.9v1.1h-3.9zM2040.7 473.8h3.9v1.1h-3.9zM2045 471.8h3.9v1.1h-3.9zM2049.3 471.9h3.9v1.1h-3.9zM2053.7 475.3h3.9v1.1h-3.9zM2058 478.8h3.9v1.1h-3.9zM2062.3 475.7h3.9v1.1h-3.9zM2066.7 474.3h3.9v1.1h-3.9zM2071 471.7h3.9v1.1h-3.9zM2075.3 474.6h3.9v1.1h-3.9zM2079.7 470.1h3.9v1.1h-3.9zM2084 480.8h3.9v1.1h-3.9zM2088.3 478.3h3.9v1.1h-3.9zM2092.7 478.4h3.9v1.1h-3.9zM2097 477.7h3.9v1.1h-3.9zM2101.3 474.7h3.9v1.1h-3.9zM2105.7 473.4h3.9v1.1h-3.9zM2110 472.8h3.9v1.1h-3.9zM2114.3 476.1h3.9v1.1h-3.9zM2118.7 477.2h3.9v1.1h-3.9zM2123 476.6h3.9v1.1h-3.9zM2127.3 471.7h3.9v1.1h-3.9zM2131.7 471.8h3.9v1.1h-3.9zM2136 473.1h3.9v1.1h-3.9zM2140.3 472.2h3.9v1.1h-3.9zM2144.7 473.9h3.9v1.1h-3.9zM2149 479.2h3.9v1.1h-3.9zM2153.3 474.9h3.9v1.1h-3.9zM2157.7 477.5h3.9v1.1h-3.9zM2162 475h3.9v1.1h-3.9zM2166.3 479.2h3.9v1.1h-3.9zM2170.7 474.8h3.9v1.1h-3.9zM2175 476.9h3.9v1.1h-3.9zM2179.3 478.1h3.9v1.1h-3.9zM2183.7 478.2h3.9v1.1h-3.9zM2188 478.2h3.9v1.1h-3.9zM2192.3 475.6h3.9v1.1h-3.9zM2196.6 478.8h3.9v1.1h-3.9zM2201 480.5h3.9v1.1h-3.9zM2205.3 474.4h3.9v1.1h-3.9zM2209.6 481.4h3.9v1.1h-3.9zM2214 481.1h3.9v1.1h-3.9zM2218.3 478.3h3.9v1.1h-3.9zM2222.6 480.1h3.9v1.1h-3.9zM2227 476h3.9v1.1h-3.9zM2231.3 482.1h3.9v1.1h-3.9zM2235.6 483.5h3.9v1.1h-3.9zM2240 484.2h3.9v1.1h-3.9zM2244.3 482.9h3.9v1.1h-3.9zM2248.6 479.4h3.9v1.1h-3.9zM2253 479.2h3.9v1.1h-3.9zM2257.3 475.5h3.9v1.1h-3.9zM2261.6 471.8h3.9v1.1h-3.9zM2266 475.3h3.9v1.1h-3.9zM2270.3 474.3h3.9v1.1h-3.9zM2274.6 479.3h3.9v1.1h-3.9zM2279 474h3.9v1.1h-3.9zM2283.3 475.1h3.9v1.1h-3.9zM2287.6 476.8h3.9v1.1h-3.9zM2292 478.7h3.9v1.1h-3.9zM2296.3 476.8h3.9v1.1h-3.9zM2300.6 473.4h3.9v1.1h-3.9zM2305 483h3.9v1.1h-3.9zM2309.3 478.3h3.9v1.1h-3.9zM2313.6 475.7h3.9v1.1h-3.9zM2318 474.9h3.9v1.1h-3.9zM2322.3 479.1h3.9v1.1h-3.9zM2326.6 475.7h3.9v1.1h-3.9zM2331 477h3.9v1.1h-3.9zM2335.3 479h3.9v1.1h-3.9zM2339.6 480.7h3.9v1.1h-3.9zM2344 478.7h3.9v1.1h-3.9zM2348.3 473.8h3.9v1.1h-3.9zM2352.6 472.8h3.9v1.1h-3.9zM2356.9 475.5h3.9v1.1h-3.9zM2361.3 478h3.9v1.1h-3.9zM2365.6 478.6h3.9v1.1h-3.9zM2369.9 476.6h3.9v1.1h-3.9zM2374.3 474.7h3.9v1.1h-3.9zM2378.6 477.9h3.9v1.1h-3.9zM2382.9 480.9h3.9v1.1h-3.9zM2387.3 479.1h3.9v1.1h-3.9zM2391.6 481.7h3.9v1.1h-3.9zM2395.9 474.4h3.9v1.1h-3.9zM2400.3 475.8h3.9v1.1h-3.9zM2404.6 479.6h3.9v1.1h-3.9zM2408.9 479.5h3.9v1.1h-3.9zM2413.3 477.8h3.9v1.1h-3.9zM2417.6 480h3.9v1.1h-3.9zM2421.9 472.8h3.9v1.1h-3.9zM2426.3 478.5h3.9v1.1h-3.9zM2430.6 482.9h3.9v1.1h-3.9zM2434.9 483.1h3.9v1.1h-3.9zM2439.3 479h3.9v1.1h-3.9zM2443.6 479.6h3.9v1.1h-3.9zM2447.9 480.9h3.9v1.1h-3.9zM2452.3 480.3h3.9v1.1h-3.9zM2456.6 474.4h3.9v1.1h-3.9zM2460.9 482.7h3.9v1.1h-3.9zM2465.3 485.8h3.9v1.1h-3.9zM2469.6 479.6h3.9v1.1h-3.9zM2473.9 483.4h3.9v1.1h-3.9zM2478.3 482.6h3.9v1.1h-3.9zM2482.6 483h3.9v1.1h-3.9zM2486.9 484.8h3.9v1.1h-3.9zM2491.3 483h3.9v1.1h-3.9zM2495.6 484.3h3.9v1.1h-3.9zM2499.9 485.4h3.9v1.1h-3.9zM2504.3 482.4h3.9v1.1h-3.9zM2508.6 482.9h3.9v1.1h-3.9zM2512.9 482.1h3.9v1.1h-3.9zM2517.2 483h3.9v1.1h-3.9zM2521.6 484.5h3.9v1.1h-3.9zM2525.9 486.3h3.9v1.1h-3.9zM2530.2 485.4h3.9v1.1h-3.9zM2534.6 483h3.9v1.1h-3.9zM2538.9 480.7h3.9v1.1h-3.9zM2543.2 483.4h3.9v1.1h-3.9zM2547.6 483h3.9v1.1h-3.9zM2551.9 483.9h3.9v1.6h-3.9zM2556.2 484h3.9v1.8h-3.9zM2560.6 485.3h3.9v2.3h-3.9zM2564.9 483.2h3.9v2.8h-3.9zM2569.2 481.4h3.9v3.7h-3.9zM2573.6 482.3h3.9v4.5h-3.9zM2577.9 480.8h3.9v5.3h-3.9zM2582.2 485h3.9v4.2h-3.9zM2586.6 485h3.9v4.7h-3.9zM2590.9 482.6h3.9v7.1h-3.9zM2595.2 483.1h3.9v6.2h-3.9zM2599.6 481.2h3.9v7.3h-3.9zM2603.9 466.8h3.9v7.3h-3.9zM2608.2 480.6h3.9v8h-3.9zM2612.6 485h3.9v5.1h-3.9zM2616.9 485.7h3.9v4.6h-3.9zM2621.2 484h3.9v5.2h-3.9zM2625.6 481.8h3.9v6.7h-3.9zM2629.9 483.3h3.9v6.2h-3.9zM2634.2 484.1h3.9v6h-3.9zM2638.6 483.3h3.9v6.3h-3.9zM2642.9 480.8h3.9v7.2h-3.9zM2647.2 484.4h3.9v4.7h-3.9zM2651.6 485.1h3.9v5.2h-3.9zM2655.9 485.2h3.9v4.6h-3.9zM2660.2 484.2h3.9v4.6h-3.9zM2664.6 482.2h3.9v6.8h-3.9zM2668.9 480.8h3.9v6.8h-3.9zM2673.2 481.4h3.9v7.4h-3.9zM2677.5 481.2h3.9v7.7h-3.9zM2681.9 484.8h3.9v5h-3.9zM2686.2 485.4h3.9v4.3h-3.9zM2690.5 481.7h3.9v6.4h-3.9zM2694.9 482.2h3.9v7h-3.9zM2699.2 483.1h3.9v5.5h-3.9zM2703.5 484h3.9v4.9h-3.9zM2707.9 483h3.9v5.1h-3.9zM2712.2 484.2h3.9v5.2h-3.9zM2716.5 485.9h3.9v4.3h-3.9zM2720.9 486h3.9v4.5h-3.9zM2725.2 480.5h3.9v7.2h-3.9zM2729.5 473.5h3.9v8.2h-3.9zM2733.9 481.3h3.9v6.9h-3.9zM2738.2 484.1h3.9v5.3h-3.9zM2742.5 482.7h3.9v6.5h-3.9zM2746.9 486.1h3.9v3.8h-3.9z" fill="#3f8a45"/>
<path d="M1949.7 455.7h3.9v21.4h-3.9zM1954 455.6h3.9v20h-3.9zM1958.4 444.6h3.9v26.5h-3.9zM1962.7 452.7h3.9v23.1h-3.9zM1967 438.1h3.9v25h-3.9zM1971.4 436.4h3.9v30.7h-3.9zM1975.7 447.6h3.9v21.4h-3.9zM1980 451.3h3.9v21h-3.9zM1984.4 454.9h3.9v22.2h-3.9zM1988.7 462h3.9v17.4h-3.9zM1993 447.9h3.9v21.6h-3.9zM1997.4 450.2h3.9v23h-3.9zM2001.7 436.8h3.9v26.3h-3.9zM2006 446.7h3.9v25.8h-3.9zM2010.4 450.1h3.9v20.1h-3.9zM2014.7 453.6h3.9v20.5h-3.9zM2019 451.9h3.9v23h-3.9zM2023.4 467.4h3.9v15.3h-3.9zM2027.7 441.2h3.9v29h-3.9zM2032 436.4h3.9v29.7h-3.9zM2036.3 444.3h3.9v23.4h-3.9zM2040.7 445.5h3.9v28.4h-3.9zM2045 446.1h3.9v25.8h-3.9zM2049.3 444.7h3.9v27.2h-3.9zM2053.7 452.8h3.9v22.6h-3.9zM2058 457.2h3.9v21.8h-3.9zM2062.3 452.3h3.9v23.4h-3.9zM2066.7 448.4h3.9v26h-3.9zM2071 448.2h3.9v23.6h-3.9zM2075.3 449.3h3.9v25.4h-3.9zM2079.7 446h3.9v24.1h-3.9zM2084 463.2h3.9v17.6h-3.9zM2088.3 457.2h3.9v21.2h-3.9zM2092.7 455.1h3.9v23.4h-3.9zM2097 455.6h3.9v22.3h-3.9zM2101.3 455.5h3.9v19.3h-3.9zM2105.7 452.7h3.9v20.8h-3.9zM2110 447.3h3.9v25.6h-3.9zM2114.3 457.7h3.9v18.5h-3.9zM2118.7 459h3.9v18.3h-3.9zM2123 456.5h3.9v20.2h-3.9zM2127.3 449.5h3.9v22.3h-3.9zM2131.7 446.6h3.9v25.2h-3.9zM2136 452h3.9v21.2h-3.9zM2140.3 441.2h3.9v31.1h-3.9zM2144.7 452.9h3.9v21.1h-3.9zM2149 455.6h3.9v23.7h-3.9zM2153.3 453.5h3.9v21.6h-3.9zM2157.7 453.3h3.9v24.4h-3.9zM2162 453.2h3.9v21.9h-3.9zM2166.3 455.3h3.9v24h-3.9zM2170.7 451h3.9v23.9h-3.9zM2175 454.5h3.9v22.4h-3.9zM2179.3 452.7h3.9v25.5h-3.9zM2183.7 455.4h3.9v22.9h-3.9zM2188 452.8h3.9v25.4h-3.9zM2192.3 451.2h3.9v24.5h-3.9zM2196.6 454h3.9v25h-3.9zM2201 464.9h3.9v15.8h-3.9zM2205.3 451.7h3.9v22.8h-3.9zM2209.6 463h3.9v18.5h-3.9zM2214 459h3.9v22.2h-3.9zM2218.3 458.5h3.9v20h-3.9zM2222.6 463.4h3.9v16.7h-3.9zM2227 452.1h3.9v24h-3.9zM2231.3 468.5h3.9v13.7h-3.9zM2235.6 471.6h3.9v12h-3.9zM2240 468.9h3.9v15.4h-3.9zM2244.3 464.8h3.9v18.2h-3.9zM2248.6 455.2h3.9v24.3h-3.9zM2253 456.3h3.9v23h-3.9zM2257.3 453h3.9v22.6h-3.9zM2261.6 438.1h3.9v33.8h-3.9zM2266 442h3.9v33.4h-3.9zM2270.3 448.8h3.9v25.6h-3.9zM2274.6 457.3h3.9v22.1h-3.9zM2279 449.6h3.9v24.5h-3.9zM2283.3 449.6h3.9v25.6h-3.9zM2287.6 455h3.9v21.9h-3.9zM2292 457.2h3.9v21.6h-3.9zM2296.3 452h3.9v25h-3.9zM2300.6 441.2h3.9v32.3h-3.9zM2305 462.7h3.9v20.4h-3.9zM2309.3 455h3.9v23.4h-3.9zM2313.6 443.1h3.9v32.7h-3.9zM2318 449.7h3.9v25.3h-3.9zM2322.3 453.2h3.9v26.1h-3.9zM2326.6 449.9h3.9v25.9h-3.9zM2331 454.3h3.9v22.8h-3.9zM2335.3 455.4h3.9v23.7h-3.9zM2339.6 456h3.9v24.7h-3.9zM2344 449.8h3.9v29h-3.9zM2348.3 446.1h3.9v27.8h-3.9zM2352.6 441.2h3.9v31.7h-3.9zM2356.9 446.2h3.9v29.4h-3.9zM2361.3 451.8h3.9v26.3h-3.9zM2365.6 448.4h3.9v30.3h-3.9zM2369.9 446.8h3.9v29.9h-3.9zM2374.3 441.2h3.9v33.6h-3.9zM2378.6 454.8h3.9v23.2h-3.9zM2382.9 456.1h3.9v24.9h-3.9zM2387.3 454.7h3.9v24.4h-3.9zM2391.6 464.1h3.9v17.8h-3.9zM2395.9 447.1h3.9v27.5h-3.9zM2400.3 446.6h3.9v29.3h-3.9zM2404.6 453.4h3.9v26.3h-3.9zM2408.9 450h3.9v29.6h-3.9zM2413.3 452.1h3.9v25.8h-3.9zM2417.6 454.7h3.9v25.4h-3.9zM2421.9 442.5h3.9v30.4h-3.9zM2426.3 452.5h3.9v26.1h-3.9zM2430.6 466h3.9v17h-3.9zM2434.9 463.2h3.9v20h-3.9zM2439.3 457h3.9v22.1h-3.9zM2443.6 457.9h3.9v21.9h-3.9zM2447.9 459.5h3.9v21.5h-3.9zM2452.3 451.7h3.9v28.7h-3.9zM2456.6 439.3h3.9v35.2h-3.9zM2460.9 462.1h3.9v20.8h-3.9zM2465.3 473h3.9v12.9h-3.9zM2469.6 452.5h3.9v27.2h-3.9zM2473.9 465h3.9v18.4h-3.9zM2478.3 466h3.9v16.7h-3.9zM2482.6 465h3.9v18h-3.9zM2486.9 468.2h3.9v16.7h-3.9zM2491.3 462.5h3.9v20.6h-3.9zM2495.6 464.9h3.9v19.5h-3.9zM2499.9 469.8h3.9v15.7h-3.9zM2504.3 462.1h3.9v20.4h-3.9zM2508.6 466.9h3.9v16h-3.9zM2512.9 457.5h3.9v24.7h-3.9zM2517.2 465h3.9v18.1h-3.9zM2521.6 466.1h3.9v18.5h-3.9zM2525.9 472.4h3.9v14h-3.9zM2530.2 469.5h3.9v15.9h-3.9zM2534.6 465.8h3.9v17.3h-3.9zM2538.9 458.1h3.9v22.7h-3.9zM2543.2 465.2h3.9v18.3h-3.9zM2547.6 456.3h3.9v26.8h-3.9zM2551.9 465.2h3.9v18.7h-3.9zM2556.2 468.9h3.9v15.2h-3.9zM2560.6 471.3h3.9v14.1h-3.9zM2564.9 466.9h3.9v16.4h-3.9zM2569.2 461.5h3.9v20h-3.9zM2573.6 458.7h3.9v23.7h-3.9zM2577.9 463.2h3.9v17.7h-3.9zM2582.2 473.9h3.9v11.2h-3.9zM2586.6 473.8h3.9v11.3h-3.9zM2590.9 466.2h3.9v16.5h-3.9zM2595.2 465.3h3.9v17.9h-3.9zM2599.6 467.5h3.9v13.9h-3.9zM2603.9 450.2h3.9v16.8h-3.9zM2608.2 457.3h3.9v23.4h-3.9zM2612.6 470.2h3.9v14.9h-3.9zM2616.9 477.2h3.9v8.6h-3.9zM2621.2 473.4h3.9v10.7h-3.9zM2625.6 463h3.9v18.8h-3.9zM2629.9 471.5h3.9v11.9h-3.9zM2634.2 472.3h3.9v11.9h-3.9zM2638.6 469.6h3.9v13.8h-3.9zM2642.9 467.1h3.9v13.8h-3.9zM2647.2 478.6h3.9v5.9h-3.9zM2651.6 472.9h3.9v12.4h-3.9zM2655.9 474.7h3.9v10.7h-3.9zM2660.2 474.4h3.9v9.9h-3.9zM2664.6 468.8h3.9v13.5h-3.9zM2668.9 458h3.9v22.9h-3.9zM2673.2 465.7h3.9v15.7h-3.9zM2677.5 465h3.9v16.3h-3.9zM2681.9 468.9h3.9v16h-3.9zM2686.2 474.2h3.9v11.3h-3.9zM2690.5 466.8h3.9v15h-3.9zM2694.9 463h3.9v19.2h-3.9zM2699.2 469.9h3.9v13.3h-3.9zM2703.5 470.6h3.9v13.5h-3.9zM2707.9 469.8h3.9v13.2h-3.9zM2712.2 471.4h3.9v12.9h-3.9zM2716.5 478.3h3.9v7.6h-3.9zM2720.9 476.9h3.9v9.3h-3.9zM2725.2 463.3h3.9v17.3h-3.9zM2729.5 454.3h3.9v19.2h-3.9zM2733.9 461.4h3.9v20h-3.9zM2738.2 469.5h3.9v14.7h-3.9zM2742.5 468.3h3.9v14.5h-3.9zM2746.9 479.5h3.9v6.7h-3.9z" fill="#211c5a"/>
<path d="M1949.7 454.3h3.9v1.6h-3.9zM1954 454.2h3.9v1.6h-3.9zM1958.4 443.2h3.9v1.6h-3.9zM1962.7 451.2h3.9v1.6h-3.9zM1967 436.6h3.9v1.6h-3.9zM1971.4 435h3.9v1.6h-3.9zM1975.7 446.1h3.9v1.6h-3.9zM1980 449.8h3.9v1.6h-3.9zM1984.4 453.4h3.9v1.6h-3.9zM1988.7 460.5h3.9v1.6h-3.9zM1993 446.5h3.9v1.6h-3.9zM1997.4 448.8h3.9v1.6h-3.9zM2001.7 435.4h3.9v1.6h-3.9zM2006 445.2h3.9v1.6h-3.9zM2010.4 448.7h3.9v1.6h-3.9zM2014.7 452.2h3.9v1.6h-3.9zM2019 450.5h3.9v1.6h-3.9zM2023.4 465.9h3.9v1.6h-3.9zM2027.7 439.8h3.9v1.6h-3.9zM2032 435h3.9v1.6h-3.9zM2036.3 442.9h3.9v1.6h-3.9zM2040.7 444h3.9v1.6h-3.9zM2045 444.7h3.9v1.6h-3.9zM2049.3 443.3h3.9v1.6h-3.9zM2053.7 451.3h3.9v1.6h-3.9zM2058 455.7h3.9v1.6h-3.9zM2062.3 450.9h3.9v1.6h-3.9zM2066.7 447h3.9v1.6h-3.9zM2071 446.8h3.9v1.6h-3.9zM2075.3 447.8h3.9v1.6h-3.9zM2079.7 444.6h3.9v1.6h-3.9zM2084 461.8h3.9v1.6h-3.9zM2088.3 455.7h3.9v1.6h-3.9zM2092.7 453.6h3.9v1.6h-3.9zM2097 454.1h3.9v1.6h-3.9zM2101.3 454h3.9v1.6h-3.9zM2105.7 451.3h3.9v1.6h-3.9zM2110 445.8h3.9v1.6h-3.9zM2114.3 456.3h3.9v1.6h-3.9zM2118.7 457.6h3.9v1.6h-3.9zM2123 455.1h3.9v1.6h-3.9zM2127.3 448.1h3.9v1.6h-3.9zM2131.7 445.2h3.9v1.6h-3.9zM2136 450.6h3.9v1.6h-3.9zM2140.3 439.8h3.9v1.6h-3.9zM2144.7 451.5h3.9v1.6h-3.9zM2149 454.1h3.9v1.6h-3.9zM2153.3 452h3.9v1.6h-3.9zM2157.7 451.8h3.9v1.6h-3.9zM2162 451.7h3.9v1.6h-3.9zM2166.3 453.9h3.9v1.6h-3.9zM2170.7 449.6h3.9v1.6h-3.9zM2175 453.1h3.9v1.6h-3.9zM2179.3 451.2h3.9v1.6h-3.9zM2183.7 454h3.9v1.6h-3.9zM2188 451.4h3.9v1.6h-3.9zM2192.3 449.8h3.9v1.6h-3.9zM2196.6 452.5h3.9v1.6h-3.9zM2201 463.4h3.9v1.6h-3.9zM2205.3 450.3h3.9v1.6h-3.9zM2209.6 461.5h3.9v1.6h-3.9zM2214 457.5h3.9v1.6h-3.9zM2218.3 457h3.9v1.6h-3.9zM2222.6 462h3.9v1.6h-3.9zM2227 450.6h3.9v1.6h-3.9zM2231.3 467h3.9v1.6h-3.9zM2235.6 470.1h3.9v1.6h-3.9zM2240 467.5h3.9v1.6h-3.9zM2244.3 463.4h3.9v1.6h-3.9zM2248.6 453.7h3.9v1.6h-3.9zM2253 454.8h3.9v1.6h-3.9zM2257.3 451.6h3.9v1.6h-3.9zM2261.6 436.6h3.9v1.6h-3.9zM2266 440.6h3.9v1.6h-3.9zM2270.3 447.4h3.9v1.6h-3.9zM2274.6 455.8h3.9v1.6h-3.9zM2279 448.1h3.9v1.6h-3.9zM2283.3 448.2h3.9v1.6h-3.9zM2287.6 453.6h3.9v1.6h-3.9zM2292 455.7h3.9v1.6h-3.9zM2296.3 450.5h3.9v1.6h-3.9zM2300.6 439.8h3.9v1.6h-3.9zM2305 461.3h3.9v1.6h-3.9zM2309.3 453.5h3.9v1.6h-3.9zM2313.6 441.6h3.9v1.6h-3.9zM2318 448.3h3.9v1.6h-3.9zM2322.3 451.7h3.9v1.6h-3.9zM2326.6 448.5h3.9v1.6h-3.9zM2331 452.8h3.9v1.6h-3.9zM2335.3 453.9h3.9v1.6h-3.9zM2339.6 454.6h3.9v1.6h-3.9zM2344 448.4h3.9v1.6h-3.9zM2348.3 444.6h3.9v1.6h-3.9zM2352.6 439.8h3.9v1.6h-3.9zM2356.9 444.8h3.9v1.6h-3.9zM2361.3 450.3h3.9v1.6h-3.9zM2365.6 446.9h3.9v1.6h-3.9zM2369.9 445.3h3.9v1.6h-3.9zM2374.3 439.8h3.9v1.6h-3.9zM2378.6 453.4h3.9v1.6h-3.9zM2382.9 454.7h3.9v1.6h-3.9zM2387.3 453.3h3.9v1.6h-3.9zM2391.6 462.6h3.9v1.6h-3.9zM2395.9 445.6h3.9v1.6h-3.9zM2400.3 445.2h3.9v1.6h-3.9zM2404.6 451.9h3.9v1.6h-3.9zM2408.9 448.5h3.9v1.6h-3.9zM2413.3 450.7h3.9v1.6h-3.9zM2417.6 453.3h3.9v1.6h-3.9zM2421.9 441h3.9v1.6h-3.9zM2426.3 451.1h3.9v1.6h-3.9zM2430.6 464.6h3.9v1.6h-3.9zM2434.9 461.8h3.9v1.6h-3.9zM2439.3 455.5h3.9v1.6h-3.9zM2443.6 456.4h3.9v1.6h-3.9zM2447.9 458.1h3.9v1.6h-3.9zM2452.3 450.2h3.9v1.6h-3.9zM2456.6 437.9h3.9v1.6h-3.9zM2460.9 460.6h3.9v1.6h-3.9zM2465.3 471.5h3.9v1.6h-3.9zM2469.6 451.1h3.9v1.6h-3.9zM2473.9 463.6h3.9v1.6h-3.9zM2478.3 464.5h3.9v1.6h-3.9zM2482.6 463.6h3.9v1.6h-3.9zM2486.9 466.7h3.9v1.6h-3.9zM2491.3 461.1h3.9v1.6h-3.9zM2495.6 463.5h3.9v1.6h-3.9zM2499.9 468.3h3.9v1.6h-3.9zM2504.3 460.6h3.9v1.6h-3.9zM2508.6 465.5h3.9v1.6h-3.9zM2512.9 456h3.9v1.6h-3.9zM2517.2 463.5h3.9v1.6h-3.9zM2521.6 464.6h3.9v1.6h-3.9zM2525.9 470.9h3.9v1.6h-3.9zM2530.2 468.1h3.9v1.6h-3.9zM2534.6 464.4h3.9v1.6h-3.9zM2538.9 456.7h3.9v1.6h-3.9zM2543.2 463.8h3.9v1.6h-3.9zM2547.6 454.8h3.9v1.6h-3.9zM2551.9 463.8h3.9v1.6h-3.9zM2556.2 467.4h3.9v1.6h-3.9zM2560.6 469.9h3.9v1.6h-3.9zM2564.9 465.5h3.9v1.6h-3.9zM2569.2 460h3.9v1.6h-3.9zM2647.2 469.7h3.9v8.9h-3.9z" fill="#55a5a0"/>
<path d="M2573.6 457.3h3.9v1.6h-3.9zM2577.9 461.7h3.9v1.6h-3.9zM2582.2 472.4h3.9v1.6h-3.9zM2586.6 472.4h3.9v1.6h-3.9zM2590.9 464.8h3.9v1.6h-3.9zM2595.2 463.9h3.9v1.6h-3.9zM2599.6 466h3.9v1.6h-3.9zM2603.9 447.9h3.9v2.4h-3.9zM2608.2 455.8h3.9v1.6h-3.9zM2612.6 468.8h3.9v1.6h-3.9zM2616.9 475.8h3.9v1.6h-3.9zM2621.2 471.9h3.9v1.6h-3.9zM2625.6 461.6h3.9v1.6h-3.9zM2629.9 470h3.9v1.6h-3.9zM2634.2 470.8h3.9v1.6h-3.9zM2638.6 468.2h3.9v1.6h-3.9zM2642.9 465.7h3.9v1.6h-3.9zM2651.6 471.4h3.9v1.6h-3.9zM2655.9 473.2h3.9v1.6h-3.9zM2660.2 472.9h3.9v1.6h-3.9zM2664.6 467.3h3.9v1.6h-3.9zM2668.9 456.6h3.9v1.6h-3.9zM2673.2 464.3h3.9v1.6h-3.9zM2677.5 463.5h3.9v1.6h-3.9zM2681.9 467.4h3.9v1.6h-3.9zM2686.2 472.8h3.9v1.6h-3.9zM2690.5 465.3h3.9v1.6h-3.9zM2694.9 461.6h3.9v1.6h-3.9zM2699.2 468.4h3.9v1.6h-3.9zM2703.5 469.2h3.9v1.6h-3.9zM2707.9 468.4h3.9v1.6h-3.9zM2712.2 469.9h3.9v1.6h-3.9zM2716.5 476.9h3.9v1.6h-3.9zM2720.9 475.4h3.9v1.6h-3.9zM2725.2 461.9h3.9v1.6h-3.9zM2729.5 452.3h3.9v2.1h-3.9zM2733.9 460h3.9v1.6h-3.9zM2738.2 468.1h3.9v1.6h-3.9zM2742.5 466.8h3.9v1.6h-3.9zM2746.9 478h3.9v1.5h-3.9z" fill="#9080b8"/>
<path d="M2729.5 489.7h3.9v1.3h-3.9z" fill="#b0a830"/>
<rect x="2663" y="434.5" width="88.5" height="59" fill="#000" fill-opacity="0.16" stroke="#7e7e7e" stroke-width="1"/>
<rect x="1949" y="434.5" width="802.5" height="59" fill="none" stroke="#878787" stroke-width="1"/>
<path d="M1014.7 1002.1h2.2v4h-2.2zM1017.1 1004.2h2.2v1.9h-2.2zM1019.5 1000.8h2.2v5.3h-2.2zM1021.9 1003.6h2.2v2.5h-2.2zM1024.3 1000.9h2.2v5.2h-2.2zM1026.7 1004.3h2.2v1.8h-2.2zM1029.1 1004.5h2.2v1.6h-2.2zM1031.5 1003.7h2.2v2.4h-2.2zM1033.9 1003.7h2.2v2.4h-2.2zM1036.2 1002.6h2.2v3.5h-2.2zM1038.6 1002.6h2.2v3.5h-2.2zM1041 1004h2.2v2.1h-2.2zM1043.4 999.7h2.2v6.4h-2.2zM1045.8 1001.4h2.2v4.7h-2.2zM1048.2 1003.4h2.2v2.7h-2.2zM1050.6 1003.4h2.2v2.7h-2.2zM1053 1000.8h2.2v5.3h-2.2zM1055.4 1004.1h2.2v2h-2.2zM1057.8 1004.4h2.2v1.7h-2.2zM1060.2 1002.2h2.2v3.9h-2.2zM1062.6 1004.1h2.2v2h-2.2zM1065 1002.4h2.2v3.7h-2.2zM1067.4 1003.6h2.2v2.5h-2.2zM1069.8 1000.9h2.2v5.2h-2.2zM1072.2 1003.2h2.2v2.9h-2.2zM1074.5 1001.2h2.2v4.9h-2.2zM1076.9 1003.2h2.2v2.9h-2.2zM1079.3 1002.7h2.2v3.4h-2.2zM1081.7 1002.6h2.2v3.5h-2.2zM1084.1 1003.8h2.2v2.3h-2.2zM1086.5 997.3h2.2v8.8h-2.2zM1088.9 1003.5h2.2v2.6h-2.2zM1091.3 1003.2h2.2v2.9h-2.2zM1093.7 1001.5h2.2v4.6h-2.2zM1096.1 1004.1h2.2v2h-2.2zM1098.5 1003.8h2.2v2.3h-2.2zM1100.9 1003.4h2.2v2.7h-2.2zM1103.3 1001.5h2.2v4.6h-2.2zM1105.7 1003.4h2.2v2.7h-2.2zM1108.1 1002.7h2.2v3.4h-2.2zM1110.5 1003.4h2.2v2.7h-2.2zM1112.8 1004h2.2v2.1h-2.2zM1115.2 1003.3h2.2v2.8h-2.2zM1117.6 1003.2h2.2v2.9h-2.2zM1120 1004h2.2v2.1h-2.2zM1122.4 1002.3h2.2v3.8h-2.2zM1124.8 1002.6h2.2v3.5h-2.2zM1127.2 1002.6h2.2v3.5h-2.2zM1129.6 1003.6h2.2v2.5h-2.2zM1132 1002.6h2.2v3.5h-2.2zM1134.4 1003.5h2.2v2.6h-2.2zM1136.8 1003.1h2.2v3h-2.2zM1139.2 1003.3h2.2v2.8h-2.2zM1141.6 1002.6h2.2v3.5h-2.2zM1144 1003h2.2v3.1h-2.2zM1146.4 1002.5h2.2v3.6h-2.2zM1148.8 1002.4h2.2v3.7h-2.2zM1151.1 1001.3h2.2v4.8h-2.2zM1153.5 1002.3h2.2v3.8h-2.2zM1155.9 996.3h2.2v9.8h-2.2zM1158.3 1002.6h2.2v3.5h-2.2zM1160.7 998.8h2.2v7.3h-2.2zM1163.1 1003.5h2.2v2.6h-2.2zM1165.5 1003.9h2.2v2.2h-2.2zM1167.9 1003.8h2.2v2.3h-2.2zM1170.3 1004.4h2.2v1.7h-2.2zM1172.7 1002.9h2.2v3.2h-2.2zM1175.1 1002.9h2.2v3.2h-2.2zM1177.5 1003.3h2.2v2.8h-2.2zM1179.9 1002.8h2.2v3.3h-2.2zM1182.3 1004.4h2.2v1.7h-2.2zM1184.7 1001.6h2.2v4.5h-2.2zM1187.1 998.1h2.2v8h-2.2zM1189.4 1004.2h2.2v1.9h-2.2zM1191.8 1002.9h2.2v3.2h-2.2zM1194.2 1003.4h2.2v2.7h-2.2zM1196.6 1002h2.2v4.1h-2.2zM1199 1002.8h2.2v3.3h-2.2zM1201.4 1002.8h2.2v3.3h-2.2zM1203.8 1002.7h2.2v3.4h-2.2zM1206.2 1001.4h2.2v4.7h-2.2zM1208.6 1002.6h2.2v3.5h-2.2zM1211 1003.6h2.2v2.5h-2.2zM1213.4 1003.3h2.2v2.8h-2.2zM1215.8 1002.8h2.2v3.3h-2.2zM1218.2 1000.2h2.2v5.9h-2.2zM1220.6 1002.6h2.2v3.5h-2.2zM1223 1001.7h2.2v4.4h-2.2zM1225.4 1003.2h2.2v2.9h-2.2zM1227.7 1001.1h2.2v5h-2.2zM1230.1 1003.6h2.2v2.5h-2.2zM1232.5 1004.1h2.2v2h-2.2zM1234.9 999.1h2.2v7h-2.2zM1237.3 1003.3h2.2v2.8h-2.2zM1239.7 1001h2.2v5.1h-2.2zM1242.1 1003.8h2.2v2.3h-2.2zM1244.5 1003.8h2.2v2.3h-2.2zM1246.9 1003.5h2.2v2.6h-2.2zM1249.3 1004.3h2.2v1.8h-2.2zM1251.7 1002.5h2.2v3.6h-2.2zM1254.1 1004.3h2.2v1.8h-2.2zM1256.5 1003.1h2.2v3h-2.2zM1258.9 1003.5h2.2v2.6h-2.2zM1261.3 1003.8h2.2v2.3h-2.2zM1263.7 1004h2.2v2.1h-2.2zM1266 1002.7h2.2v3.4h-2.2zM1268.4 1003.5h2.2v2.6h-2.2zM1270.8 1004h2.2v2.1h-2.2zM1273.2 1003.6h2.2v2.5h-2.2zM1275.6 1003.5h2.2v2.6h-2.2zM1278 1003.7h2.2v2.4h-2.2zM1280.4 1001.2h2.2v4.9h-2.2zM1282.8 1002.2h2.2v3.9h-2.2zM1285.2 1004.4h2.2v1.7h-2.2zM1287.6 1002.9h2.2v3.2h-2.2zM1290 1003.8h2.2v2.3h-2.2zM1292.4 994.1h2.2v12h-2.2zM1294.8 1004.3h2.2v1.8h-2.2zM1297.2 1004.3h2.2v1.8h-2.2zM1299.6 998.8h2.2v7.3h-2.2zM1302 1001.2h2.2v4.9h-2.2zM1304.4 1003.7h2.2v2.4h-2.2zM1306.7 1002.9h2.2v3.2h-2.2zM1309.1 1001.3h2.2v4.8h-2.2zM1311.5 1003.3h2.2v2.8h-2.2zM1313.9 1003.1h2.2v3h-2.2zM1316.3 1003.8h2.2v2.3h-2.2zM1318.7 1004.1h2.2v2h-2.2zM1321.1 1001.1h2.2v5h-2.2zM1323.5 1001.3h2.2v4.8h-2.2zM1325.9 1002.5h2.2v3.6h-2.2zM1328.3 1003.9h2.2v2.2h-2.2zM1330.7 1004h2.2v2.1h-2.2zM1333.1 1001.8h2.2v4.3h-2.2zM1335.5 1002.7h2.2v3.4h-2.2zM1337.9 1004h2.2v2.1h-2.2zM1340.3 1001h2.2v5.1h-2.2zM1342.7 1003.7h2.2v2.4h-2.2zM1345 1003.2h2.2v2.9h-2.2zM1347.4 1004h2.2v2.1h-2.2zM1349.8 1002.4h2.2v3.7h-2.2zM1352.2 1003.2h2.2v2.9h-2.2zM1354.6 1003.8h2.2v2.3h-2.2zM1357 1003.8h2.2v2.3h-2.2zM1359.4 1002.3h2.2v3.8h-2.2zM1361.8 1001.8h2.2v4.3h-2.2zM1364.2 1001.8h2.2v4.3h-2.2zM1366.6 1001.9h2.2v4.2h-2.2zM1369 1000.6h2.2v5.5h-2.2zM1371.4 1005h2.2v1.1h-2.2zM1373.8 1002.7h2.2v3.4h-2.2zM1376.2 1003.4h2.2v2.7h-2.2zM1378.6 1004.8h2.2v1.3h-2.2zM1381 1005h2.2v1.1h-2.2zM1383.3 1005h2.2v1.1h-2.2zM1385.7 1005.1h2.2v1h-2.2zM1388.1 1005h2.2v1.1h-2.2zM1390.5 1005.1h2.2v1h-2.2zM1392.9 1005.1h2.2v1h-2.2zM1395.3 1005.4h2.2v0.7h-2.2zM1397.7 1005.5h2.2v0.6h-2.2zM1400.1 1005.5h2.2v0.6h-2.2zM1402.5 1005h2.2v1.1h-2.2zM1404.9 1005.3h2.2v0.8h-2.2zM1407.3 1005.4h2.2v0.7h-2.2zM1409.7 1005.1h2.2v1h-2.2zM1412.1 1005.4h2.2v0.7h-2.2zM1414.5 1005h2.2v1.1h-2.2zM1416.9 1005.3h2.2v0.8h-2.2zM1419.3 1005.1h2.2v1h-2.2zM1421.6 1005.1h2.2v1h-2.2zM1424 1005.5h2.2v0.6h-2.2zM1426.4 1005h2.2v1.1h-2.2zM1428.8 1004.9h2.2v1.2h-2.2zM1431.2 1005.5h2.2v0.6h-2.2zM1433.6 1004.8h2.2v1.3h-2.2zM1436 1005.5h2.2v0.6h-2.2zM1438.4 1005.5h2.2v0.6h-2.2zM1440.8 1005.5h2.2v0.6h-2.2zM1443.2 1005.3h2.2v0.8h-2.2zM1445.6 1005h2.2v1.1h-2.2zM1448 1005h2.2v1.1h-2.2zM1450.4 1005.2h2.2v0.9h-2.2zM1452.8 1004.8h2.2v1.3h-2.2zM1455.2 1004.9h2.2v1.2h-2.2zM1457.6 1001.4h2.2v4.7h-2.2zM1459.9 1004.8h2.2v1.3h-2.2zM1462.3 1005h2.2v1.1h-2.2zM1464.7 1004.6h2.2v1.5h-2.2zM1467.1 1005.2h2.2v0.9h-2.2zM1469.5 1005.2h2.2v0.9h-2.2zM1471.9 1005h2.2v1.1h-2.2zM1474.3 1005.3h2.2v0.8h-2.2zM1476.7 1005h2.2v1.1h-2.2zM1479.1 1004.9h2.2v1.2h-2.2zM1481.5 1005.1h2.2v1h-2.2zM1483.9 1004.9h2.2v1.2h-2.2zM1486.3 1005.5h2.2v0.6h-2.2zM1488.7 1005.5h2.2v0.6h-2.2zM1491.1 1005.2h2.2v0.9h-2.2zM1493.5 1005.5h2.2v0.6h-2.2zM1495.9 1005.1h2.2v1h-2.2zM1498.2 1005.4h2.2v0.7h-2.2zM1500.6 1005.5h2.2v0.6h-2.2zM1503 1005.3h2.2v0.8h-2.2zM1505.4 1005.2h2.2v0.9h-2.2zM1507.8 1005.2h2.2v0.9h-2.2zM1510.2 1005.2h2.2v0.9h-2.2zM1512.6 1005.1h2.2v1h-2.2zM1515 1005h2.2v1.1h-2.2zM1517.4 1005.1h2.2v1h-2.2zM1519.8 1005.1h2.2v1h-2.2zM1522.2 1005h2.2v1.1h-2.2zM1524.6 1005.4h2.2v0.7h-2.2zM1527 1005.1h2.2v1h-2.2zM1529.4 1005h2.2v1.1h-2.2zM1531.8 1004.8h2.2v1.3h-2.2zM1534.2 1005.1h2.2v1h-2.2zM1536.5 1004.7h2.2v1.4h-2.2zM1538.9 1005h2.2v1.1h-2.2zM1541.3 1005.4h2.2v0.7h-2.2zM1543.7 1005.3h2.2v0.8h-2.2zM1546.1 1005.5h2.2v0.6h-2.2zM1548.5 1005.1h2.2v1h-2.2zM1550.9 1005.5h2.2v0.6h-2.2zM1553.3 1005.4h2.2v0.7h-2.2zM1555.7 1005.3h2.2v0.8h-2.2zM1558.1 1005.1h2.2v1h-2.2zM1560.5 1005.3h2.2v0.8h-2.2zM1562.9 1005.3h2.2v0.8h-2.2zM1565.3 1005.3h2.2v0.8h-2.2zM1567.7 1005h2.2v1.1h-2.2zM1570.1 1005h2.2v1.1h-2.2zM1572.5 1005.5h2.2v0.6h-2.2zM1574.9 1004.8h2.2v1.3h-2.2zM1577.2 1005h2.2v1.1h-2.2zM1579.6 1005.2h2.2v0.9h-2.2zM1582 1005h2.2v1.1h-2.2zM1584.4 1004.7h2.2v1.4h-2.2zM1586.8 1005.4h2.2v0.7h-2.2zM1589.2 1005h2.2v1.1h-2.2zM1591.6 1005.4h2.2v0.7h-2.2zM1594 1005.4h2.2v0.7h-2.2zM1596.4 1005h2.2v1.1h-2.2zM1598.8 1005.2h2.2v0.9h-2.2zM1601.2 1004.5h2.2v1.6h-2.2zM1603.6 1004.8h2.2v1.3h-2.2zM1606 1005h2.2v1.1h-2.2zM1608.4 1005.1h2.2v1h-2.2zM1610.8 1004.1h2.2v2h-2.2zM1613.2 1005.3h2.2v0.8h-2.2zM1615.5 1005h2.2v1.1h-2.2zM1617.9 1005.1h2.2v1h-2.2zM1620.3 1005.5h2.2v0.6h-2.2zM1622.7 1004.8h2.2v1.3h-2.2zM1625.1 1005.3h2.2v0.8h-2.2zM1627.5 1005.5h2.2v0.6h-2.2zM1629.9 1005.3h2.2v0.8h-2.2zM1632.3 1005.1h2.2v1h-2.2zM1634.7 1005h2.2v1.1h-2.2zM1637.1 1005h2.2v1.1h-2.2zM1639.5 1005.1h2.2v1h-2.2zM1641.9 1005.1h2.2v1h-2.2zM1644.3 1005.2h2.2v0.9h-2.2zM1646.7 1005.2h2.2v0.9h-2.2zM1649.1 1005h2.2v1.1h-2.2zM1651.5 1005.3h2.2v0.8h-2.2zM1653.8 1005.1h2.2v1h-2.2zM1656.2 1005.3h2.2v0.8h-2.2zM1658.6 1005.4h2.2v0.7h-2.2zM1661 1005.5h2.2v0.6h-2.2zM1663.4 1005.1h2.2v1h-2.2zM1665.8 1005h2.2v1.1h-2.2zM1668.2 1005h2.2v1.1h-2.2zM1670.6 1004.6h2.2v1.5h-2.2zM1673 1005.2h2.2v0.9h-2.2zM1675.4 1005.4h2.2v0.7h-2.2zM1677.8 1005.2h2.2v0.9h-2.2zM1680.2 1005.1h2.2v1h-2.2zM1682.6 1005.4h2.2v0.7h-2.2zM1685 1005h2.2v1.1h-2.2zM1687.4 1004.8h2.2v1.3h-2.2zM1689.8 1005.5h2.2v0.6h-2.2zM1692.1 1005.2h2.2v0.9h-2.2zM1694.5 1005.3h2.2v0.8h-2.2zM1696.9 1005.4h2.2v0.7h-2.2zM1699.3 1005.4h2.2v0.7h-2.2zM1701.7 1005.1h2.2v1h-2.2zM1704.1 1005.2h2.2v0.9h-2.2zM1706.5 1005h2.2v1.1h-2.2zM1708.9 1005.2h2.2v0.9h-2.2zM1711.3 1005h2.2v1.1h-2.2zM1713.7 1005.3h2.2v0.8h-2.2zM1716.1 1005.2h2.2v0.9h-2.2zM1718.5 1005.4h2.2v0.7h-2.2zM1720.9 1005.2h2.2v0.9h-2.2zM1723.3 1005h2.2v1.1h-2.2zM1725.7 1005.5h2.2v0.6h-2.2zM1728.1 1004.7h2.2v1.4h-2.2zM1730.4 1005.4h2.2v0.7h-2.2zM1732.8 1005.2h2.2v0.9h-2.2zM1735.2 1005.1h2.2v1h-2.2zM1737.6 1005.2h2.2v0.9h-2.2zM1740 1005h2.2v1.1h-2.2zM1742.4 1004.5h2.2v1.6h-2.2zM1744.8 1005h2.2v1.1h-2.2zM1747.2 1005.1h2.2v1h-2.2zM1749.6 1004.8h2.2v1.3h-2.2zM1752 1005h2.2v1.1h-2.2zM1754.4 1005h2.2v1.1h-2.2zM1756.8 1004.7h2.2v1.4h-2.2zM1759.2 1005.1h2.2v1h-2.2zM1761.6 1005.1h2.2v1h-2.2zM1764 1005.1h2.2v1h-2.2zM1766.4 1005h2.2v1.1h-2.2zM1768.7 1005h2.2v1.1h-2.2zM1771.1 1005h2.2v1.1h-2.2zM1773.5 1005.4h2.2v0.7h-2.2zM1775.9 1005.3h2.2v0.8h-2.2zM1778.3 1005.1h2.2v1h-2.2zM1780.7 1003.7h2.2v2.4h-2.2zM1783.1 1004.9h2.2v1.2h-2.2zM1785.5 1004.1h2.2v2h-2.2zM1787.9 1005.1h2.2v1h-2.2zM1790.3 1005h2.2v1.1h-2.2zM1792.7 1005.5h2.2v0.6h-2.2zM1795.1 1005.1h2.2v1h-2.2zM1797.5 1005.5h2.2v0.6h-2.2zM1799.9 1005.3h2.2v0.8h-2.2zM1802.3 1005h2.2v1.1h-2.2zM1804.7 1005.4h2.2v0.7h-2.2zM1807 1005.1h2.2v1h-2.2zM1809.4 1005.2h2.2v0.9h-2.2zM1811.8 1005.3h2.2v0.8h-2.2zM1814.2 1004.8h2.2v1.3h-2.2zM1816.6 1005.3h2.2v0.8h-2.2zM1819 1005.1h2.2v1h-2.2zM1821.4 1004.9h2.2v1.2h-2.2zM1823.8 1005.3h2.2v0.8h-2.2z" fill="#4380b0"/>
<path d="M1014.7 1001.5h2.2v0.7h-2.2zM1017.1 1003.7h2.2v0.7h-2.2zM1019.5 1000.2h2.2v0.7h-2.2zM1021.9 1003.1h2.2v0.7h-2.2zM1024.3 1000.3h2.2v0.7h-2.2zM1026.7 1003.7h2.2v0.7h-2.2zM1029.1 1003.9h2.2v0.7h-2.2zM1031.5 1003.1h2.2v0.7h-2.2zM1033.9 1003.1h2.2v0.7h-2.2zM1036.2 1002h2.2v0.7h-2.2zM1038.6 1002h2.2v0.7h-2.2zM1041 1003.4h2.2v0.7h-2.2zM1043.4 999.1h2.2v0.7h-2.2zM1045.8 1000.8h2.2v0.7h-2.2zM1048.2 1002.9h2.2v0.7h-2.2zM1050.6 1002.8h2.2v0.7h-2.2zM1053 1000.2h2.2v0.7h-2.2zM1055.4 1003.5h2.2v0.7h-2.2zM1057.8 1003.8h2.2v0.7h-2.2zM1060.2 1001.6h2.2v0.7h-2.2zM1062.6 1003.6h2.2v0.7h-2.2zM1065 1001.8h2.2v0.7h-2.2zM1067.4 1003h2.2v0.7h-2.2zM1069.8 1000.4h2.2v0.7h-2.2zM1072.2 1002.6h2.2v0.7h-2.2zM1074.5 1000.6h2.2v0.7h-2.2zM1076.9 1002.7h2.2v0.7h-2.2zM1079.3 1002.1h2.2v0.7h-2.2zM1081.7 1002.1h2.2v0.7h-2.2zM1084.1 1003.2h2.2v0.7h-2.2zM1086.5 996.7h2.2v0.7h-2.2zM1088.9 1002.9h2.2v0.7h-2.2zM1091.3 1002.6h2.2v0.7h-2.2zM1093.7 1000.9h2.2v0.7h-2.2zM1096.1 1003.5h2.2v0.7h-2.2zM1098.5 1003.2h2.2v0.7h-2.2zM1100.9 1002.8h2.2v0.7h-2.2zM1103.3 1001h2.2v0.7h-2.2zM1105.7 1002.8h2.2v0.7h-2.2zM1108.1 1002.1h2.2v0.7h-2.2zM1110.5 1002.8h2.2v0.7h-2.2zM1112.8 1003.4h2.2v0.7h-2.2zM1115.2 1002.7h2.2v0.7h-2.2zM1117.6 1002.6h2.2v0.7h-2.2zM1120 1003.4h2.2v0.7h-2.2zM1122.4 1001.8h2.2v0.7h-2.2zM1124.8 1002.1h2.2v0.7h-2.2zM1127.2 1002.1h2.2v0.7h-2.2zM1129.6 1003h2.2v0.7h-2.2zM1132 1002h2.2v0.7h-2.2zM1134.4 1002.9h2.2v0.7h-2.2zM1136.8 1002.5h2.2v0.7h-2.2zM1139.2 1002.7h2.2v0.7h-2.2zM1141.6 1002h2.2v0.7h-2.2zM1144 1002.4h2.2v0.7h-2.2zM1146.4 1001.9h2.2v0.7h-2.2zM1148.8 1001.8h2.2v0.7h-2.2zM1151.1 1000.8h2.2v0.7h-2.2zM1153.5 1001.7h2.2v0.7h-2.2zM1155.9 995.8h2.2v0.7h-2.2zM1158.3 1002h2.2v0.7h-2.2zM1160.7 998.2h2.2v0.7h-2.2zM1163.1 1002.9h2.2v0.7h-2.2zM1165.5 1003.3h2.2v0.7h-2.2zM1167.9 1003.2h2.2v0.7h-2.2zM1170.3 1003.8h2.2v0.7h-2.2zM1172.7 1002.3h2.2v0.7h-2.2zM1175.1 1002.3h2.2v0.7h-2.2zM1177.5 1002.7h2.2v0.7h-2.2zM1179.9 1002.2h2.2v0.7h-2.2zM1182.3 1003.8h2.2v0.7h-2.2zM1184.7 1001h2.2v0.7h-2.2zM1187.1 997.6h2.2v0.7h-2.2zM1189.4 1003.6h2.2v0.7h-2.2zM1191.8 1002.3h2.2v0.7h-2.2zM1194.2 1002.8h2.2v0.7h-2.2zM1196.6 1001.4h2.2v0.7h-2.2zM1199 1002.3h2.2v0.7h-2.2zM1201.4 1002.2h2.2v0.7h-2.2zM1203.8 1002.2h2.2v0.7h-2.2zM1206.2 1000.8h2.2v0.7h-2.2zM1208.6 1002h2.2v0.7h-2.2zM1211 1003h2.2v0.7h-2.2zM1213.4 1002.7h2.2v0.7h-2.2zM1215.8 1002.2h2.2v0.7h-2.2zM1218.2 999.6h2.2v0.7h-2.2zM1220.6 1002h2.2v0.7h-2.2zM1223 1001.1h2.2v0.7h-2.2zM1225.4 1002.7h2.2v0.7h-2.2zM1227.7 1000.5h2.2v0.7h-2.2zM1230.1 1003h2.2v0.7h-2.2zM1232.5 1003.5h2.2v0.7h-2.2zM1234.9 998.5h2.2v0.7h-2.2zM1237.3 1002.7h2.2v0.7h-2.2zM1239.7 1000.4h2.2v0.7h-2.2zM1242.1 1003.3h2.2v0.7h-2.2zM1244.5 1003.2h2.2v0.7h-2.2zM1246.9 1003h2.2v0.7h-2.2zM1249.3 1003.7h2.2v0.7h-2.2zM1251.7 1001.9h2.2v0.7h-2.2zM1254.1 1003.8h2.2v0.7h-2.2zM1256.5 1002.5h2.2v0.7h-2.2zM1258.9 1002.9h2.2v0.7h-2.2zM1261.3 1003.2h2.2v0.7h-2.2zM1263.7 1003.4h2.2v0.7h-2.2zM1266 1002.2h2.2v0.7h-2.2zM1268.4 1002.9h2.2v0.7h-2.2zM1270.8 1003.4h2.2v0.7h-2.2zM1273.2 1003h2.2v0.7h-2.2zM1275.6 1002.9h2.2v0.7h-2.2zM1278 1003.1h2.2v0.7h-2.2zM1280.4 1000.6h2.2v0.7h-2.2zM1282.8 1001.6h2.2v0.7h-2.2zM1285.2 1003.8h2.2v0.7h-2.2zM1287.6 1002.3h2.2v0.7h-2.2zM1290 1003.2h2.2v0.7h-2.2zM1292.4 993.5h2.2v0.7h-2.2zM1294.8 1003.7h2.2v0.7h-2.2zM1297.2 1003.8h2.2v0.7h-2.2zM1299.6 998.3h2.2v0.7h-2.2zM1302 1000.6h2.2v0.7h-2.2zM1304.4 1003.1h2.2v0.7h-2.2zM1306.7 1002.3h2.2v0.7h-2.2zM1309.1 1000.7h2.2v0.7h-2.2zM1311.5 1002.7h2.2v0.7h-2.2zM1313.9 1002.5h2.2v0.7h-2.2zM1316.3 1003.2h2.2v0.7h-2.2zM1318.7 1003.6h2.2v0.7h-2.2zM1321.1 1000.5h2.2v0.7h-2.2zM1323.5 1000.7h2.2v0.7h-2.2zM1325.9 1002h2.2v0.7h-2.2zM1328.3 1003.3h2.2v0.7h-2.2zM1330.7 1003.4h2.2v0.7h-2.2zM1333.1 1001.2h2.2v0.7h-2.2zM1335.5 1002.1h2.2v0.7h-2.2zM1337.9 1003.4h2.2v0.7h-2.2zM1340.3 1000.4h2.2v0.7h-2.2zM1342.7 1003.2h2.2v0.7h-2.2zM1345 1002.6h2.2v0.7h-2.2zM1347.4 1003.4h2.2v0.7h-2.2zM1349.8 1001.8h2.2v0.7h-2.2zM1352.2 1002.7h2.2v0.7h-2.2zM1354.6 1003.2h2.2v0.7h-2.2zM1357 1003.2h2.2v0.7h-2.2zM1359.4 1001.7h2.2v0.7h-2.2zM1361.8 1001.3h2.2v0.7h-2.2zM1364.2 1001.2h2.2v0.7h-2.2zM1366.6 1001.4h2.2v0.7h-2.2zM1369 1000.1h2.2v0.7h-2.2zM1373.8 1001.4h2.2v1.4h-2.2zM1376.2 1002.4h2.2v1.1h-2.2zM1457.6 999.6h2.2v1.8h-2.2zM1780.7 1002.8h2.2v1h-2.2z" fill="#b0a830"/>
<path d="M1014.7 999.3h2.2v2.3h-2.2zM1017.1 1002.4h2.2v1.4h-2.2zM1019.5 994.4h2.2v5.9h-2.2zM1021.9 1002h2.2v1.2h-2.2zM1024.3 997h2.2v3.4h-2.2zM1026.7 1002.3h2.2v1.5h-2.2zM1029.1 1002.8h2.2v1.2h-2.2zM1031.5 1002h2.2v1.2h-2.2zM1033.9 1001.7h2.2v1.5h-2.2zM1036.2 1000.3h2.2v1.9h-2.2zM1038.6 1000.2h2.2v1.9h-2.2zM1041 1001.7h2.2v1.8h-2.2zM1043.4 993.2h2.2v6h-2.2zM1045.8 997.6h2.2v3.3h-2.2zM1048.2 1001.5h2.2v1.4h-2.2zM1050.6 1001h2.2v1.9h-2.2zM1053 997.3h2.2v3.1h-2.2zM1055.4 1002.7h2.2v0.9h-2.2zM1057.8 1002.7h2.2v1.1h-2.2zM1060.2 997.7h2.2v4h-2.2zM1062.6 1002.1h2.2v1.5h-2.2zM1065 1000h2.2v2h-2.2zM1067.4 1001.5h2.2v1.6h-2.2zM1069.8 997h2.2v3.5h-2.2zM1072.2 999.8h2.2v2.9h-2.2zM1074.5 996.3h2.2v4.3h-2.2zM1076.9 1000.5h2.2v2.3h-2.2zM1079.3 999.3h2.2v2.9h-2.2zM1081.7 998.7h2.2v3.4h-2.2zM1084.1 1002.2h2.2v1h-2.2zM1086.5 991.5h2.2v5.3h-2.2zM1088.9 1000.8h2.2v2.2h-2.2zM1091.3 1000.6h2.2v2.1h-2.2zM1093.7 998.3h2.2v2.7h-2.2zM1096.1 1002.7h2.2v0.9h-2.2zM1098.5 1002.3h2.2v1h-2.2zM1100.9 1000.4h2.2v2.5h-2.2zM1103.3 998.3h2.2v2.8h-2.2zM1105.7 1001.7h2.2v1.2h-2.2zM1108.1 999.6h2.2v2.6h-2.2zM1110.5 1001h2.2v1.9h-2.2zM1112.8 1001.7h2.2v1.8h-2.2zM1115.2 1001.4h2.2v1.4h-2.2zM1117.6 1000.4h2.2v2.3h-2.2zM1120 1002.5h2.2v1h-2.2zM1122.4 999.5h2.2v2.3h-2.2zM1124.8 999.9h2.2v2.3h-2.2zM1127.2 999.9h2.2v2.2h-2.2zM1129.6 1001.8h2.2v1.4h-2.2zM1132 1000.2h2.2v1.9h-2.2zM1134.4 1000.4h2.2v2.6h-2.2zM1136.8 1000.7h2.2v1.9h-2.2zM1139.2 1001.1h2.2v1.8h-2.2zM1141.6 999.8h2.2v2.3h-2.2zM1144 1000h2.2v2.5h-2.2zM1146.4 999.6h2.2v2.4h-2.2zM1148.8 999.1h2.2v2.8h-2.2zM1151.1 997.9h2.2v3h-2.2zM1153.5 999.3h2.2v2.5h-2.2zM1155.9 985.7h2.2v10.2h-2.2zM1158.3 999.9h2.2v2.3h-2.2zM1160.7 993.2h2.2v5.1h-2.2zM1163.1 1000.4h2.2v2.6h-2.2zM1165.5 1002.2h2.2v1.2h-2.2zM1167.9 1002h2.2v1.3h-2.2zM1170.3 1002.7h2.2v1.2h-2.2zM1172.7 999.7h2.2v2.7h-2.2zM1175.1 999.2h2.2v3.2h-2.2zM1177.5 1001.1h2.2v1.8h-2.2zM1179.9 1000.6h2.2v1.8h-2.2zM1182.3 1002.8h2.2v1.1h-2.2zM1184.7 998.4h2.2v2.8h-2.2zM1187.1 991.5h2.2v6.2h-2.2zM1189.4 1002.5h2.2v1.3h-2.2zM1191.8 1000.6h2.2v1.8h-2.2zM1194.2 1001.2h2.2v1.7h-2.2zM1196.6 998.5h2.2v3h-2.2zM1199 1000.7h2.2v1.7h-2.2zM1201.4 1000.5h2.2v1.8h-2.2zM1203.8 999.9h2.2v2.4h-2.2zM1206.2 997.6h2.2v3.4h-2.2zM1208.6 999.4h2.2v2.7h-2.2zM1211 1002h2.2v1.2h-2.2zM1213.4 1001.4h2.2v1.4h-2.2zM1215.8 1000.6h2.2v1.7h-2.2zM1218.2 994.4h2.2v5.3h-2.2zM1220.6 999.1h2.2v3h-2.2zM1223 998.1h2.2v3.1h-2.2zM1225.4 1001.1h2.2v1.6h-2.2zM1227.7 996.8h2.2v3.8h-2.2zM1230.1 1001.8h2.2v1.3h-2.2zM1232.5 1001.9h2.2v1.7h-2.2zM1234.9 993.2h2.2v5.4h-2.2zM1237.3 1001h2.2v1.8h-2.2zM1239.7 997.1h2.2v3.4h-2.2zM1242.1 1001.7h2.2v1.7h-2.2zM1244.5 1001.7h2.2v1.6h-2.2zM1246.9 1001.4h2.2v1.6h-2.2zM1249.3 1002.7h2.2v1.1h-2.2zM1251.7 999.4h2.2v2.6h-2.2zM1254.1 1002.8h2.2v1.1h-2.2zM1256.5 1000.6h2.2v2h-2.2zM1258.9 1001h2.2v2h-2.2zM1261.3 1001.3h2.2v1.9h-2.2zM1263.7 1001.7h2.2v1.8h-2.2zM1266 999.7h2.2v2.6h-2.2zM1268.4 1001.7h2.2v1.3h-2.2zM1270.8 1002.3h2.2v1.3h-2.2zM1273.2 1000.9h2.2v2.2h-2.2zM1275.6 1000.6h2.2v2.4h-2.2zM1278 1001.9h2.2v1.3h-2.2zM1280.4 997.4h2.2v3.3h-2.2zM1282.8 999.1h2.2v2.6h-2.2zM1285.2 1002.6h2.2v1.3h-2.2zM1287.6 1000.4h2.2v2h-2.2zM1290 1002.3h2.2v1h-2.2zM1292.4 982.8h2.2v10.8h-2.2zM1294.8 1002.2h2.2v1.6h-2.2zM1297.2 1002.4h2.2v1.5h-2.2zM1299.6 993.2h2.2v5.1h-2.2zM1302 996.6h2.2v4.1h-2.2zM1304.4 1001.6h2.2v1.6h-2.2zM1306.7 999.3h2.2v3.2h-2.2zM1309.1 997.3h2.2v3.5h-2.2zM1311.5 1000.9h2.2v1.9h-2.2zM1313.9 1000.5h2.2v2.1h-2.2zM1316.3 1001.9h2.2v1.5h-2.2zM1318.7 1002.3h2.2v1.3h-2.2zM1321.1 997.1h2.2v3.4h-2.2zM1323.5 997.4h2.2v3.4h-2.2zM1325.9 999.6h2.2v2.5h-2.2zM1328.3 1001.9h2.2v1.5h-2.2zM1330.7 1001.6h2.2v1.9h-2.2zM1333.1 997.2h2.2v4.2h-2.2zM1335.5 999.2h2.2v3h-2.2zM1337.9 1002.4h2.2v1.2h-2.2zM1340.3 996.8h2.2v3.7h-2.2zM1342.7 1001.5h2.2v1.8h-2.2zM1345 1000.5h2.2v2.2h-2.2zM1347.4 1002.3h2.2v1.2h-2.2zM1349.8 999.8h2.2v2.1h-2.2zM1352.2 1000.9h2.2v1.9h-2.2zM1354.6 1001.3h2.2v2h-2.2zM1357 1001.1h2.2v2.2h-2.2zM1359.4 999.4h2.2v2.4h-2.2zM1361.8 998.9h2.2v2.5h-2.2zM1364.2 997.9h2.2v3.4h-2.2zM1366.6 997.4h2.2v4h-2.2zM1369 996.8h2.2v3.4h-2.2zM1371.4 996.2h2.2v1.6h-2.2zM1373.8 968.4h2.2v4.3h-2.2zM1376.2 976.2h2.2v3.4h-2.2zM1388.1 996.3h2.2v1.5h-2.2zM1409.7 997.2h2.2v1.4h-2.2zM1433.6 994.4h2.2v1.8h-2.2zM1445.6 995.6h2.2v1.7h-2.2zM1448 996.2h2.2v1.6h-2.2zM1457.6 953.8h2.2v5.9h-2.2zM1459.9 994.4h2.2v1.8h-2.2zM1464.7 992.1h2.2v2.2h-2.2zM1519.8 996.7h2.2v1.5h-2.2zM1529.4 996.1h2.2v1.6h-2.2zM1558.1 996.9h2.2v1.5h-2.2zM1577.2 996.2h2.2v1.6h-2.2zM1589.2 996.1h2.2v1.6h-2.2zM1601.2 991.5h2.2v2.3h-2.2zM1610.8 987.4h2.2v2.9h-2.2zM1670.6 992.1h2.2v2.2h-2.2zM1680.2 996.7h2.2v1.5h-2.2zM1701.7 996.5h2.2v1.5h-2.2zM1735.2 997.2h2.2v1.4h-2.2zM1742.4 990.9h2.2v2.4h-2.2zM1752 995.6h2.2v1.7h-2.2zM1768.7 996.3h2.2v1.6h-2.2zM1778.3 997.1h2.2v1.4h-2.2zM1780.7 979.9h2.2v3h-2.2zM1785.5 987.4h2.2v2.9h-2.2z" fill="#211c5a"/>
<path d="M1371.4 1001.1h2.2v4h-2.2zM1373.8 977.6h2.2v23.9h-2.2zM1376.2 983.5h2.2v18.9h-2.2zM1378.6 1003.2h2.2v1.7h-2.2zM1381 1003.7h2.2v1.4h-2.2zM1383.3 1003.6h2.2v1.4h-2.2zM1385.7 1004h2.2v1.2h-2.2zM1388.1 1001.2h2.2v4h-2.2zM1390.5 1004h2.2v1.2h-2.2zM1392.9 1004h2.2v1.2h-2.2zM1395.3 1004.7h2.2v0.9h-2.2zM1397.7 1004.9h2.2v0.8h-2.2zM1400.1 1004.8h2.2v0.8h-2.2zM1402.5 1003.6h2.2v1.5h-2.2zM1404.9 1004.5h2.2v1h-2.2zM1407.3 1004.5h2.2v1h-2.2zM1409.7 1001.6h2.2v3.6h-2.2zM1412.1 1004.6h2.2v0.9h-2.2zM1414.5 1003.6h2.2v1.4h-2.2zM1416.9 1004.3h2.2v1.1h-2.2zM1419.3 1003.9h2.2v1.3h-2.2zM1421.6 1003.9h2.2v1.3h-2.2zM1424 1004.8h2.2v0.8h-2.2zM1426.4 1003.6h2.2v1.5h-2.2zM1428.8 1003.4h2.2v1.6h-2.2zM1431.2 1004.8h2.2v0.8h-2.2zM1433.6 1000.2h2.2v4.7h-2.2zM1436 1004.8h2.2v0.8h-2.2zM1438.4 1004.8h2.2v0.8h-2.2zM1440.8 1004.8h2.2v0.8h-2.2zM1443.2 1004.3h2.2v1h-2.2zM1445.6 1000.8h2.2v4.3h-2.2zM1448 1001.1h2.2v4h-2.2zM1450.4 1004.2h2.2v1.1h-2.2zM1452.8 1003.2h2.2v1.7h-2.2zM1455.2 1003.5h2.2v1.6h-2.2zM1457.6 966.6h2.2v33.2h-2.2zM1459.9 1000.2h2.2v4.7h-2.2zM1462.3 1003.6h2.2v1.5h-2.2zM1464.7 999h2.2v5.7h-2.2zM1467.1 1004.1h2.2v1.2h-2.2zM1469.5 1004.1h2.2v1.2h-2.2zM1471.9 1003.7h2.2v1.4h-2.2zM1474.3 1004.3h2.2v1.1h-2.2zM1476.7 1003.6h2.2v1.5h-2.2zM1479.1 1003.5h2.2v1.6h-2.2zM1481.5 1003.9h2.2v1.3h-2.2zM1483.9 1003.5h2.2v1.6h-2.2zM1486.3 1004.8h2.2v0.8h-2.2zM1488.7 1004.8h2.2v0.8h-2.2zM1491.1 1004.1h2.2v1.2h-2.2zM1493.5 1004.8h2.2v0.8h-2.2zM1495.9 1003.8h2.2v1.4h-2.2zM1498.2 1004.5h2.2v1h-2.2zM1500.6 1004.8h2.2v0.8h-2.2zM1503 1004.5h2.2v1h-2.2zM1505.4 1004.1h2.2v1.2h-2.2zM1507.8 1004h2.2v1.2h-2.2zM1510.2 1004.1h2.2v1.2h-2.2zM1512.6 1003.8h2.2v1.4h-2.2zM1515 1003.6h2.2v1.5h-2.2zM1517.4 1004h2.2v1.3h-2.2zM1519.8 1001.4h2.2v3.8h-2.2zM1522.2 1003.7h2.2v1.4h-2.2zM1524.6 1004.7h2.2v0.9h-2.2zM1527 1004h2.2v1.2h-2.2zM1529.4 1001.1h2.2v4h-2.2zM1531.8 1003.1h2.2v1.7h-2.2zM1534.2 1003.8h2.2v1.4h-2.2zM1536.5 1003h2.2v1.8h-2.2zM1538.9 1003.6h2.2v1.5h-2.2zM1541.3 1004.6h2.2v0.9h-2.2zM1543.7 1004.4h2.2v1h-2.2zM1546.1 1004.9h2.2v0.7h-2.2zM1548.5 1003.8h2.2v1.4h-2.2zM1550.9 1004.8h2.2v0.8h-2.2zM1553.3 1004.7h2.2v0.9h-2.2zM1555.7 1004.3h2.2v1.1h-2.2zM1558.1 1001.5h2.2v3.7h-2.2zM1560.5 1004.5h2.2v1h-2.2zM1562.9 1004.3h2.2v1.1h-2.2zM1565.3 1004.3h2.2v1.1h-2.2zM1567.7 1003.6h2.2v1.4h-2.2zM1570.1 1003.6h2.2v1.5h-2.2zM1572.5 1004.7h2.2v0.8h-2.2zM1574.9 1003.3h2.2v1.6h-2.2zM1577.2 1001.1h2.2v4h-2.2zM1579.6 1004.1h2.2v1.2h-2.2zM1582 1003.7h2.2v1.4h-2.2zM1584.4 1003h2.2v1.8h-2.2zM1586.8 1004.6h2.2v0.9h-2.2zM1589.2 1001.1h2.2v4h-2.2zM1591.6 1004.6h2.2v0.9h-2.2zM1594 1004.6h2.2v0.9h-2.2zM1596.4 1003.8h2.2v1.4h-2.2zM1598.8 1004.1h2.2v1.2h-2.2zM1601.2 998.8h2.2v5.9h-2.2zM1603.6 1003.2h2.2v1.7h-2.2zM1606 1003.6h2.2v1.4h-2.2zM1608.4 1003.9h2.2v1.3h-2.2zM1610.8 996.7h2.2v7.5h-2.2zM1613.2 1004.5h2.2v1h-2.2zM1615.5 1003.7h2.2v1.4h-2.2zM1617.9 1003.8h2.2v1.3h-2.2zM1620.3 1004.9h2.2v0.7h-2.2zM1622.7 1003.1h2.2v1.8h-2.2zM1625.1 1004.4h2.2v1h-2.2zM1627.5 1004.8h2.2v0.8h-2.2zM1629.9 1004.4h2.2v1h-2.2zM1632.3 1004h2.2v1.3h-2.2zM1634.7 1003.6h2.2v1.5h-2.2zM1637.1 1003.7h2.2v1.4h-2.2zM1639.5 1004h2.2v1.2h-2.2zM1641.9 1003.8h2.2v1.3h-2.2zM1644.3 1004.1h2.2v1.2h-2.2zM1646.7 1004.2h2.2v1.1h-2.2zM1649.1 1003.8h2.2v1.4h-2.2zM1651.5 1004.4h2.2v1h-2.2zM1653.8 1003.9h2.2v1.3h-2.2zM1656.2 1004.5h2.2v1h-2.2zM1658.6 1004.5h2.2v0.9h-2.2zM1661 1004.8h2.2v0.8h-2.2zM1663.4 1004h2.2v1.2h-2.2zM1665.8 1003.7h2.2v1.4h-2.2zM1668.2 1003.8h2.2v1.4h-2.2zM1670.6 999h2.2v5.7h-2.2zM1673 1004.2h2.2v1.1h-2.2zM1675.4 1004.6h2.2v0.9h-2.2zM1677.8 1004.2h2.2v1.1h-2.2zM1680.2 1001.4h2.2v3.8h-2.2zM1682.6 1004.6h2.2v0.9h-2.2zM1685 1003.7h2.2v1.4h-2.2zM1687.4 1003.2h2.2v1.7h-2.2zM1689.8 1004.7h2.2v0.8h-2.2zM1692.1 1004.2h2.2v1.2h-2.2zM1694.5 1004.4h2.2v1h-2.2zM1696.9 1004.6h2.2v0.9h-2.2zM1699.3 1004.5h2.2v0.9h-2.2zM1701.7 1001.3h2.2v3.9h-2.2zM1704.1 1004h2.2v1.2h-2.2zM1706.5 1003.6h2.2v1.5h-2.2zM1708.9 1004.1h2.2v1.2h-2.2zM1711.3 1003.7h2.2v1.4h-2.2zM1713.7 1004.3h2.2v1.1h-2.2zM1716.1 1004.2h2.2v1.1h-2.2zM1718.5 1004.5h2.2v1h-2.2zM1720.9 1004.1h2.2v1.2h-2.2zM1723.3 1003.6h2.2v1.5h-2.2zM1725.7 1004.7h2.2v0.8h-2.2zM1728.1 1003.1h2.2v1.8h-2.2zM1730.4 1004.6h2.2v0.9h-2.2zM1732.8 1004h2.2v1.2h-2.2zM1735.2 1001.6h2.2v3.6h-2.2zM1737.6 1004.2h2.2v1.1h-2.2zM1740 1003.6h2.2v1.5h-2.2zM1742.4 998.5h2.2v6.1h-2.2zM1744.8 1003.7h2.2v1.4h-2.2zM1747.2 1004h2.2v1.3h-2.2zM1749.6 1003.2h2.2v1.7h-2.2zM1752 1000.8h2.2v4.3h-2.2zM1754.4 1003.7h2.2v1.4h-2.2zM1756.8 1003.1h2.2v1.8h-2.2zM1759.2 1003.9h2.2v1.3h-2.2zM1761.6 1003.8h2.2v1.4h-2.2zM1764 1003.9h2.2v1.3h-2.2zM1766.4 1003.6h2.2v1.5h-2.2zM1768.7 1001.1h2.2v4h-2.2zM1771.1 1003.7h2.2v1.4h-2.2zM1773.5 1004.6h2.2v0.9h-2.2zM1775.9 1004.3h2.2v1.1h-2.2zM1778.3 1001.6h2.2v3.7h-2.2zM1780.7 986.3h2.2v16.6h-2.2zM1783.1 1003.4h2.2v1.6h-2.2zM1785.5 996.7h2.2v7.5h-2.2zM1787.9 1004h2.2v1.3h-2.2zM1790.3 1003.6h2.2v1.5h-2.2zM1792.7 1004.8h2.2v0.8h-2.2zM1795.1 1003.9h2.2v1.3h-2.2zM1797.5 1004.7h2.2v0.8h-2.2zM1799.9 1004.4h2.2v1h-2.2zM1802.3 1003.7h2.2v1.4h-2.2zM1804.7 1004.5h2.2v1h-2.2zM1807 1004h2.2v1.3h-2.2zM1809.4 1004.1h2.2v1.2h-2.2zM1811.8 1004.4h2.2v1h-2.2zM1814.2 1003.2h2.2v1.7h-2.2zM1816.6 1004.3h2.2v1.1h-2.2zM1819 1004h2.2v1.3h-2.2zM1821.4 1003.5h2.2v1.5h-2.2zM1823.8 1004.3h2.2v1.1h-2.2z" fill="#a02a4a"/>
<path d="M1371.4 997.7h2.2v3.5h-2.2zM1373.8 972.6h2.2v5.1h-2.2zM1376.2 979.6h2.2v4.1h-2.2zM1378.6 999.3h2.2v4.1h-2.2zM1381 1000.3h2.2v3.4h-2.2zM1383.3 1000.3h2.2v3.5h-2.2zM1385.7 1001.1h2.2v3h-2.2zM1388.1 997.8h2.2v3.5h-2.2zM1390.5 1001.1h2.2v3h-2.2zM1392.9 1001.1h2.2v3h-2.2zM1395.3 1002.8h2.2v2h-2.2zM1397.7 1003.2h2.2v1.7h-2.2zM1400.1 1003h2.2v1.8h-2.2zM1402.5 1000.2h2.2v3.5h-2.2zM1404.9 1002.3h2.2v2.3h-2.2zM1407.3 1002.4h2.2v2.2h-2.2zM1409.7 998.5h2.2v3.2h-2.2zM1412.1 1002.5h2.2v2.1h-2.2zM1414.5 1000.3h2.2v3.5h-2.2zM1416.9 1001.9h2.2v2.5h-2.2zM1419.3 1000.8h2.2v3.2h-2.2zM1421.6 1000.8h2.2v3.2h-2.2zM1424 1003.1h2.2v1.8h-2.2zM1426.4 1000.1h2.2v3.6h-2.2zM1428.8 999.7h2.2v3.8h-2.2zM1431.2 1003.1h2.2v1.8h-2.2zM1433.6 996.1h2.2v4.2h-2.2zM1436 1003.1h2.2v1.8h-2.2zM1438.4 1003.1h2.2v1.8h-2.2zM1440.8 1003.1h2.2v1.8h-2.2zM1443.2 1002h2.2v2.5h-2.2zM1445.6 997.1h2.2v3.8h-2.2zM1448 997.7h2.2v3.5h-2.2zM1450.4 1001.7h2.2v2.7h-2.2zM1452.8 999.1h2.2v4.1h-2.2zM1455.2 999.8h2.2v3.7h-2.2zM1457.6 959.6h2.2v7.1h-2.2zM1459.9 996.1h2.2v4.2h-2.2zM1462.3 1000.1h2.2v3.5h-2.2zM1464.7 994.2h2.2v5h-2.2zM1467.1 1001.5h2.2v2.8h-2.2zM1469.5 1001.3h2.2v2.9h-2.2zM1471.9 1000.4h2.2v3.4h-2.2zM1474.3 1001.8h2.2v2.5h-2.2zM1476.7 1000.1h2.2v3.6h-2.2zM1479.1 999.8h2.2v3.7h-2.2zM1481.5 1000.8h2.2v3.2h-2.2zM1483.9 999.8h2.2v3.7h-2.2zM1486.3 1003h2.2v1.8h-2.2zM1488.7 1003h2.2v1.9h-2.2zM1491.1 1001.4h2.2v2.8h-2.2zM1493.5 1003.1h2.2v1.8h-2.2zM1495.9 1000.7h2.2v3.2h-2.2zM1498.2 1002.4h2.2v2.2h-2.2zM1500.6 1003h2.2v1.9h-2.2zM1503 1002.3h2.2v2.3h-2.2zM1505.4 1001.5h2.2v2.7h-2.2zM1507.8 1001.2h2.2v2.9h-2.2zM1510.2 1001.4h2.2v2.8h-2.2zM1512.6 1000.7h2.2v3.2h-2.2zM1515 1000.2h2.2v3.5h-2.2zM1517.4 1001h2.2v3h-2.2zM1519.8 998.1h2.2v3.3h-2.2zM1522.2 1000.4h2.2v3.4h-2.2zM1524.6 1002.7h2.2v2h-2.2zM1527 1001.1h2.2v3h-2.2zM1529.4 997.6h2.2v3.6h-2.2zM1531.8 999h2.2v4.2h-2.2zM1534.2 1000.7h2.2v3.2h-2.2zM1536.5 998.6h2.2v4.5h-2.2zM1538.9 1000.2h2.2v3.5h-2.2zM1541.3 1002.5h2.2v2.1h-2.2zM1543.7 1002.1h2.2v2.4h-2.2zM1546.1 1003.2h2.2v1.7h-2.2zM1548.5 1000.6h2.2v3.3h-2.2zM1550.9 1003h2.2v1.9h-2.2zM1553.3 1002.7h2.2v2h-2.2zM1555.7 1001.9h2.2v2.5h-2.2zM1558.1 998.3h2.2v3.3h-2.2zM1560.5 1002.3h2.2v2.3h-2.2zM1562.9 1001.8h2.2v2.6h-2.2zM1565.3 1001.9h2.2v2.5h-2.2zM1567.7 1000.3h2.2v3.5h-2.2zM1570.1 1000.2h2.2v3.5h-2.2zM1572.5 1003h2.2v1.9h-2.2zM1574.9 999.5h2.2v3.9h-2.2zM1577.2 997.7h2.2v3.5h-2.2zM1579.6 1001.4h2.2v2.8h-2.2zM1582 1000.5h2.2v3.4h-2.2zM1584.4 998.6h2.2v4.5h-2.2zM1586.8 1002.6h2.2v2.1h-2.2zM1589.2 997.6h2.2v3.6h-2.2zM1591.6 1002.5h2.2v2.2h-2.2zM1594 1002.5h2.2v2.2h-2.2zM1596.4 1000.6h2.2v3.3h-2.2zM1598.8 1001.3h2.2v2.9h-2.2zM1601.2 993.7h2.2v5.2h-2.2zM1603.6 999.3h2.2v4.1h-2.2zM1606 1000.3h2.2v3.5h-2.2zM1608.4 1001h2.2v3h-2.2zM1610.8 990.2h2.2v6.6h-2.2zM1613.2 1002.3h2.2v2.3h-2.2zM1615.5 1000.5h2.2v3.3h-2.2zM1617.9 1000.7h2.2v3.2h-2.2zM1620.3 1003.3h2.2v1.7h-2.2zM1622.7 998.9h2.2v4.3h-2.2zM1625.1 1002h2.2v2.4h-2.2zM1627.5 1003.2h2.2v1.7h-2.2zM1629.9 1002.1h2.2v2.4h-2.2zM1632.3 1001h2.2v3h-2.2zM1634.7 1000.1h2.2v3.5h-2.2zM1637.1 1000.3h2.2v3.4h-2.2zM1639.5 1001.1h2.2v3h-2.2zM1641.9 1000.7h2.2v3.2h-2.2zM1644.3 1001.4h2.2v2.8h-2.2zM1646.7 1001.6h2.2v2.7h-2.2zM1649.1 1000.6h2.2v3.3h-2.2zM1651.5 1002.1h2.2v2.4h-2.2zM1653.8 1000.9h2.2v3.1h-2.2zM1656.2 1002.3h2.2v2.3h-2.2zM1658.6 1002.4h2.2v2.2h-2.2zM1661 1003.1h2.2v1.8h-2.2zM1663.4 1001.1h2.2v3h-2.2zM1665.8 1000.4h2.2v3.4h-2.2zM1668.2 1000.6h2.2v3.3h-2.2zM1670.6 994.2h2.2v5h-2.2zM1673 1001.6h2.2v2.7h-2.2zM1675.4 1002.5h2.2v2.1h-2.2zM1677.8 1001.5h2.2v2.7h-2.2zM1680.2 998.1h2.2v3.3h-2.2zM1682.6 1002.7h2.2v2h-2.2zM1685 1000.4h2.2v3.4h-2.2zM1687.4 999.1h2.2v4.2h-2.2zM1689.8 1002.9h2.2v1.9h-2.2zM1692.1 1001.5h2.2v2.7h-2.2zM1694.5 1002.1h2.2v2.4h-2.2zM1696.9 1002.6h2.2v2.1h-2.2zM1699.3 1002.4h2.2v2.2h-2.2zM1701.7 997.9h2.2v3.4h-2.2zM1704.1 1001.3h2.2v2.9h-2.2zM1706.5 1000.1h2.2v3.6h-2.2zM1708.9 1001.5h2.2v2.8h-2.2zM1711.3 1000.5h2.2v3.4h-2.2zM1713.7 1002h2.2v2.5h-2.2zM1716.1 1001.6h2.2v2.7h-2.2zM1718.5 1002.3h2.2v2.3h-2.2zM1720.9 1001.3h2.2v2.8h-2.2zM1723.3 1000.2h2.2v3.5h-2.2zM1725.7 1002.9h2.2v1.9h-2.2zM1728.1 998.9h2.2v4.3h-2.2zM1730.4 1002.7h2.2v2.1h-2.2zM1732.8 1001.2h2.2v2.9h-2.2zM1735.2 998.5h2.2v3.2h-2.2zM1737.6 1001.7h2.2v2.6h-2.2zM1740 1000.2h2.2v3.5h-2.2zM1742.4 993.2h2.2v5.4h-2.2zM1744.8 1000.3h2.2v3.4h-2.2zM1747.2 1001.1h2.2v3h-2.2zM1749.6 999.3h2.2v4h-2.2zM1752 997.1h2.2v3.8h-2.2zM1754.4 1000.5h2.2v3.3h-2.2zM1756.8 998.9h2.2v4.3h-2.2zM1759.2 1000.9h2.2v3.1h-2.2zM1761.6 1000.7h2.2v3.2h-2.2zM1764 1001h2.2v3h-2.2zM1766.4 1000.2h2.2v3.5h-2.2zM1768.7 997.7h2.2v3.5h-2.2zM1771.1 1000.5h2.2v3.3h-2.2zM1773.5 1002.6h2.2v2.1h-2.2zM1775.9 1001.8h2.2v2.6h-2.2zM1778.3 998.4h2.2v3.2h-2.2zM1780.7 982.8h2.2v3.6h-2.2zM1783.1 999.6h2.2v3.9h-2.2zM1785.5 990.2h2.2v6.6h-2.2zM1787.9 1001.1h2.2v3h-2.2zM1790.3 1000.2h2.2v3.5h-2.2zM1792.7 1003.1h2.2v1.8h-2.2zM1795.1 1001h2.2v3.1h-2.2zM1797.5 1002.9h2.2v1.9h-2.2zM1799.9 1002.2h2.2v2.4h-2.2zM1802.3 1000.3h2.2v3.4h-2.2zM1804.7 1002.4h2.2v2.2h-2.2zM1807 1001.1h2.2v3h-2.2zM1809.4 1001.4h2.2v2.8h-2.2zM1811.8 1002.2h2.2v2.3h-2.2zM1814.2 999.2h2.2v4.1h-2.2zM1816.6 1001.9h2.2v2.5h-2.2zM1819 1001.1h2.2v3h-2.2zM1821.4 1000h2.2v3.7h-2.2zM1823.8 1001.8h2.2v2.6h-2.2z" fill="#3f8a45"/>
<path d="M1373.8 964.2h2.2v4.3h-2.2zM1376.2 972.9h2.2v3.4h-2.2zM1457.6 948h2.2v5.9h-2.2zM1780.7 977h2.2v3h-2.2z" fill="#55a5a0"/>
<path d="M1378.6 998.1h2.2v1.3h-2.2zM1381 999.3h2.2v1.1h-2.2zM1383.3 999.3h2.2v1.1h-2.2zM1385.7 1000.3h2.2v1h-2.2zM1390.5 1000.3h2.2v1h-2.2zM1392.9 1000.3h2.2v1h-2.2zM1395.3 1002.2h2.2v0.7h-2.2zM1397.7 1002.7h2.2v0.6h-2.2zM1400.1 1002.5h2.2v0.6h-2.2zM1402.5 999.1h2.2v1.1h-2.2zM1404.9 1001.6h2.2v0.8h-2.2zM1407.3 1001.7h2.2v0.7h-2.2zM1412.1 1001.9h2.2v0.7h-2.2zM1414.5 999.3h2.2v1.1h-2.2zM1416.9 1001.2h2.2v0.8h-2.2zM1419.3 999.9h2.2v1h-2.2zM1421.6 999.9h2.2v1h-2.2zM1424 1002.6h2.2v0.6h-2.2zM1426.4 999.1h2.2v1.1h-2.2zM1428.8 998.6h2.2v1.2h-2.2zM1431.2 1002.5h2.2v0.6h-2.2zM1436 1002.6h2.2v0.6h-2.2zM1438.4 1002.6h2.2v0.6h-2.2zM1440.8 1002.6h2.2v0.6h-2.2zM1443.2 1001.3h2.2v0.8h-2.2zM1450.4 1000.9h2.2v0.9h-2.2zM1452.8 997.9h2.2v1.3h-2.2zM1455.2 998.7h2.2v1.2h-2.2zM1462.3 999.1h2.2v1.1h-2.2zM1467.1 1000.7h2.2v0.9h-2.2zM1469.5 1000.5h2.2v0.9h-2.2zM1471.9 999.4h2.2v1.1h-2.2zM1474.3 1001.1h2.2v0.8h-2.2zM1476.7 999.1h2.2v1.1h-2.2zM1479.1 998.7h2.2v1.2h-2.2zM1481.5 999.9h2.2v1h-2.2zM1483.9 998.7h2.2v1.2h-2.2zM1486.3 1002.5h2.2v0.6h-2.2zM1488.7 1002.5h2.2v0.6h-2.2zM1491.1 1000.6h2.2v0.9h-2.2zM1493.5 1002.6h2.2v0.6h-2.2zM1495.9 999.7h2.2v1h-2.2zM1498.2 1001.7h2.2v0.7h-2.2zM1500.6 1002.4h2.2v0.6h-2.2zM1503 1001.6h2.2v0.8h-2.2zM1505.4 1000.7h2.2v0.9h-2.2zM1507.8 1000.3h2.2v0.9h-2.2zM1510.2 1000.6h2.2v0.9h-2.2zM1512.6 999.7h2.2v1h-2.2zM1515 999.2h2.2v1.1h-2.2zM1517.4 1000.2h2.2v1h-2.2zM1522.2 999.4h2.2v1.1h-2.2zM1524.6 1002.2h2.2v0.7h-2.2zM1527 1000.3h2.2v1h-2.2zM1531.8 997.8h2.2v1.3h-2.2zM1534.2 999.7h2.2v1h-2.2zM1536.5 997.3h2.2v1.4h-2.2zM1538.9 999.2h2.2v1.1h-2.2zM1541.3 1001.9h2.2v0.7h-2.2zM1543.7 1001.4h2.2v0.8h-2.2zM1546.1 1002.8h2.2v0.6h-2.2zM1548.5 999.7h2.2v1h-2.2zM1550.9 1002.5h2.2v0.6h-2.2zM1553.3 1002.2h2.2v0.7h-2.2zM1555.7 1001.1h2.2v0.8h-2.2zM1560.5 1001.6h2.2v0.8h-2.2zM1562.9 1001.1h2.2v0.8h-2.2zM1565.3 1001.1h2.2v0.8h-2.2zM1567.7 999.3h2.2v1.1h-2.2zM1570.1 999.2h2.2v1.1h-2.2zM1572.5 1002.4h2.2v0.6h-2.2zM1574.9 998.3h2.2v1.3h-2.2zM1579.6 1000.6h2.2v0.9h-2.2zM1582 999.5h2.2v1.1h-2.2zM1584.4 997.3h2.2v1.4h-2.2zM1586.8 1002.1h2.2v0.7h-2.2zM1591.6 1001.9h2.2v0.7h-2.2zM1594 1001.9h2.2v0.7h-2.2zM1596.4 999.6h2.2v1.1h-2.2zM1598.8 1000.5h2.2v0.9h-2.2zM1603.6 998.1h2.2v1.3h-2.2zM1606 999.3h2.2v1.1h-2.2zM1608.4 1000.1h2.2v1h-2.2zM1613.2 1001.6h2.2v0.8h-2.2zM1615.5 999.6h2.2v1.1h-2.2zM1617.9 999.8h2.2v1h-2.2zM1620.3 1002.8h2.2v0.6h-2.2zM1622.7 997.7h2.2v1.3h-2.2zM1625.1 1001.3h2.2v0.8h-2.2zM1627.5 1002.7h2.2v0.6h-2.2zM1629.9 1001.4h2.2v0.8h-2.2zM1632.3 1000.2h2.2v1h-2.2zM1634.7 999.1h2.2v1.1h-2.2zM1637.1 999.3h2.2v1.1h-2.2zM1639.5 1000.3h2.2v1h-2.2zM1641.9 999.8h2.2v1h-2.2zM1644.3 1000.6h2.2v0.9h-2.2zM1646.7 1000.8h2.2v0.9h-2.2zM1649.1 999.6h2.2v1.1h-2.2zM1651.5 1001.5h2.2v0.8h-2.2zM1653.8 999.9h2.2v1h-2.2zM1656.2 1001.7h2.2v0.8h-2.2zM1658.6 1001.8h2.2v0.7h-2.2zM1661 1002.5h2.2v0.6h-2.2zM1663.4 1000.3h2.2v1h-2.2zM1665.8 999.4h2.2v1.1h-2.2zM1668.2 999.6h2.2v1.1h-2.2zM1673 1000.9h2.2v0.9h-2.2zM1675.4 1001.9h2.2v0.7h-2.2zM1677.8 1000.8h2.2v0.9h-2.2zM1682.6 1002.1h2.2v0.7h-2.2zM1685 999.4h2.2v1.1h-2.2zM1687.4 997.9h2.2v1.3h-2.2zM1689.8 1002.4h2.2v0.6h-2.2zM1692.1 1000.7h2.2v0.9h-2.2zM1694.5 1001.4h2.2v0.8h-2.2zM1696.9 1002h2.2v0.7h-2.2zM1699.3 1001.8h2.2v0.7h-2.2zM1704.1 1000.4h2.2v0.9h-2.2zM1706.5 999.1h2.2v1.1h-2.2zM1708.9 1000.7h2.2v0.9h-2.2zM1711.3 999.5h2.2v1.1h-2.2zM1713.7 1001.2h2.2v0.8h-2.2zM1716.1 1000.8h2.2v0.9h-2.2zM1718.5 1001.7h2.2v0.7h-2.2zM1720.9 1000.5h2.2v0.9h-2.2zM1723.3 999.2h2.2v1.1h-2.2zM1725.7 1002.4h2.2v0.6h-2.2zM1728.1 997.6h2.2v1.4h-2.2zM1730.4 1002.1h2.2v0.7h-2.2zM1732.8 1000.4h2.2v0.9h-2.2zM1737.6 1001h2.2v0.9h-2.2zM1740 999.2h2.2v1.1h-2.2zM1744.8 999.3h2.2v1.1h-2.2zM1747.2 1000.2h2.2v1h-2.2zM1749.6 998.1h2.2v1.3h-2.2zM1754.4 999.6h2.2v1.1h-2.2zM1756.8 997.6h2.2v1.4h-2.2zM1759.2 1000h2.2v1h-2.2zM1761.6 999.7h2.2v1h-2.2zM1764 1000.1h2.2v1h-2.2zM1766.4 999.2h2.2v1.1h-2.2zM1771.1 999.5h2.2v1.1h-2.2zM1773.5 1002h2.2v0.7h-2.2zM1775.9 1001.1h2.2v0.8h-2.2zM1783.1 998.5h2.2v1.2h-2.2zM1787.9 1000.2h2.2v1h-2.2zM1790.3 999.2h2.2v1.1h-2.2zM1792.7 1002.5h2.2v0.6h-2.2zM1795.1 1000.1h2.2v1h-2.2zM1797.5 1002.4h2.2v0.6h-2.2zM1799.9 1001.5h2.2v0.8h-2.2zM1802.3 999.3h2.2v1.1h-2.2zM1804.7 1001.7h2.2v0.7h-2.2zM1807 1000.2h2.2v1h-2.2zM1809.4 1000.6h2.2v0.9h-2.2zM1811.8 1001.5h2.2v0.8h-2.2zM1814.2 998h2.2v1.3h-2.2zM1816.6 1001.2h2.2v0.8h-2.2zM1819 1000.2h2.2v1h-2.2zM1821.4 998.9h2.2v1.2h-2.2zM1823.8 1001h2.2v0.8h-2.2z" fill="#9080b8"/>
<rect x="1779" y="947.5" width="47.5" height="59" fill="#000" fill-opacity="0.16" stroke="#7e7e7e" stroke-width="1"/>
<rect x="1014" y="947.5" width="812.5" height="59" fill="none" stroke="#878787" stroke-width="1"/>
<path d="M1988.2 1005.5h2.1v0.6h-2.1zM1990.6 1004.9h2.1v1.2h-2.1zM1993 1004.9h2.1v1.2h-2.1zM1995.4 1004.8h2.1v1.3h-2.1zM1997.7 1005.5h2.1v0.6h-2.1zM2000.1 1005.7h2.1v0.4h-2.1zM2002.5 1005.6h2.1v0.5h-2.1zM2004.9 1005.5h2.1v0.6h-2.1zM2007.3 1005.7h2.1v0.4h-2.1zM2009.7 1005.4h2.1v0.7h-2.1zM2012 1005.6h2.1v0.5h-2.1zM2014.4 1005.5h2.1v0.6h-2.1zM2016.8 1004.7h2.1v1.4h-2.1zM2019.2 1004.8h2.1v1.3h-2.1zM2021.6 1004.9h2.1v1.2h-2.1zM2024 1005.7h2.1v0.4h-2.1zM2026.4 1004.9h2.1v1.2h-2.1zM2028.7 1004.8h2.1v1.3h-2.1zM2031.1 1005.5h2.1v0.6h-2.1zM2033.5 1005.6h2.1v0.5h-2.1zM2035.9 1005.6h2.1v0.5h-2.1zM2038.3 1004.9h2.1v1.2h-2.1zM2040.7 1004.8h2.1v1.3h-2.1zM2043 1005.3h2.1v0.8h-2.1zM2045.4 1005.4h2.1v0.7h-2.1zM2047.8 1004.8h2.1v1.3h-2.1zM2050.2 1005.5h2.1v0.6h-2.1zM2052.6 1005.7h2.1v0.4h-2.1zM2055 1005.5h2.1v0.6h-2.1zM2057.3 1005.3h2.1v0.8h-2.1zM2059.7 1005.4h2.1v0.7h-2.1zM2062.1 1005.6h2.1v0.5h-2.1zM2064.5 1005.7h2.1v0.4h-2.1zM2066.9 1004.9h2.1v1.2h-2.1zM2069.3 1005.5h2.1v0.6h-2.1zM2071.7 1005.6h2.1v0.5h-2.1zM2074 1005.6h2.1v0.5h-2.1zM2076.4 1005.6h2.1v0.5h-2.1zM2078.8 1005.5h2.1v0.6h-2.1zM2081.2 1005.1h2.1v1h-2.1zM2083.6 1005.7h2.1v0.4h-2.1zM2086 1004.8h2.1v1.3h-2.1zM2088.3 1005.7h2.1v0.4h-2.1zM2090.7 1005.3h2.1v0.8h-2.1zM2093.1 1004.8h2.1v1.3h-2.1zM2095.5 1005.5h2.1v0.6h-2.1zM2097.9 1005.6h2.1v0.5h-2.1zM2100.3 1005.6h2.1v0.5h-2.1zM2102.7 1005.5h2.1v0.6h-2.1zM2105 1004.8h2.1v1.3h-2.1zM2107.4 1005.6h2.1v0.5h-2.1zM2109.8 1005.7h2.1v0.4h-2.1zM2112.2 1005.7h2.1v0.4h-2.1zM2114.6 1005.5h2.1v0.6h-2.1zM2117 1005.6h2.1v0.5h-2.1zM2119.3 1004.9h2.1v1.2h-2.1zM2121.7 1005.5h2.1v0.6h-2.1zM2124.1 1005.5h2.1v0.6h-2.1zM2126.5 1005.5h2.1v0.6h-2.1zM2128.9 1005.4h2.1v0.7h-2.1zM2131.3 1005.4h2.1v0.7h-2.1zM2133.6 1005h2.1v1.1h-2.1zM2136 1005.6h2.1v0.5h-2.1zM2138.4 1005.5h2.1v0.6h-2.1zM2140.8 1004.9h2.1v1.2h-2.1zM2143.2 1005.5h2.1v0.6h-2.1zM2145.6 1005.7h2.1v0.4h-2.1zM2148 1004.9h2.1v1.2h-2.1zM2150.3 1005.5h2.1v0.6h-2.1zM2152.7 1005.5h2.1v0.6h-2.1zM2155.1 1005.8h2.1v0.3h-2.1zM2157.5 1005.4h2.1v0.7h-2.1zM2159.9 1005.7h2.1v0.4h-2.1zM2162.3 1005.4h2.1v0.7h-2.1zM2164.6 1005.1h2.1v1h-2.1zM2167 1005.4h2.1v0.7h-2.1zM2169.4 1005.5h2.1v0.6h-2.1zM2171.8 1005.5h2.1v0.6h-2.1zM2174.2 1005.5h2.1v0.6h-2.1zM2176.6 1004.6h2.1v1.5h-2.1zM2178.9 1004.7h2.1v1.4h-2.1zM2181.3 1005.4h2.1v0.7h-2.1zM2183.7 1005.7h2.1v0.4h-2.1zM2186.1 1005.5h2.1v0.6h-2.1zM2188.5 1005.5h2.1v0.6h-2.1zM2190.9 1005.3h2.1v0.8h-2.1zM2193.3 1005.7h2.1v0.4h-2.1zM2195.6 1005.6h2.1v0.5h-2.1zM2198 1005.6h2.1v0.5h-2.1zM2200.4 1005.6h2.1v0.5h-2.1zM2202.8 1005.5h2.1v0.6h-2.1zM2205.2 1005.7h2.1v0.4h-2.1zM2207.6 1005.7h2.1v0.4h-2.1zM2209.9 1005.7h2.1v0.4h-2.1zM2212.3 1005.6h2.1v0.5h-2.1zM2214.7 1005.4h2.1v0.7h-2.1zM2217.1 1005.5h2.1v0.6h-2.1zM2219.5 1005.6h2.1v0.5h-2.1zM2221.9 1005.7h2.1v0.4h-2.1zM2224.3 1005.7h2.1v0.4h-2.1zM2226.6 1004.8h2.1v1.3h-2.1zM2229 1004.6h2.1v1.5h-2.1zM2231.4 1005.1h2.1v1h-2.1zM2233.8 1005.3h2.1v0.8h-2.1zM2236.2 1005.4h2.1v0.7h-2.1zM2238.6 1005.4h2.1v0.7h-2.1zM2240.9 1005.6h2.1v0.5h-2.1zM2243.3 1005.6h2.1v0.5h-2.1zM2245.7 1005.7h2.1v0.4h-2.1zM2248.1 1000.8h2.1v5.3h-2.1zM2250.5 1000.8h2.1v5.3h-2.1zM2252.9 1005.7h2.1v0.4h-2.1zM2255.2 1005.7h2.1v0.4h-2.1zM2257.6 1005.6h2.1v0.5h-2.1zM2260 1004.6h2.1v1.5h-2.1zM2262.4 1005.4h2.1v0.7h-2.1zM2264.8 1005.7h2.1v0.4h-2.1zM2267.2 1005.3h2.1v0.8h-2.1zM2269.6 1005.5h2.1v0.6h-2.1zM2271.9 1005.4h2.1v0.7h-2.1zM2274.3 1005h2.1v1.1h-2.1zM2276.7 1005.6h2.1v0.5h-2.1zM2279.1 1005.4h2.1v0.7h-2.1zM2281.5 1004.6h2.1v1.5h-2.1zM2283.9 1005.5h2.1v0.6h-2.1zM2286.2 1005.7h2.1v0.4h-2.1zM2288.6 1005.6h2.1v0.5h-2.1zM2291 1005.1h2.1v1h-2.1zM2293.4 1005.6h2.1v0.5h-2.1zM2295.8 1004.9h2.1v1.2h-2.1zM2298.2 1005.8h2.1v0.3h-2.1zM2300.6 1005.5h2.1v0.6h-2.1zM2302.9 1005.1h2.1v1h-2.1zM2305.3 1005.7h2.1v0.4h-2.1zM2307.7 1005.6h2.1v0.5h-2.1zM2310.1 1005.3h2.1v0.8h-2.1zM2312.5 1005.3h2.1v0.8h-2.1zM2314.9 1005.6h2.1v0.5h-2.1zM2317.2 1005h2.1v1.1h-2.1zM2319.6 1005.6h2.1v0.5h-2.1zM2322 1005.3h2.1v0.8h-2.1zM2324.4 1004.3h2.1v1.8h-2.1zM2326.8 1004.3h2.1v1.8h-2.1zM2329.2 1004.3h2.1v1.8h-2.1z" fill="#4380b0"/>
<path d="M1988.2 1005.2h2.1v0.4h-2.1zM1995.4 1003.9h2.1v0.9h-2.1zM2000.1 1005.4h2.1v0.3h-2.1zM2009.7 1005h2.1v0.5h-2.1zM2012 1005.4h2.1v0.4h-2.1zM2016.8 1003.8h2.1v1h-2.1zM2019.2 1004h2.1v0.9h-2.1zM2026.4 1004.2h2.1v0.8h-2.1zM2028.7 1004h2.1v0.9h-2.1zM2031.1 1005.2h2.1v0.4h-2.1zM2033.5 1005.3h2.1v0.4h-2.1zM2040.7 1004h2.1v0.9h-2.1zM2043 1004.8h2.1v0.6h-2.1zM2045.4 1005h2.1v0.5h-2.1zM2047.8 1004h2.1v0.9h-2.1zM2055 1005.1h2.1v0.4h-2.1zM2057.3 1004.8h2.1v0.6h-2.1zM2059.7 1005h2.1v0.5h-2.1zM2062.1 1005.4h2.1v0.3h-2.1zM2064.5 1005.5h2.1v0.3h-2.1zM2071.7 1005.4h2.1v0.4h-2.1zM2074 1005.4h2.1v0.3h-2.1zM2076.4 1005.3h2.1v0.4h-2.1zM2086 1004h2.1v0.9h-2.1zM2090.7 1004.9h2.1v0.6h-2.1zM2093.1 1004h2.1v0.9h-2.1zM2095.5 1005.1h2.1v0.4h-2.1zM2100.3 1005.3h2.1v0.4h-2.1zM2105 1004h2.1v0.9h-2.1zM2109.8 1005.5h2.1v0.3h-2.1zM2112.2 1005.5h2.1v0.3h-2.1zM2114.6 1005.1h2.1v0.4h-2.1zM2124.1 1005.2h2.1v0.4h-2.1zM2126.5 1005.1h2.1v0.5h-2.1zM2128.9 1005h2.1v0.5h-2.1zM2131.3 1005h2.1v0.5h-2.1zM2136 1005.3h2.1v0.4h-2.1zM2143.2 1005.1h2.1v0.5h-2.1zM2148 1004.2h2.1v0.8h-2.1zM2150.3 1005.2h2.1v0.4h-2.1zM2159.9 1005.5h2.1v0.3h-2.1zM2162.3 1005h2.1v0.5h-2.1zM2169.4 1005.2h2.1v0.4h-2.1zM2171.8 1005.1h2.1v0.5h-2.1zM2174.2 1005.2h2.1v0.4h-2.1zM2176.6 1003.7h2.1v1h-2.1zM2178.9 1003.8h2.1v1h-2.1zM2181.3 1004.9h2.1v0.5h-2.1zM2183.7 1005.5h2.1v0.3h-2.1zM2190.9 1004.9h2.1v0.5h-2.1zM2198 1005.3h2.1v0.4h-2.1zM2202.8 1005.2h2.1v0.4h-2.1zM2209.9 1005.4h2.1v0.3h-2.1zM2214.7 1004.9h2.1v0.5h-2.1zM2217.1 1005.2h2.1v0.4h-2.1zM2224.3 1005.5h2.1v0.3h-2.1zM2226.6 1004h2.1v0.9h-2.1zM2229 1003.7h2.1v1h-2.1zM2233.8 1004.8h2.1v0.6h-2.1zM2236.2 1004.9h2.1v0.5h-2.1zM2238.6 1005.1h2.1v0.5h-2.1zM2240.9 1005.3h2.1v0.4h-2.1zM2245.7 1005.5h2.1v0.3h-2.1zM2248.1 999h2.1v1.8h-2.1zM2250.5 999h2.1v1.8h-2.1zM2260 1003.7h2.1v1h-2.1zM2262.4 1005h2.1v0.5h-2.1zM2267.2 1004.9h2.1v0.5h-2.1zM2281.5 1003.7h2.1v1h-2.1zM2295.8 1004.2h2.1v0.8h-2.1zM2300.6 1005.2h2.1v0.4h-2.1zM2310.1 1004.9h2.1v0.5h-2.1zM2312.5 1004.9h2.1v0.6h-2.1zM2322 1004.9h2.1v0.5h-2.1z" fill="#211c5a"/>
<path d="M1990.6 1003.8h2.1v1.2h-2.1zM1993 1003.8h2.1v1.2h-2.1zM1997.7 1005h2.1v0.6h-2.1zM2002.5 1005.2h2.1v0.5h-2.1zM2004.9 1005h2.1v0.6h-2.1zM2007.3 1005.5h2.1v0.4h-2.1zM2014.4 1005h2.1v0.6h-2.1zM2021.6 1003.7h2.1v1.2h-2.1zM2024 1005.5h2.1v0.4h-2.1zM2035.9 1005.1h2.1v0.5h-2.1zM2038.3 1003.7h2.1v1.2h-2.1zM2050.2 1005.1h2.1v0.6h-2.1zM2052.6 1005.5h2.1v0.4h-2.1zM2066.9 1003.8h2.1v1.2h-2.1zM2069.3 1005h2.1v0.6h-2.1zM2078.8 1005.1h2.1v0.6h-2.1zM2081.2 1004.2h2.1v1h-2.1zM2083.6 1005.4h2.1v0.4h-2.1zM2088.3 1005.4h2.1v0.4h-2.1zM2097.9 1005.2h2.1v0.5h-2.1zM2102.7 1005h2.1v0.6h-2.1zM2107.4 1005.2h2.1v0.5h-2.1zM2117 1005.2h2.1v0.5h-2.1zM2119.3 1003.7h2.1v1.2h-2.1zM2121.7 1004.9h2.1v0.6h-2.1zM2133.6 1003.9h2.1v1.1h-2.1zM2138.4 1005h2.1v0.6h-2.1zM2140.8 1003.8h2.1v1.2h-2.1zM2145.6 1005.5h2.1v0.4h-2.1zM2152.7 1005h2.1v0.6h-2.1zM2155.1 1005.5h2.1v0.3h-2.1zM2157.5 1004.9h2.1v0.7h-2.1zM2164.6 1004.3h2.1v1h-2.1zM2167 1004.9h2.1v0.7h-2.1zM2186.1 1005h2.1v0.6h-2.1zM2188.5 1004.9h2.1v0.6h-2.1zM2193.3 1005.3h2.1v0.4h-2.1zM2195.6 1005.2h2.1v0.5h-2.1zM2200.4 1005.2h2.1v0.5h-2.1zM2205.2 1005.3h2.1v0.4h-2.1zM2207.6 1005.4h2.1v0.4h-2.1zM2212.3 1005.2h2.1v0.5h-2.1zM2219.5 1005.2h2.1v0.5h-2.1zM2221.9 1005.3h2.1v0.4h-2.1zM2231.4 1004.3h2.1v1h-2.1zM2243.3 1005.1h2.1v0.5h-2.1zM2252.9 1005.4h2.1v0.4h-2.1zM2255.2 1005.4h2.1v0.4h-2.1zM2257.6 1005.3h2.1v0.5h-2.1zM2264.8 1005.4h2.1v0.4h-2.1zM2269.6 1005.1h2.1v0.6h-2.1zM2271.9 1004.8h2.1v0.7h-2.1zM2274.3 1004h2.1v1.1h-2.1zM2276.7 1005.3h2.1v0.5h-2.1zM2279.1 1004.9h2.1v0.7h-2.1zM2283.9 1004.9h2.1v0.6h-2.1zM2286.2 1005.4h2.1v0.4h-2.1zM2288.6 1005.2h2.1v0.5h-2.1zM2291 1004.3h2.1v1h-2.1zM2293.4 1005.1h2.1v0.5h-2.1zM2298.2 1005.5h2.1v0.3h-2.1zM2302.9 1004.3h2.1v1h-2.1zM2305.3 1005.4h2.1v0.4h-2.1zM2307.7 1005.1h2.1v0.5h-2.1zM2314.9 1005.2h2.1v0.5h-2.1zM2317.2 1003.9h2.1v1.1h-2.1zM2319.6 1005.2h2.1v0.5h-2.1zM2336.3 1005.1h2.1v1h-2.1zM2338.7 1004h2.1v2.1h-2.1zM2348.2 1005h2.1v1.1h-2.1zM2350.6 1005.5h2.1v0.6h-2.1zM2353 1004.9h2.1v1.2h-2.1zM2355.4 1004.9h2.1v1.2h-2.1zM2357.8 1003.8h2.1v2.3h-2.1zM2362.5 1005h2.1v1.1h-2.1zM2364.9 1005.5h2.1v0.6h-2.1zM2369.7 1004.1h2.1v2h-2.1zM2374.5 1005.1h2.1v1h-2.1zM2379.2 1005.3h2.1v0.8h-2.1zM2391.2 1004.9h2.1v1.2h-2.1zM2407.8 1005.5h2.1v0.6h-2.1zM2415 1005.1h2.1v1h-2.1zM2422.2 1004.9h2.1v1.2h-2.1zM2424.5 1004.3h2.1v1.8h-2.1zM2426.9 1005.2h2.1v0.9h-2.1zM2429.3 1005h2.1v1.1h-2.1zM2431.7 1005.4h2.1v0.7h-2.1zM2434.1 1005.3h2.1v0.8h-2.1zM2436.5 1005.3h2.1v0.8h-2.1zM2438.8 1004.9h2.1v1.2h-2.1zM2443.6 1005.2h2.1v0.9h-2.1zM2448.4 1005h2.1v1.1h-2.1zM2450.8 1005.5h2.1v0.6h-2.1zM2462.7 1005.3h2.1v0.8h-2.1zM2467.5 1005.2h2.1v0.9h-2.1zM2469.8 1005.3h2.1v0.8h-2.1zM2472.2 1005.4h2.1v0.7h-2.1zM2474.6 1004.2h2.1v1.9h-2.1zM2477 1005.4h2.1v0.7h-2.1zM2479.4 1005h2.1v1.1h-2.1zM2484.2 1005h2.1v1.1h-2.1zM2493.7 1005.1h2.1v1h-2.1zM2496.1 1004.3h2.1v1.8h-2.1zM2498.5 1005.4h2.1v0.7h-2.1zM2508 1005h2.1v1.1h-2.1zM2515.1 1005.4h2.1v0.7h-2.1zM2517.5 1005.1h2.1v1h-2.1zM2519.9 1005.5h2.1v0.6h-2.1zM2522.3 1005h2.1v1.1h-2.1zM2531.8 1005.5h2.1v0.6h-2.1zM2534.2 1003.9h2.1v2.2h-2.1zM2536.6 1005.4h2.1v0.7h-2.1zM2539 1005.2h2.1v0.9h-2.1zM2546.1 1005h2.1v1.1h-2.1zM2548.5 1005.3h2.1v0.8h-2.1zM2550.9 1005.2h2.1v0.9h-2.1zM2553.3 1004.3h2.1v1.8h-2.1zM2555.7 1004.9h2.1v1.2h-2.1zM2558.1 1004.9h2.1v1.2h-2.1zM2565.2 1004.2h2.1v1.9h-2.1zM2577.1 1005.2h2.1v0.9h-2.1zM2579.5 1005.3h2.1v0.8h-2.1zM2586.7 1005.3h2.1v0.8h-2.1zM2589.1 1004.9h2.1v1.2h-2.1zM2596.2 1005.5h2.1v0.6h-2.1zM2598.6 1005.5h2.1v0.6h-2.1zM2601 1005.2h2.1v0.9h-2.1zM2624.8 1005.1h2.1v1h-2.1zM2636.8 1005.2h2.1v0.9h-2.1zM2641.5 1004.8h2.1v1.3h-2.1zM2646.3 1005.3h2.1v0.8h-2.1zM2653.4 1005.5h2.1v0.6h-2.1zM2658.2 1005.1h2.1v1h-2.1zM2660.6 1005.1h2.1v1h-2.1zM2667.7 1004.9h2.1v1.2h-2.1zM2670.1 1005h2.1v1.1h-2.1zM2674.9 1004.3h2.1v1.8h-2.1zM2677.3 1005h2.1v1.1h-2.1zM2689.2 1004h2.1v2.1h-2.1zM2694 1003.8h2.1v2.3h-2.1zM2696.4 1005.4h2.1v0.7h-2.1zM2698.7 1005.1h2.1v1h-2.1zM2701.1 1005.5h2.1v0.6h-2.1zM2703.5 1003.9h2.1v2.2h-2.1zM2708.3 1004.9h2.1v1.2h-2.1zM2713.1 1005.1h2.1v1h-2.1zM2727.4 1005h2.1v1.1h-2.1zM2729.7 1005.4h2.1v0.7h-2.1zM2732.1 1005.5h2.1v0.6h-2.1zM2734.5 1003.8h2.1v2.3h-2.1zM2736.9 1005h2.1v1.1h-2.1zM2739.3 1005.1h2.1v1h-2.1zM2744 1004h2.1v2.1h-2.1zM2748.8 1004.9h2.1v1.2h-2.1z" fill="#9080b8"/>
<path d="M2324.4 999.6h2.1v4.7h-2.1zM2326.8 999.6h2.1v4.7h-2.1zM2329.2 999.6h2.1v4.7h-2.1zM2331.6 1005.8h2.1v0.3h-2.1zM2333.9 1005.7h2.1v0.4h-2.1zM2341.1 1005.5h2.1v0.6h-2.1zM2343.5 1005.7h2.1v0.4h-2.1zM2345.9 1005.7h2.1v0.4h-2.1zM2360.2 1005.8h2.1v0.3h-2.1zM2367.3 1005.7h2.1v0.4h-2.1zM2372.1 1005.8h2.1v0.3h-2.1zM2376.9 1005.4h2.1v0.7h-2.1zM2381.6 1005.7h2.1v0.4h-2.1zM2384 1005.9h2.1v0.2h-2.1zM2386.4 1005.8h2.1v0.3h-2.1zM2388.8 1005.7h2.1v0.4h-2.1zM2393.5 1005.8h2.1v0.3h-2.1zM2395.9 1005.7h2.1v0.4h-2.1zM2398.3 1005.8h2.1v0.3h-2.1zM2400.7 1005.7h2.1v0.4h-2.1zM2403.1 1005.7h2.1v0.4h-2.1zM2405.5 1005.7h2.1v0.4h-2.1zM2410.2 1005.4h2.1v0.7h-2.1zM2412.6 1005.7h2.1v0.4h-2.1zM2417.4 1005.7h2.1v0.4h-2.1zM2419.8 1005.8h2.1v0.3h-2.1zM2441.2 1005.7h2.1v0.4h-2.1zM2446 1005.4h2.1v0.7h-2.1zM2453.2 1005.8h2.1v0.3h-2.1zM2455.5 1005.8h2.1v0.3h-2.1zM2457.9 1005.8h2.1v0.3h-2.1zM2460.3 1005.7h2.1v0.4h-2.1zM2465.1 1005.7h2.1v0.4h-2.1zM2481.8 1005.3h2.1v0.8h-2.1zM2486.5 1005.5h2.1v0.6h-2.1zM2488.9 1005.8h2.1v0.3h-2.1zM2500.8 1005.8h2.1v0.3h-2.1zM2503.2 1005.7h2.1v0.4h-2.1zM2505.6 1005.8h2.1v0.3h-2.1zM2510.4 1005.8h2.1v0.3h-2.1zM2512.8 1005.7h2.1v0.4h-2.1zM2524.7 1005.7h2.1v0.4h-2.1zM2527.1 1005.4h2.1v0.7h-2.1zM2529.5 1005.5h2.1v0.6h-2.1zM2541.4 1005.8h2.1v0.3h-2.1zM2543.8 1005.8h2.1v0.3h-2.1zM2560.4 1005.8h2.1v0.3h-2.1zM2562.8 1005.7h2.1v0.4h-2.1zM2567.6 1005.7h2.1v0.4h-2.1zM2570 1005.7h2.1v0.4h-2.1zM2572.4 1005.8h2.1v0.3h-2.1zM2574.8 1005.8h2.1v0.3h-2.1zM2581.9 1005.8h2.1v0.3h-2.1zM2584.3 1005.8h2.1v0.3h-2.1zM2591.4 1005.7h2.1v0.4h-2.1zM2593.8 1005.5h2.1v0.6h-2.1zM2603.4 1005.7h2.1v0.4h-2.1zM2605.8 1005.7h2.1v0.4h-2.1zM2608.1 1005.9h2.1v0.2h-2.1zM2610.5 1005.8h2.1v0.3h-2.1zM2612.9 1005.5h2.1v0.6h-2.1zM2615.3 1005.8h2.1v0.3h-2.1zM2617.7 1005.8h2.1v0.3h-2.1zM2620.1 1005.8h2.1v0.3h-2.1zM2622.4 1005.7h2.1v0.4h-2.1zM2627.2 1005.7h2.1v0.4h-2.1zM2629.6 1005.3h2.1v0.8h-2.1zM2632 1005.8h2.1v0.3h-2.1zM2634.4 1005.8h2.1v0.3h-2.1zM2639.1 1005.7h2.1v0.4h-2.1zM2643.9 1005.8h2.1v0.3h-2.1zM2648.7 1005.8h2.1v0.3h-2.1zM2651.1 1005.7h2.1v0.4h-2.1zM2655.8 1005.8h2.1v0.3h-2.1zM2663 1005.7h2.1v0.4h-2.1zM2665.4 1005.5h2.1v0.6h-2.1zM2672.5 1005.8h2.1v0.3h-2.1zM2679.7 1005.8h2.1v0.3h-2.1zM2682.1 1005.3h2.1v0.8h-2.1zM2684.4 1005.7h2.1v0.4h-2.1zM2686.8 1005.8h2.1v0.3h-2.1zM2691.6 1005.8h2.1v0.3h-2.1zM2705.9 1005.5h2.1v0.6h-2.1zM2710.7 1005.8h2.1v0.3h-2.1zM2715.4 1005.7h2.1v0.4h-2.1zM2717.8 1005.8h2.1v0.3h-2.1zM2720.2 1005.4h2.1v0.7h-2.1zM2722.6 1005.8h2.1v0.3h-2.1zM2725 1005.5h2.1v0.6h-2.1zM2741.7 1005.3h2.1v0.8h-2.1zM2746.4 1005.7h2.1v0.4h-2.1z" fill="#a02a4a"/>
<path d="M2324.4 997.3h2.1v2.4h-2.1zM2326.8 997.3h2.1v2.4h-2.1zM2329.2 997.3h2.1v2.4h-2.1zM2331.6 1005.3h2.1v0.6h-2.1zM2333.9 1005.1h2.1v0.7h-2.1zM2341.1 1004.2h2.1v1.3h-2.1zM2343.5 1005h2.1v0.8h-2.1zM2345.9 1005.1h2.1v0.7h-2.1zM2360.2 1005.3h2.1v0.6h-2.1zM2367.3 1005.1h2.1v0.8h-2.1zM2372.1 1005.3h2.1v0.6h-2.1zM2376.9 1004.1h2.1v1.4h-2.1zM2381.6 1004.9h2.1v0.9h-2.1zM2384 1005.5h2.1v0.4h-2.1zM2386.4 1005.5h2.1v0.5h-2.1zM2388.8 1005.1h2.1v0.7h-2.1zM2393.5 1005.2h2.1v0.7h-2.1zM2395.9 1005h2.1v0.8h-2.1zM2398.3 1005.2h2.1v0.7h-2.1zM2400.7 1005h2.1v0.8h-2.1zM2403.1 1005.1h2.1v0.8h-2.1zM2405.5 1005.1h2.1v0.7h-2.1zM2410.2 1003.9h2.1v1.6h-2.1zM2412.6 1005.1h2.1v0.7h-2.1zM2417.4 1004.9h2.1v0.9h-2.1zM2419.8 1005.3h2.1v0.6h-2.1zM2441.2 1005.1h2.1v0.7h-2.1zM2446 1004.1h2.1v1.5h-2.1zM2453.2 1005.3h2.1v0.6h-2.1zM2455.5 1005.5h2.1v0.5h-2.1zM2457.9 1005.5h2.1v0.5h-2.1zM2460.3 1005h2.1v0.8h-2.1zM2465.1 1004.9h2.1v0.9h-2.1zM2481.8 1003.8h2.1v1.6h-2.1zM2486.5 1004.3h2.1v1.3h-2.1zM2488.9 1005.2h2.1v0.7h-2.1zM2500.8 1005.5h2.1v0.5h-2.1zM2503.2 1004.9h2.1v0.9h-2.1zM2505.6 1005.5h2.1v0.5h-2.1zM2510.4 1005.2h2.1v0.7h-2.1zM2512.8 1005.1h2.1v0.7h-2.1zM2524.7 1004.9h2.1v0.9h-2.1zM2527.1 1004.1h2.1v1.4h-2.1zM2529.5 1004.3h2.1v1.3h-2.1zM2541.4 1005.4h2.1v0.5h-2.1zM2543.8 1005.5h2.1v0.5h-2.1zM2560.4 1005.4h2.1v0.5h-2.1zM2562.8 1005h2.1v0.8h-2.1zM2567.6 1005.1h2.1v0.8h-2.1zM2570 1005h2.1v0.8h-2.1zM2572.4 1005.4h2.1v0.5h-2.1zM2574.8 1005.2h2.1v0.7h-2.1zM2581.9 1005.4h2.1v0.5h-2.1zM2584.3 1005.4h2.1v0.6h-2.1zM2591.4 1005h2.1v0.8h-2.1zM2593.8 1004.3h2.1v1.3h-2.1zM2603.4 1005.1h2.1v0.7h-2.1zM2605.8 1005h2.1v0.8h-2.1zM2608.1 1005.5h2.1v0.4h-2.1zM2610.5 1005.3h2.1v0.6h-2.1zM2612.9 1004.2h2.1v1.3h-2.1zM2615.3 1005.3h2.1v0.6h-2.1zM2617.7 1005.2h2.1v0.7h-2.1zM2620.1 1005.2h2.1v0.7h-2.1zM2622.4 1005h2.1v0.8h-2.1zM2627.2 1004.9h2.1v0.9h-2.1zM2629.6 1003.7h2.1v1.7h-2.1zM2632 1005.5h2.1v0.5h-2.1zM2634.4 1005.3h2.1v0.6h-2.1zM2639.1 1004.9h2.1v0.9h-2.1zM2643.9 1005.5h2.1v0.5h-2.1zM2648.7 1005.3h2.1v0.6h-2.1zM2651.1 1005.1h2.1v0.7h-2.1zM2655.8 1005.3h2.1v0.6h-2.1zM2663 1004.9h2.1v0.9h-2.1zM2665.4 1004.3h2.1v1.3h-2.1zM2672.5 1005.3h2.1v0.6h-2.1zM2679.7 1005.4h2.1v0.5h-2.1zM2682.1 1003.8h2.1v1.7h-2.1zM2684.4 1005.1h2.1v0.7h-2.1zM2686.8 1005.5h2.1v0.5h-2.1zM2691.6 1005.2h2.1v0.7h-2.1zM2705.9 1004.3h2.1v1.3h-2.1zM2710.7 1005.5h2.1v0.5h-2.1zM2715.4 1005.2h2.1v0.7h-2.1zM2717.8 1005.5h2.1v0.5h-2.1zM2720.2 1003.8h2.1v1.6h-2.1zM2722.6 1005.2h2.1v0.7h-2.1zM2725 1004.2h2.1v1.4h-2.1zM2741.7 1003.8h2.1v1.7h-2.1zM2746.4 1004.9h2.1v0.9h-2.1z" fill="#3f8a45"/>
<path d="M2491.3 948h2.1v58.1h-2.1z" fill="#a540b0"/>
<rect x="2706" y="947.5" width="45.5" height="59" fill="#000" fill-opacity="0.16" stroke="#7e7e7e" stroke-width="1"/>
<rect x="1987.5" y="947.5" width="764" height="59" fill="none" stroke="#878787" stroke-width="1"/>
<g>
<rect x="478.3" y="587.3" width="18.9" height="25.4" rx="9.4" ry="9.6" fill="none" stroke="#404040" stroke-width="1.1"/>
<text x="487.8" y="606" text-anchor="middle" textLength="9.8" lengthAdjust="spacingAndGlyphs" font-weight="bold" font-size="16.5">6</text>
<text x="510.8" y="607" textLength="90.5" lengthAdjust="spacingAndGlyphs">Page Views</text>
<path d="M615 597.2h13l-6.5 9.8z" fill="#404040"/>
<text x="266.3" y="662" textLength="9.5" lengthAdjust="spacingAndGlyphs">0</text>
<text x="365" y="662" textLength="83.8" lengthAdjust="spacingAndGlyphs">1.000.000</text>
<text x="507.5" y="662" textLength="84" lengthAdjust="spacingAndGlyphs">2.000.000</text>
<text x="651" y="662" textLength="83.5" lengthAdjust="spacingAndGlyphs">3.000.000</text>
<text x="750.7" y="662" textLength="84" lengthAdjust="spacingAndGlyphs">4.000.000</text>
<path d="M406.5 670V1006" stroke="#959595" stroke-width="1.2" stroke-dasharray="4.5 3.5" fill="none"/>
<path d="M549.5 670V1006" stroke="#959595" stroke-width="1.2" stroke-dasharray="4.5 3.5" fill="none"/>
<path d="M692.3 670V1006" stroke="#959595" stroke-width="1.2" stroke-dasharray="4.5 3.5" fill="none"/>
<path d="M834.8 670V1006" stroke="#959595" stroke-width="1.2" stroke-dasharray="4.5 3.5" fill="none"/>
<rect x="263.6" y="670.7" width="519.2" height="14.9" fill="#1f1a55"/>
<rect x="263.6" y="687.5" width="311.2" height="14.9" fill="#4178a3"/>
<rect x="263.6" y="704.4" width="156" height="14.9" fill="#3e803e"/>
<rect x="263.6" y="721.2" width="120" height="14.9" fill="#872642"/>
<rect x="263.6" y="738" width="96" height="14.9" fill="#4f9a93"/>
<rect x="263.6" y="754.9" width="80" height="14.9" fill="#a23aa8"/>
<rect x="263.6" y="771.7" width="66" height="14.9" fill="#8a9a38"/>
<rect x="263.6" y="788.5" width="54" height="14.9" fill="#8a78b0"/>
<rect x="263.6" y="805.3" width="45" height="14.9" fill="#4a1a78"/>
<rect x="263.6" y="822.2" width="38" height="14.9" fill="#a85560"/>
<rect x="263.6" y="839" width="31" height="14.9" fill="#8890a8"/>
<rect x="263.6" y="855.8" width="25" height="14.9" fill="#9fa83a"/>
<rect x="263.6" y="872.7" width="20" height="14.9" fill="#a82020"/>
<rect x="263.6" y="889.5" width="16" height="14.9" fill="#0e1a10"/>
<rect x="263.6" y="906.3" width="12" height="14.9" fill="#4f9a93"/>
<rect x="263.6" y="923.2" width="9" height="14.9" fill="#3e803e"/>
<rect x="263.6" y="940" width="6" height="14.9" fill="#872642"/>
<rect x="263.6" y="956.8" width="3.2" height="14.9" fill="#4178a3"/>
<rect x="263.6" y="973.6" width="1.6" height="14.9" fill="#4a1a78"/>
<rect x="263.6" y="990.5" width="1.6" height="14.9" fill="#1f1a55"/>
<text x="254.5" y="684.3" text-anchor="end" textLength="134" lengthAdjust="spacingAndGlyphs">google / organi…</text>
<text x="254.5" y="718" text-anchor="end" textLength="97" lengthAdjust="spacingAndGlyphs">google / cpc</text>
<text x="254.5" y="987.2" text-anchor="end" textLength="139.5" lengthAdjust="spacingAndGlyphs">youtube.com / r…</text>
<rect x="842.3" y="670" width="59.5" height="336" fill="none" stroke="#7f7f7f" stroke-width="1"/>
<rect x="842.3" y="670" width="59.5" height="21" fill="#000" fill-opacity="0.15" stroke="#858585" stroke-width="1"/>
<path d="M843 670.6h58v.8h-36v.8h-14v.9h-5v1h-2v2h-1z" fill="#55607f"/>
<path d="M42.1 743.3v13.6l9.8 -6.5z" fill="#404040"/>
<text transform="translate(51.5,896.5) rotate(-90)" textLength="127" lengthAdjust="spacingAndGlyphs">Source/Medium</text>
<path transform="translate(41.9,921) rotate(180)" d="M-1.5 8.5A8.6 8.6 0 1 1 6.8 5.3L2.5 8.6M2.5 8.6V3.2M2.5 8.6H7.9" fill="none" stroke="#404040" stroke-width="1.1"/>
</g>
</svg>
<div id="popup">
<svg width="450" height="243" viewBox="69 717 450 243" font-size="19.3" fill="#404040">
<clipPath id="pc"><rect x="73" y="720.9" width="442.3" height="235.3" rx="12" ry="12"/></clipPath>
<rect x="73" y="720.9" width="442.3" height="235.3" rx="12" ry="12" fill="#dedede"/>
<rect x="72" y="870.4" width="445" height="43" fill="#f0f0f0" clip-path="url(#pc)"/>
<path d="M73 784.2H515.3M73 827.4H515.3M73 870.4H515.3M73 913.3H515.3" stroke="#0d0d22" stroke-width="1.15" fill="none"/>
<rect x="73" y="720.9" width="442.3" height="235.3" rx="12" ry="12" fill="none" stroke="#0d0d22" stroke-width="1.3"/>
<path d="M158.5 745.6H173.5M166.3 753.2H173.5M166.3 760.5H173.5" stroke="#595959" stroke-width="1.7" fill="none"/>
<path d="M152.3 762.6A6.1 6.1 0 1 1 162 758.6L157.6 764.2M157.6 764.4V758.4M157.4 763.9H163" stroke="#595959" stroke-width="1.6" fill="none"/>
<text x="184.3" y="763" textLength="163.3" lengthAdjust="spacingAndGlyphs" fill="#595959">CY_SourceMedium</text>
<text x="198.3" y="814" textLength="126" lengthAdjust="spacingAndGlyphs" fill="#595959">ChannelGroup</text>
<path d="M151.3 848L148.8 850.6L155.8 858.1L169.2 844.6L166.5 842L155.8 852.7z" fill="#595959"/>
<text x="198.3" y="857.2" textLength="138" lengthAdjust="spacingAndGlyphs" fill="#595959">Source/Medium</text>
<text x="198.3" y="900.2" textLength="140" lengthAdjust="spacingAndGlyphs" fill="#595959">CampaignName</text>
<text x="198.3" y="943" textLength="258" lengthAdjust="spacingAndGlyphs" fill="#595959">CampaignName (self defined)</text>
</svg></div>
</body></html>
